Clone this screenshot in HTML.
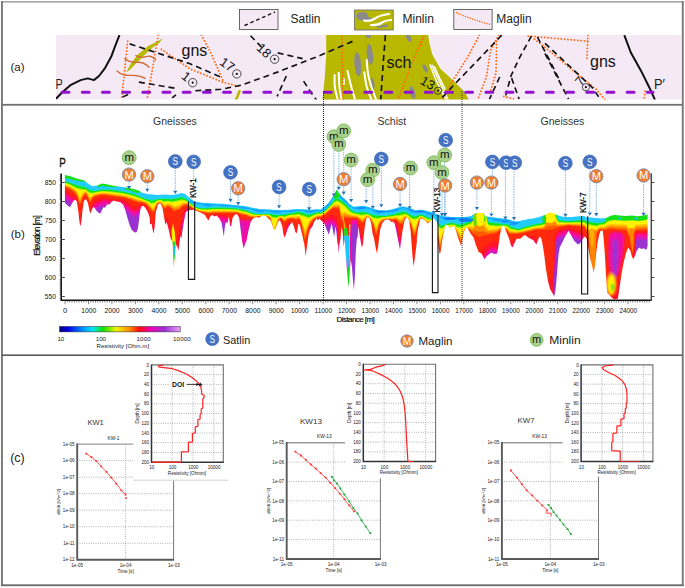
<!DOCTYPE html><html><head><meta charset="utf-8"><title>fig</title>
<style>html,body{margin:0;padding:0;background:#fff}body{width:685px;height:588px;overflow:hidden;font-family:"Liberation Sans",sans-serif}svg{display:block}text{font-family:"Liberation Sans",sans-serif}</style></head><body>
<svg width="685" height="588" viewBox="0 0 685 588">
<rect width="685" height="588" fill="#fff"/>
<g id="frame">
<rect x="1" y="1" width="682.6" height="1.7" fill="#aaaaaa"/>
<rect x="1" y="1" width="1.9" height="585" fill="#777"/>
<rect x="681.8" y="1" width="1.9" height="585" fill="#777"/>
<rect x="1" y="584.3" width="682.6" height="1.9" fill="#6e6e6e"/>
<rect x="2" y="103.9" width="680" height="1.8" fill="#707070"/>
<rect x="2" y="354.4" width="680" height="1.6" fill="#5a5a5a"/>
</g>
<g id="panelA">
<rect x="239.5" y="9.5" width="38.5" height="20" fill="#f6e9f6" stroke="#444" stroke-width="0.8"/>
<path d="M244.5 25.5 L275 12" stroke="#111" stroke-width="1.4" stroke-dasharray="3.6 2.8" fill="none"/>
<text x="290.5" y="23" font-size="12" fill="#222">Satlin</text>
<rect x="354.5" y="10" width="38.7" height="20" fill="#b9b800" stroke="#666" stroke-width="0.8"/>
<path d="M356 16 Q357 12 362 12 L366 12 Q368 14 368.5 17 L372 18 Q371 21 366 21 L361 20.5 Q357 20 356 16Z" fill="#8b8b8b"/>
<path d="M375 25.5 Q378 26.5 381 25.5 L388 24 L387 27 L378 28 Z" fill="#8b8b8b"/>
<path d="M364 20.5 Q370 22 375 18.5 Q380 15 389 14" stroke="#fff" stroke-width="2.2" fill="none" stroke-linecap="round"/>
<path d="M371 25 Q378 25.5 382 22.5 Q386 20 391 20" stroke="#fff" stroke-width="2.2" fill="none" stroke-linecap="round"/>
<text x="402.5" y="23" font-size="12" fill="#222">Minlin</text>
<rect x="453.8" y="9.5" width="38.3" height="20" fill="#f6e9f6" stroke="#444" stroke-width="0.8"/>
<path d="M456 12.5 Q470 19 490.5 24.5" stroke="#ff6a13" stroke-width="1.5" stroke-dasharray="1.2 1.3" fill="none"/>
<text x="496.3" y="23" font-size="12" fill="#222">Maglin</text>
<clipPath id="mapclip"><rect x="56" y="35" width="625" height="64.6"/></clipPath>
<rect x="56" y="35" width="625" height="64.6" fill="#f6e9f6"/>
<g clip-path="url(#mapclip)">
<path d="M326.2 35.1 L326.2 56.6 L324.9 75.0 L323.5 91.3 L322.5 100.5 L469.0 100.5 L466.6 95.4 L463.9 91.3 L452.7 80.1 L440.4 68.8 L432.3 54.5 L429.2 42.3 L428.2 35.1 Z" fill="#b9b800"/>
<ellipse cx="368.1" cy="36.1" rx="3.0" ry="1.8" fill="#8b8b8b" transform="rotate(15 368.1 36.1)"/>
<ellipse cx="369.9" cy="54.5" rx="3.1" ry="10.5" fill="#8b8b8b" transform="rotate(-6 369.9 54.5)"/>
<ellipse cx="357.8" cy="64.3" rx="3.4" ry="12.0" fill="#8b8b8b" transform="rotate(-5 357.8 64.3)"/>
<ellipse cx="408.7" cy="37.8" rx="2.2" ry="4.2" fill="#8b8b8b" transform="rotate(-25 408.7 37.8)"/>
<ellipse cx="425.1" cy="68.4" rx="1.8" ry="4.2" fill="#8b8b8b" transform="rotate(-30 425.1 68.4)"/>
<ellipse cx="372.6" cy="83.5" rx="1.8" ry="6.0" fill="#8b8b8b" transform="rotate(-8 372.6 83.5)"/>
<ellipse cx="412.6" cy="92.6" rx="2.6" ry="6.5" fill="#8b8b8b" transform="rotate(-15 412.6 92.6)"/>
<ellipse cx="425.4" cy="68.5" rx="1.5" ry="4.2" fill="#8b8b8b" transform="rotate(-25 425.4 68.5)"/>
<path d="M334.6 75.1 Q334.4 85.0 335.1 88.5 Q335.8 92.0 337.8 100.0" stroke="#fff" stroke-width="2.0" fill="none" stroke-linecap="round"/>
<path d="M338.7 72.8 Q339.1 85.0 339.6 88.5 Q340.0 92.0 341.8 100.0" stroke="#fff" stroke-width="2.0" fill="none" stroke-linecap="round"/>
<path d="M343.9 79.0 L343.9 84.0" stroke="#fff" stroke-width="1.8" fill="none" stroke-linecap="round"/>
<path d="M347.5 71.0 Q349.6 80.0 350.8 85.0 Q352.0 90.0 355.2 100.0" stroke="#fff" stroke-width="2.0" fill="none" stroke-linecap="round"/>
<path d="M364.4 72.2 Q365.4 82.0 366.7 86.5 Q368.0 91.0 371.6 100.0" stroke="#fff" stroke-width="2.0" fill="none" stroke-linecap="round"/>
<path d="M366.7 59.9 Q367.4 72.0 368.9 78.0 Q370.5 84.0 372.0 88.5 Q373.5 93.0 376.3 100.0" stroke="#fff" stroke-width="2.0" fill="none" stroke-linecap="round"/>
<path d="M430.1 65.0 Q434.5 77.0 437.2 82.8 Q440.0 88.5 446.3 100.0" stroke="#fff" stroke-width="1.5" fill="none" stroke-linecap="round"/>
<path d="M432.1 65.2 Q437.0 77.0 440.0 82.8 Q443.0 88.5 448.2 100.0" stroke="#fff" stroke-width="1.5" fill="none" stroke-linecap="round"/>
<path d="M434.5 66.9 Q439.5 79.0 445.0 88.6" stroke="#fff" stroke-width="1.5" fill="none" stroke-linecap="round"/>
<path d="M126.0 72.5 L130.7 63.7 L137.9 54.5 L148.1 45.9 L156.3 41.9 L162.8 38.2 L159.3 42.7 L152.2 48.0 L144.0 55.5 L135.8 63.7 L129.7 69.9 Z" fill="#b9b800"/>
<path d="M239.5 91.3 L236.4 99.1" stroke="#b9b800" stroke-width="2.6" fill="none" stroke-linecap="round"/>
<path d="M124.6 58.6 Q129.7 62.7 136.9 62.3 T149.1 67.2" stroke="#cf6a32" stroke-width="1.3" fill="none" stroke-linecap="round"/>
<path d="M135.8 55.5 Q140.9 58.6 146.1 56.6 T155.7 59.8" stroke="#cf6a32" stroke-width="1.3" fill="none" stroke-linecap="round"/>
<path d="M117.0 70.9 Q122.6 76.0 130.7 75.4 T145.2 78.4" stroke="#cf6a32" stroke-width="1.3" fill="none" stroke-linecap="round"/>
<path d="M127.7 41.2 L121.5 99.5" stroke="#ff6a13" stroke-width="1.9" stroke-dasharray="0.01 3.3" stroke-linecap="round" fill="none"/>
<path d="M158.3 35.1 L147.1 99.5" stroke="#ff6a13" stroke-width="1.9" stroke-dasharray="0.01 3.3" stroke-linecap="round" fill="none"/>
<path d="M161.4 49.4 L190.0 68.8 L223.9 82.7 L241.3 86.8" stroke="#ff6a13" stroke-width="1.9" stroke-dasharray="0.01 3.3" stroke-linecap="round" fill="none"/>
<path d="M201.5 35.1 L210.7 52.5 L223.9 82.7" stroke="#ff6a13" stroke-width="1.9" stroke-dasharray="0.01 3.3" stroke-linecap="round" fill="none"/>
<path d="M341.9 36.1 L342.9 99.5" stroke="#ff6a13" stroke-width="1.9" stroke-dasharray="0.01 3.3" stroke-linecap="round" fill="none"/>
<path d="M423.6 36.1 L410.4 66.8 L398.1 99.5" stroke="#ff6a13" stroke-width="1.9" stroke-dasharray="0.01 3.3" stroke-linecap="round" fill="none"/>
<path d="M420.6 45.3 L423.7 37.2" stroke="#ff6a13" stroke-width="1.9" stroke-dasharray="0.01 3.3" stroke-linecap="round" fill="none"/>
<path d="M479.3 35.1 L468.0 56.6 L453.7 79.0 L442.5 99.5" stroke="#ff6a13" stroke-width="1.9" stroke-dasharray="0.01 3.3" stroke-linecap="round" fill="none"/>
<path d="M498.7 35.1 L490.5 50.4 L486.4 77.0 L477.8 99.5" stroke="#ff6a13" stroke-width="1.9" stroke-dasharray="0.01 3.3" stroke-linecap="round" fill="none"/>
<path d="M496.6 41.2 L496.0 72.9 L490.5 91.3" stroke="#ff6a13" stroke-width="1.9" stroke-dasharray="0.01 3.3" stroke-linecap="round" fill="none"/>
<path d="M503.8 96.4 L515.0 99.5" stroke="#ff6a13" stroke-width="1.9" stroke-dasharray="0.01 3.3" stroke-linecap="round" fill="none"/>
<path d="M528.3 36.1 L587.9 41.2" stroke="#ff6a13" stroke-width="1.9" stroke-dasharray="0.01 3.3" stroke-linecap="round" fill="none"/>
<path d="M587.9 35.1 L586.9 60.7" stroke="#ff6a13" stroke-width="1.9" stroke-dasharray="0.01 3.3" stroke-linecap="round" fill="none"/>
<path d="M534.4 39.2 L545.0 47.4 L596.1 89.3 L605.3 99.9" stroke="#ff6a13" stroke-width="1.9" stroke-dasharray="0.01 3.3" stroke-linecap="round" fill="none"/>
<path d="M645.1 91.3 L643.9 99.5" stroke="#ff6a13" stroke-width="1.9" stroke-dasharray="0.01 3.3" stroke-linecap="round" fill="none"/>
<path d="M129.7 43.9 L190.0 63.7 L222.9 78.0" stroke="#111" stroke-width="1.65" stroke-dasharray="6 4" fill="none"/>
<path d="M138.9 82.1 L174.7 88.2" stroke="#111" stroke-width="1.65" stroke-dasharray="6 4" fill="none"/>
<path d="M122.6 97.0 L129.3 94.0" stroke="#111" stroke-width="1.65" stroke-dasharray="6 4" fill="none"/>
<path d="M172.2 97.9 L175.9 94.8" stroke="#111" stroke-width="1.65" stroke-dasharray="6 4" fill="none"/>
<path d="M195.3 90.7 L220.9 89.3 L241.3 85.2 L278.1 71.9 L320.0 55.5 L355.2 40.2" stroke="#111" stroke-width="1.65" stroke-dasharray="6 4" fill="none"/>
<path d="M250.5 35.7 L261.7 47.4" stroke="#111" stroke-width="1.65" stroke-dasharray="6 4" fill="none"/>
<path d="M277.7 52.9 L302.6 58.6" stroke="#111" stroke-width="1.65" stroke-dasharray="6 4" fill="none"/>
<path d="M286.3 76.0 L277.1 96.4" stroke="#111" stroke-width="1.65" stroke-dasharray="6 4" fill="none"/>
<path d="M303.6 81.1 L310.8 92.3 L316.5 99.9" stroke="#111" stroke-width="1.65" stroke-dasharray="6 4" fill="none"/>
<path d="M385.4 35.1 L383.4 60.7 L380.7 99.5" stroke="#111" stroke-width="1.65" stroke-dasharray="6 4" fill="none"/>
<path d="M501.7 35.1 L481.3 56.6 L452.7 86.2 L440.4 99.5" stroke="#111" stroke-width="1.65" stroke-dasharray="6 4" fill="none"/>
<path d="M499.7 77.0 L489.5 99.1" stroke="#111" stroke-width="1.65" stroke-dasharray="6 4" fill="none"/>
<path d="M531.4 36.1 L520.1 56.6 L510.9 76.0 L505.8 95.4" stroke="#111" stroke-width="1.65" stroke-dasharray="6 4" fill="none"/>
<path d="M511.6 78.0 L519.1 99.1" stroke="#111" stroke-width="1.65" stroke-dasharray="6 4" fill="none"/>
<path d="M537.5 37.2 L550.8 62.7 L560.0 81.1" stroke="#111" stroke-width="1.65" stroke-dasharray="6 4" fill="none"/>
<path d="M545.0 43.3 L592.0 87.2 L600.2 99.1" stroke="#111" stroke-width="1.65" stroke-dasharray="6 4" fill="none"/>
<path d="M545.0 53.5 L568.5 99.1" stroke="#111" stroke-width="1.65" stroke-dasharray="6 4" fill="none"/>
<path d="M119.5 35.1 L115.4 45.3 L111.3 56.6 L105.2 67.8 L99.0 76.0 L93.9 80.1 L87.8 78.4 L80.7 80.1 L70.4 85.2 L62.3 92.3 L55.7 99.1" stroke="#111" stroke-width="2" fill="none" stroke-linejoin="round"/>
<path d="M624.3 35.1 L630.8 52.5 L641.1 70.9 L649.2 87.2 L655.0 99.9" stroke="#111" stroke-width="2" fill="none" stroke-linejoin="round"/>
<path d="M62.1 92.3 L653 92.3" stroke="#9410d0" stroke-width="3" stroke-dasharray="6.9 13.28" stroke-linecap="round" fill="none"/>
<text x="181.5" y="56.3" font-size="16" fill="#111">gns</text>
<text x="590" y="66.9" font-size="16" fill="#111">gns</text>
<text x="386.6" y="67.9" font-size="16" fill="#111">sch</text>
<circle cx="236.8" cy="73.9" r="4.2" fill="none" stroke="#222" stroke-width="0.8"/><circle cx="236.8" cy="73.9" r="1.1" fill="#111"/>
<circle cx="192.7" cy="82.7" r="4.2" fill="none" stroke="#222" stroke-width="0.8"/><circle cx="192.7" cy="82.7" r="1.1" fill="#111"/>
<circle cx="274.6" cy="59.2" r="4.2" fill="none" stroke="#222" stroke-width="0.8"/><circle cx="274.6" cy="59.2" r="1.1" fill="#111"/>
<circle cx="438.0" cy="90.7" r="3.6" fill="none" stroke="#222" stroke-width="0.8"/><circle cx="438.0" cy="90.7" r="1.1" fill="#111"/>
<circle cx="585.9" cy="87.2" r="3.6" fill="none" stroke="#222" stroke-width="0.8"/><circle cx="585.9" cy="87.2" r="1.1" fill="#111"/>
<text x="227.4" y="69.0" font-size="13" fill="#111" text-anchor="middle" transform="rotate(35 227.4 64.3)">17</text>
<text x="186.3" y="80.9" font-size="13" fill="#111" text-anchor="middle" transform="rotate(38 186.3 76.2)">1</text>
<text x="264.2" y="55.1" font-size="13" fill="#111" text-anchor="middle" transform="rotate(42 264.2 50.4)">18</text>
<text x="427.8" y="87.4" font-size="13" fill="#111" text-anchor="middle" transform="rotate(30 427.8 82.7)">13</text>
<text x="579.7" y="85.6" font-size="13" fill="#111" text-anchor="middle" transform="rotate(-50 579.7 80.9)">7</text>
</g>
<text x="55.5" y="89.4" font-size="14" fill="#222" textLength="7.2" lengthAdjust="spacingAndGlyphs">P</text>
<text x="654" y="89.4" font-size="14" fill="#222" textLength="11" lengthAdjust="spacingAndGlyphs">P′</text>
<text x="10.5" y="70.7" font-size="11.5" fill="#222">(a)</text>
</g>
<g id="panelB">
<defs><clipPath id="secclip"><path d="M64.9 175.0 L69.6 176.0 L76.9 178.5 L84.2 180.4 L88.6 184.1 L92.3 186.3 L97.4 185.5 L101.8 183.4 L105.4 184.1 L113.5 185.8 L120.8 186.7 L128.1 187.7 L134.7 189.2 L139.1 190.7 L142.7 192.9 L148.6 194.3 L150.0 194.3 L157.3 195.0 L164.6 194.6 L171.9 195.0 L177.8 194.0 L181.4 192.9 L185.1 194.0 L189.5 198.0 L193.9 200.9 L199.7 202.4 L208.5 203.1 L215.8 203.4 L223.1 203.8 L230.4 204.5 L237.7 205.3 L243.6 206.0 L245.0 206.0 L252.3 207.8 L259.6 208.9 L266.9 209.2 L274.2 209.7 L281.5 210.1 L288.9 209.7 L296.2 208.9 L303.5 209.2 L310.8 209.7 L318.1 208.9 L320.0 209.7 L324.4 206.7 L328.8 202.4 L332.4 197.2 L334.6 192.9 L337.1 189.2 L339.0 192.9 L341.9 196.5 L345.6 199.4 L349.2 203.8 L353.6 206.7 L358.0 206.3 L363.9 205.7 L369.7 207.2 L374.1 208.9 L378.5 210.1 L385.8 210.4 L393.1 208.9 L398.9 207.2 L403.3 206.3 L407.7 207.5 L413.6 209.2 L415.0 210.4 L420.8 209.7 L426.7 210.7 L432.5 212.6 L438.4 214.8 L444.2 216.2 L451.5 217.0 L458.9 217.0 L464.7 217.0 L470.6 216.2 L473.5 214.5 L475.7 213.0 L483.7 213.0 L485.2 216.2 L491.0 217.0 L496.9 217.7 L502.7 218.4 L508.6 219.2 L510.0 219.9 L515.8 221.4 L521.7 220.6 L527.5 219.2 L533.4 218.4 L539.2 217.0 L545.1 214.8 L550.2 212.6 L553.9 213.3 L558.2 215.5 L564.1 217.0 L571.4 217.0 L578.7 216.2 L584.6 216.0 L585.0 217.0 L590.8 217.4 L596.7 218.0 L602.5 218.4 L606.9 217.7 L609.9 216.0 L614.2 215.1 L620.1 215.5 L625.9 216.0 L631.8 215.5 L637.6 216.2 L643.5 215.5 L647.6 214.5 L647.6 246.1 L646.4 249.7 L643.5 248.3 L641.3 249.0 L639.1 247.5 L636.9 250.5 L634.7 256.3 L633.2 259.2 L631.8 256.3 L630.3 250.5 L628.1 247.5 L625.9 253.4 L623.7 262.2 L621.5 273.9 L619.4 288.5 L617.9 298.7 L614.2 299.4 L611.3 297.3 L607.7 292.9 L607.7 294.3 L606.8 288.5 L605.8 270.9 L604.7 251.9 L603.6 238.8 L602.8 230.7 L600.6 230.7 L599.2 234.4 L597.7 241.7 L596.3 251.9 L594.8 266.5 L593.6 272.4 L592.6 268.0 L590.4 259.2 L588.2 247.5 L586.8 238.8 L584.6 236.6 L581.6 240.2 L580.2 243.2 L578.0 244.6 L574.3 241.0 L571.4 235.8 L568.5 230.7 L564.8 237.3 L561.9 243.2 L559.7 247.5 L558.5 254.9 L557.5 266.5 L556.5 279.7 L555.3 291.4 L554.2 296.5 L552.4 292.9 L550.2 289.2 L548.0 281.2 L545.8 268.0 L544.4 256.3 L542.9 246.1 L541.4 238.8 L540.0 236.6 L538.5 238.8 L536.3 244.6 L533.4 240.2 L529.0 238.0 L524.6 235.1 L520.2 238.8 L516.6 238.8 L514.4 243.2 L512.2 247.5 L510.0 243.2 L513.7 245.4 L512.2 247.5 L510.0 241.7 L508.6 237.3 L506.4 232.3 L504.5 226.5 L502.7 225.7 L501.3 227.9 L499.8 235.8 L498.6 244.6 L497.2 253.4 L494.7 254.1 L491.0 252.7 L487.4 255.6 L484.4 259.2 L481.5 253.4 L478.6 251.9 L475.7 244.6 L473.5 237.3 L471.3 234.4 L469.1 230.9 L466.9 227.2 L465.4 228.7 L463.5 232.9 L462.1 241.7 L461.1 245.4 L458.9 240.2 L456.7 232.9 L454.5 226.5 L452.3 226.5 L450.1 227.9 L447.9 225.7 L445.7 224.3 L443.5 232.9 L442.0 241.7 L440.6 251.9 L439.6 254.1 L438.7 249.0 L437.7 238.8 L438.4 226.5 L436.9 222.1 L433.3 217.7 L431.8 219.2 L429.6 222.1 L427.4 223.6 L425.2 220.6 L422.3 218.4 L420.1 219.2 L417.9 229.4 L416.5 241.1 L417.2 238.8 L415.8 250.5 L414.7 259.2 L413.6 266.5 L412.4 254.9 L411.4 241.7 L410.6 230.9 L409.2 220.6 L407.0 217.0 L404.8 219.2 L403.3 226.5 L401.9 234.4 L400.8 243.2 L400.0 249.7 L398.9 244.6 L397.5 237.3 L396.0 229.4 L394.6 223.6 L393.1 221.4 L391.6 222.1 L389.4 219.9 L387.3 219.2 L384.3 220.6 L382.1 223.6 L380.2 229.4 L379.2 237.3 L378.2 246.1 L377.0 253.4 L375.6 247.5 L374.1 238.8 L372.6 233.8 L371.2 223.6 L369.7 218.4 L367.5 217.0 L366.1 219.2 L365.0 225.0 L363.9 234.4 L363.0 243.2 L362.1 247.5 L361.2 244.6 L360.2 238.8 L359.2 232.3 L358.3 226.5 L357.7 236.7 L356.8 238.8 L355.8 251.9 L354.8 278.2 L353.9 289.9 L352.9 279.7 L351.9 266.5 L350.7 259.2 L349.5 276.8 L348.5 287.7 L347.0 270.9 L345.6 251.9 L344.6 238.8 L343.7 246.9 L342.7 232.3 L341.6 226.5 L340.5 238.8 L339.4 244.6 L338.7 254.1 L338.1 244.6 L337.5 244.0 L336.4 232.3 L335.4 226.5 L334.2 236.7 L333.2 232.3 L331.7 223.6 L330.2 229.4 L328.8 234.5 L326.6 229.4 L324.4 223.6 L320.0 219.2 L319.6 217.7 L318.1 220.6 L316.6 218.4 L314.4 221.4 L312.3 226.5 L310.1 229.4 L308.6 234.4 L307.6 241.7 L306.4 250.5 L305.7 256.3 L305.2 251.9 L304.2 243.2 L303.5 241.1 L302.7 236.7 L301.3 230.9 L299.8 225.0 L298.4 223.6 L296.9 233.1 L295.4 232.3 L294.0 226.5 L292.1 222.1 L290.3 224.3 L288.9 226.5 L287.4 229.4 L285.9 234.5 L284.5 237.4 L283.3 233.8 L282.3 226.5 L280.8 222.1 L279.4 219.9 L277.9 222.1 L276.4 226.5 L275.0 230.1 L273.5 228.7 L272.0 224.3 L270.6 220.6 L268.4 218.4 L266.2 216.2 L263.3 215.5 L261.1 216.2 L258.9 217.7 L256.0 217.0 L253.0 218.4 L250.8 221.4 L248.7 229.4 L246.5 241.1 L245.0 244.0 L244.7 245.5 L243.6 248.4 L242.1 241.1 L240.6 229.4 L239.2 217.7 L237.0 214.1 L234.8 214.8 L232.6 217.7 L231.1 226.5 L230.1 225.7 L228.9 216.2 L227.5 223.6 L226.0 222.1 L224.9 226.5 L223.8 236.7 L223.1 232.3 L221.6 222.8 L219.4 218.4 L216.5 215.5 L214.3 216.5 L212.1 214.8 L209.9 217.0 L208.5 220.6 L207.0 218.4 L204.8 214.8 L200.4 212.6 L196.8 211.1 L193.9 209.7 L190.9 210.1 L188.3 210.4 L185.8 211.9 L183.6 223.6 L181.4 238.2 L180.4 235.8 L179.2 244.6 L178.5 250.5 L177.8 248.3 L176.6 244.6 L175.6 249.0 L174.6 259.2 L173.7 266.5 L173.1 256.3 L172.7 244.6 L171.9 238.8 L171.2 241.1 L169.0 230.9 L167.5 225.0 L166.4 222.1 L165.4 225.0 L163.9 216.2 L162.4 207.5 L160.2 203.1 L158.0 204.5 L155.8 211.9 L154.7 226.5 L153.7 233.8 L152.6 229.4 L151.5 223.6 L150.0 224.3 L149.7 217.7 L147.8 211.9 L145.6 208.2 L143.5 205.7 L141.5 206.3 L140.1 210.4 L139.1 219.2 L138.0 227.9 L136.6 232.3 L134.7 232.6 L131.8 230.1 L129.6 225.0 L127.4 217.7 L125.2 209.7 L123.0 204.5 L120.1 201.9 L116.4 201.6 L113.5 200.5 L111.3 201.9 L109.8 204.3 L106.9 204.5 L105.4 207.5 L103.2 207.5 L101.5 211.1 L100.3 213.6 L98.9 213.0 L96.7 211.1 L94.8 208.2 L93.3 206.7 L91.5 210.4 L90.4 213.6 L89.4 210.4 L87.9 203.1 L86.0 199.0 L83.9 200.9 L82.5 210.4 L81.3 222.1 L80.3 226.5 L79.6 222.8 L78.4 211.9 L76.9 201.9 L75.5 199.4 L73.3 200.9 L71.1 205.3 L69.6 207.2 L67.4 205.3 L64.9 203.1 Z"/></clipPath>
<filter id="blur1" x="-5%" y="-5%" width="110%" height="110%"><feGaussianBlur stdDeviation="0.75"/></filter><filter id="blur2" x="-30%" y="-30%" width="160%" height="160%"><feGaussianBlur stdDeviation="1.3"/></filter></defs>
<g clip-path="url(#secclip)"><g filter="url(#blur1)">
<rect x="60" y="165" width="595" height="140" fill="#9a32d2"/>
<path d="M64 160 L64.0 199.1 65.0 199.2 66.0 199.9 67.0 200.7 68.0 201.5 69.0 202.3 70.0 203.0 71.0 203.5 72.0 204.0 73.0 204.5 74.0 205.0 75.0 206.5 76.0 208.0 77.0 210.0 78.0 219.3 79.0 228.5 80.0 235.5 81.0 229.5 82.0 223.5 83.0 218.0 84.0 214.1 85.0 210.3 86.0 206.5 87.0 210.6 88.0 214.7 89.0 218.8 90.0 222.9 91.0 219.9 92.0 216.3 93.0 212.7 94.0 211.1 95.0 210.3 96.0 209.6 97.0 208.9 98.0 208.5 99.0 208.2 100.0 208.0 101.0 207.7 102.0 207.3 103.0 207.0 104.0 206.7 105.0 206.5 106.0 206.8 107.0 207.0 108.0 207.3 109.0 207.5 110.0 207.8 111.0 208.0 112.0 208.3 113.0 208.5 114.0 208.6 115.0 208.5 116.0 208.4 117.0 208.3 118.0 208.2 119.0 208.1 120.0 208.0 121.0 208.0 122.0 208.5 123.0 209.0 124.0 209.5 125.0 210.0 126.0 210.8 127.0 211.6 128.0 212.4 129.0 213.3 130.0 214.1 131.0 214.9 132.0 215.8 133.0 216.6 134.0 217.4 135.0 217.0 136.0 216.7 137.0 216.4 138.0 216.0 139.0 215.1 140.0 213.9 141.0 212.6 142.0 212.7 143.0 213.2 144.0 213.7 145.0 214.2 146.0 215.2 147.0 217.2 148.0 219.2 149.0 223.5 150.0 230.9 151.0 234.1 152.0 237.3 153.0 240.5 154.0 239.5 155.0 230.5 156.0 221.5 157.0 215.4 158.0 213.4 159.0 211.7 160.0 211.2 161.0 215.3 162.0 220.8 163.0 226.3 164.0 231.8 165.0 234.7 166.0 233.2 167.0 231.7 168.0 233.1 169.0 238.1 170.0 243.1 171.0 249.7 172.0 257.7 173.0 265.7 174.0 273.7 175.0 271.2 176.0 267.2 177.0 263.2 178.0 259.2 179.0 255.2 180.0 247.9 181.0 239.5 182.0 231.1 183.0 223.3 184.0 220.8 185.0 218.3 186.0 216.3 187.0 216.4 188.0 216.6 189.0 216.7 190.0 216.8 191.0 217.0 192.0 217.5 193.0 218.0 194.0 218.5 195.0 219.0 196.0 219.5 197.0 220.0 198.0 220.5 199.0 221.4 200.0 222.4 201.0 223.4 202.0 224.4 203.0 225.4 204.0 226.4 205.0 227.4 206.0 227.9 207.0 227.9 208.0 227.9 209.0 227.3 210.0 226.2 211.0 225.0 212.0 223.8 213.0 222.8 214.0 222.8 215.0 222.8 216.0 222.8 217.0 222.8 218.0 222.8 219.0 222.9 220.0 223.0 221.0 223.2 222.0 223.4 223.0 223.5 224.0 223.7 225.0 223.9 226.0 224.0 227.0 224.2 228.0 225.4 229.0 227.7 230.0 229.9 231.0 229.7 232.0 227.7 233.0 225.7 234.0 223.7 235.0 223.2 236.0 222.8 237.0 222.4 238.0 222.4 239.0 223.5 240.0 224.6 241.0 226.4 242.0 229.6 243.0 236.4 244.0 245.7 245.0 249.1 246.0 250.1 247.0 251.1 248.0 242.2 249.0 236.9 250.0 231.7 251.0 227.2 252.0 226.9 253.0 226.7 254.0 226.5 255.0 226.5 256.0 226.5 257.0 226.5 258.0 226.5 259.0 226.5 260.0 226.5 261.0 226.5 262.0 226.5 263.0 226.5 264.0 226.5 265.0 226.5 266.0 226.5 267.0 226.6 268.0 227.8 269.0 229.0 270.0 230.2 271.0 234.2 272.0 242.2 273.0 250.2 274.0 258.2 275.0 254.6 276.0 247.4 277.0 240.2 278.0 233.6 279.0 232.1 280.0 230.6 281.0 230.3 282.0 235.5 283.0 240.7 284.0 245.9 285.0 245.2 286.0 239.2 287.0 233.2 288.0 230.9 289.0 230.9 290.0 230.9 291.0 230.9 292.0 231.4 293.0 234.1 294.0 236.8 295.0 239.4 296.0 242.1 297.0 239.6 298.0 236.1 299.0 232.6 300.0 240.8 301.0 250.1 302.0 257.1 303.0 263.1 304.0 269.1 305.0 274.4 306.0 268.4 307.0 262.4 308.0 255.8 309.0 245.8 310.0 235.8 311.0 234.1 312.0 232.9 313.0 231.7 314.0 230.7 315.0 230.0 316.0 229.3 317.0 228.7 318.0 228.0 319.0 227.9 320.0 227.9 321.0 227.9 322.0 227.9 323.0 227.9 324.0 227.9 325.0 227.6 326.0 227.1 327.0 226.6 328.0 226.1 329.0 225.7 330.0 225.4 331.0 225.2 332.0 225.2 333.0 225.9 334.0 226.6 335.0 227.6 336.0 228.6 337.0 231.8 338.0 244.4 339.0 257.1 340.0 258.3 341.0 259.4 342.0 258.0 343.0 252.1 344.0 246.2 345.0 249.4 346.0 253.8 347.0 258.3 348.0 262.7 349.0 267.2 350.0 271.6 351.0 272.7 352.0 266.1 353.0 259.4 354.0 252.7 355.0 246.1 356.0 239.4 357.0 232.7 358.0 232.9 359.0 235.4 360.0 237.7 361.0 245.1 362.0 253.7 363.0 251.8 364.0 242.8 365.0 233.8 366.0 230.0 367.0 228.6 368.0 228.4 369.0 229.4 370.0 230.4 371.0 236.5 372.0 246.5 373.0 256.5 374.0 263.3 375.0 268.3 376.0 273.3 377.0 271.2 378.0 266.2 379.0 261.2 380.0 252.2 381.0 242.2 382.0 232.2 383.0 230.5 384.0 230.1 385.0 229.6 386.0 229.2 387.0 228.8 388.0 228.8 389.0 228.9 390.0 229.0 391.0 229.1 392.0 229.3 393.0 229.4 394.0 229.4 395.0 229.4 396.0 229.4 397.0 234.5 398.0 239.7 399.0 244.9 400.0 248.1 401.0 247.1 402.0 246.1 403.0 242.8 404.0 236.2 405.0 230.9 406.0 230.9 407.0 230.9 408.0 233.7 409.0 243.7 410.0 253.7 411.0 263.0 412.0 271.0 413.0 279.0 414.0 287.0 415.0 284.7 416.0 278.0 417.0 248.2 418.0 235.5 419.0 232.1 420.0 230.9 421.0 230.9 422.0 230.9 423.0 232.8 424.0 235.7 425.0 238.5 426.0 241.4 427.0 244.3 428.0 245.5 429.0 245.5 430.0 245.5 431.0 245.5 432.0 245.5 433.0 247.0 434.0 250.3 435.0 253.7 436.0 257.0 437.0 260.7 438.0 269.8 439.0 278.9 440.0 288.0 441.0 281.9 442.0 273.2 443.0 264.5 444.0 256.8 445.0 250.2 446.0 245.5 447.0 245.5 448.0 245.5 449.0 245.5 450.0 245.5 451.0 245.5 452.0 245.5 453.0 245.5 454.0 245.5 455.0 247.6 456.0 251.6 457.0 255.6 458.0 259.6 459.0 264.5 460.0 269.5 461.0 274.5 462.0 270.0 463.0 265.0 464.0 259.9 465.0 249.9 466.0 245.9 467.0 246.7 468.0 247.5 469.0 248.3 470.0 253.8 471.0 259.8 472.0 265.8 473.0 271.8 474.0 274.7 475.0 274.7 476.0 274.7 477.0 274.7 478.0 274.7 479.0 274.7 480.0 273.0 481.0 270.5 482.0 268.0 483.0 265.5 484.0 263.0 485.0 260.5 486.0 259.2 487.0 258.0 488.0 256.9 489.0 255.8 490.0 254.7 491.0 253.5 492.0 253.5 493.0 253.5 494.0 253.5 495.0 253.5 496.0 254.1 497.0 255.1 498.0 256.1 499.0 257.1 500.0 254.2 501.0 251.0 502.0 247.8 503.0 246.6 504.0 250.6 505.0 254.6 506.0 258.6 507.0 260.1 508.0 260.1 509.0 260.1 510.0 251.3 511.0 251.6 512.0 251.8 513.0 252.1 514.0 252.3 515.0 252.6 516.0 252.8 517.0 252.8 518.0 252.8 519.0 252.8 520.0 252.8 521.0 252.0 522.0 251.0 523.0 250.0 524.0 249.0 525.0 248.2 526.0 247.7 527.0 247.2 528.0 246.7 529.0 246.2 530.0 245.7 531.0 245.7 532.0 246.2 533.0 246.7 534.0 247.2 535.0 247.7 536.0 248.2 537.0 251.9 538.0 257.1 539.0 262.2 540.0 267.4 541.0 272.5 542.0 281.5 543.0 293.5 544.0 305.5 545.0 317.5 546.0 318.6 547.0 318.6 548.0 318.6 549.0 318.6 550.0 318.6 551.0 318.6 552.0 318.6 553.0 318.6 554.0 279.4 555.0 250.1 556.0 243.6 557.0 241.4 558.0 239.9 559.0 239.1 560.0 238.4 561.0 238.2 562.0 237.9 563.0 237.7 564.0 237.5 565.0 237.1 566.0 236.8 567.0 236.5 568.0 236.1 569.0 236.2 570.0 236.7 571.0 237.2 572.0 237.7 573.0 238.2 574.0 238.5 575.0 238.9 576.0 239.2 577.0 239.5 578.0 239.9 579.0 240.2 580.0 240.5 581.0 240.9 582.0 241.6 583.0 243.1 584.0 244.6 585.0 252.1 586.0 267.1 587.0 282.1 588.0 289.3 589.0 289.8 590.0 297.8 591.0 305.8 592.0 313.8 593.0 315.4 594.0 307.4 595.0 299.4 596.0 291.4 597.0 281.9 598.0 271.9 599.0 261.9 600.0 253.8 601.0 246.1 602.0 257.7 603.0 271.1 604.0 283.4 605.0 295.4 606.0 307.4 607.0 318.6 608.0 318.6 609.0 318.6 610.0 318.6 611.0 318.6 612.0 318.6 613.0 318.6 614.0 318.6 615.0 318.6 616.0 318.6 617.0 318.6 618.0 318.6 619.0 318.6 620.0 318.6 621.0 318.6 622.0 318.6 623.0 318.6 624.0 310.7 625.0 302.7 626.0 294.7 627.0 287.1 628.0 280.5 629.0 275.4 630.0 280.4 631.0 285.4 632.0 287.9 633.0 281.2 634.0 274.2 635.0 250.7 636.0 240.3 637.0 240.1 638.0 240.0 639.0 239.9 640.0 239.7 641.0 239.7 642.0 239.8 643.0 239.9 644.0 240.0 645.0 240.1 646.0 240.2 647.0 240.3 648.0 240.4 649.0 240.4 L649 160 Z" fill="#c224c4"/>
<path d="M64 160 L64.0 197.0 65.0 197.1 66.0 197.8 67.0 198.6 68.0 199.4 69.0 200.2 70.0 200.9 71.0 201.4 72.0 201.9 73.0 202.4 74.0 202.9 75.0 204.4 76.0 205.9 77.0 207.9 78.0 217.2 79.0 226.4 80.0 233.4 81.0 227.4 82.0 221.4 83.0 215.9 84.0 212.0 85.0 208.2 86.0 204.4 87.0 208.5 88.0 212.6 89.0 216.7 90.0 220.8 91.0 217.8 92.0 214.2 93.0 210.6 94.0 209.0 95.0 208.2 96.0 207.5 97.0 206.8 98.0 206.4 99.0 206.1 100.0 205.9 101.0 205.6 102.0 205.2 103.0 204.9 104.0 204.6 105.0 204.4 106.0 204.7 107.0 204.9 108.0 205.2 109.0 205.4 110.0 205.7 111.0 205.9 112.0 206.2 113.0 206.4 114.0 206.5 115.0 206.4 116.0 206.3 117.0 206.2 118.0 206.1 119.0 206.0 120.0 205.9 121.0 205.9 122.0 206.4 123.0 206.9 124.0 207.4 125.0 207.9 126.0 208.7 127.0 209.5 128.0 210.3 129.0 211.2 130.0 212.0 131.0 212.8 132.0 213.7 133.0 214.5 134.0 215.3 135.0 214.9 136.0 214.6 137.0 214.3 138.0 213.9 139.0 213.0 140.0 211.8 141.0 210.5 142.0 210.6 143.0 211.1 144.0 211.6 145.0 212.1 146.0 213.1 147.0 215.1 148.0 217.1 149.0 221.4 150.0 228.8 151.0 232.0 152.0 235.2 153.0 238.4 154.0 237.4 155.0 228.4 156.0 219.4 157.0 213.3 158.0 211.3 159.0 209.6 160.0 209.1 161.0 213.2 162.0 218.7 163.0 224.2 164.0 229.7 165.0 232.6 166.0 231.1 167.0 229.6 168.0 231.0 169.0 236.0 170.0 241.0 171.0 247.6 172.0 255.6 173.0 263.6 174.0 271.6 175.0 269.1 176.0 265.1 177.0 261.1 178.0 257.1 179.0 253.1 180.0 245.8 181.0 237.4 182.0 229.0 183.0 221.2 184.0 218.7 185.0 216.2 186.0 214.2 187.0 214.3 188.0 214.5 189.0 214.6 190.0 214.7 191.0 214.9 192.0 215.4 193.0 215.9 194.0 216.4 195.0 216.9 196.0 217.4 197.0 217.9 198.0 218.4 199.0 219.3 200.0 220.3 201.0 221.3 202.0 222.3 203.0 223.3 204.0 224.3 205.0 225.3 206.0 225.8 207.0 225.8 208.0 225.8 209.0 225.2 210.0 224.1 211.0 222.9 212.0 221.7 213.0 220.7 214.0 220.7 215.0 220.7 216.0 220.7 217.0 220.7 218.0 220.7 219.0 220.8 220.0 220.9 221.0 221.1 222.0 221.3 223.0 221.4 224.0 221.6 225.0 221.8 226.0 221.9 227.0 222.1 228.0 223.3 229.0 225.6 230.0 227.8 231.0 227.6 232.0 225.6 233.0 223.6 234.0 221.6 235.0 221.1 236.0 220.7 237.0 220.3 238.0 220.3 239.0 221.4 240.0 222.5 241.0 224.3 242.0 227.5 243.0 234.3 244.0 243.6 245.0 247.0 246.0 248.0 247.0 249.0 248.0 240.1 249.0 234.8 250.0 229.6 251.0 225.1 252.0 224.8 253.0 224.6 254.0 224.4 255.0 224.4 256.0 224.4 257.0 224.4 258.0 224.4 259.0 224.4 260.0 224.4 261.0 224.4 262.0 224.4 263.0 224.4 264.0 224.4 265.0 224.4 266.0 224.4 267.0 224.5 268.0 225.7 269.0 226.9 270.0 228.1 271.0 232.1 272.0 240.1 273.0 248.1 274.0 256.1 275.0 252.5 276.0 245.3 277.0 238.1 278.0 231.5 279.0 230.0 280.0 228.5 281.0 228.2 282.0 233.4 283.0 238.6 284.0 243.8 285.0 243.1 286.0 237.1 287.0 231.1 288.0 228.8 289.0 228.8 290.0 228.8 291.0 228.8 292.0 229.3 293.0 232.0 294.0 234.7 295.0 237.3 296.0 240.0 297.0 237.5 298.0 234.0 299.0 230.5 300.0 238.7 301.0 248.0 302.0 255.0 303.0 261.0 304.0 267.0 305.0 272.3 306.0 266.3 307.0 260.3 308.0 253.7 309.0 243.7 310.0 233.7 311.0 232.0 312.0 230.8 313.0 229.6 314.0 228.6 315.0 227.9 316.0 227.2 317.0 226.6 318.0 225.9 319.0 225.8 320.0 225.8 321.0 225.8 322.0 225.8 323.0 225.8 324.0 225.8 325.0 225.5 326.0 225.0 327.0 224.5 328.0 224.0 329.0 223.6 330.0 223.3 331.0 223.1 332.0 223.1 333.0 223.8 334.0 224.5 335.0 225.5 336.0 226.5 337.0 229.7 338.0 242.3 339.0 255.0 340.0 256.2 341.0 257.3 342.0 255.9 343.0 250.0 344.0 244.1 345.0 247.3 346.0 251.7 347.0 256.2 348.0 260.6 349.0 265.1 350.0 269.5 351.0 270.6 352.0 264.0 353.0 257.3 354.0 250.6 355.0 244.0 356.0 237.3 357.0 230.6 358.0 230.8 359.0 233.3 360.0 235.6 361.0 243.0 362.0 251.6 363.0 249.7 364.0 240.7 365.0 231.7 366.0 227.9 367.0 226.5 368.0 226.3 369.0 227.3 370.0 228.3 371.0 234.4 372.0 244.4 373.0 254.4 374.0 261.2 375.0 266.2 376.0 271.2 377.0 269.1 378.0 264.1 379.0 259.1 380.0 250.1 381.0 240.1 382.0 230.1 383.0 228.4 384.0 228.0 385.0 227.5 386.0 227.1 387.0 226.7 388.0 226.7 389.0 226.8 390.0 226.9 391.0 227.0 392.0 227.2 393.0 227.3 394.0 227.3 395.0 227.3 396.0 227.3 397.0 232.4 398.0 237.6 399.0 242.8 400.0 246.0 401.0 245.0 402.0 244.0 403.0 240.7 404.0 234.1 405.0 228.8 406.0 228.8 407.0 228.8 408.0 231.6 409.0 241.6 410.0 251.6 411.0 260.9 412.0 268.9 413.0 276.9 414.0 284.9 415.0 282.6 416.0 275.9 417.0 246.1 418.0 233.4 419.0 230.0 420.0 228.8 421.0 228.8 422.0 228.8 423.0 230.7 424.0 233.6 425.0 236.4 426.0 239.3 427.0 242.2 428.0 243.4 429.0 243.4 430.0 243.4 431.0 243.4 432.0 243.4 433.0 244.9 434.0 248.2 435.0 251.6 436.0 254.9 437.0 258.6 438.0 267.7 439.0 276.8 440.0 285.9 441.0 279.8 442.0 271.1 443.0 262.4 444.0 254.7 445.0 248.1 446.0 243.4 447.0 243.4 448.0 243.4 449.0 243.4 450.0 243.4 451.0 243.4 452.0 243.4 453.0 243.4 454.0 243.4 455.0 245.5 456.0 249.5 457.0 253.5 458.0 257.5 459.0 262.4 460.0 267.4 461.0 272.4 462.0 267.9 463.0 262.9 464.0 257.8 465.0 247.8 466.0 243.8 467.0 244.6 468.0 245.4 469.0 246.2 470.0 251.7 471.0 257.7 472.0 263.7 473.0 269.7 474.0 272.6 475.0 272.6 476.0 272.6 477.0 272.6 478.0 272.6 479.0 272.6 480.0 270.9 481.0 268.4 482.0 265.9 483.0 263.4 484.0 260.9 485.0 258.4 486.0 257.1 487.0 255.9 488.0 254.8 489.0 253.7 490.0 252.6 491.0 251.4 492.0 251.4 493.0 251.4 494.0 251.4 495.0 251.4 496.0 252.0 497.0 253.0 498.0 254.0 499.0 255.0 500.0 252.1 501.0 248.9 502.0 245.7 503.0 244.5 504.0 248.5 505.0 252.5 506.0 256.5 507.0 258.0 508.0 258.0 509.0 258.0 510.0 249.2 511.0 249.5 512.0 249.7 513.0 250.0 514.0 250.2 515.0 250.5 516.0 250.7 517.0 250.7 518.0 250.7 519.0 250.7 520.0 250.7 521.0 249.9 522.0 248.9 523.0 247.9 524.0 246.9 525.0 246.1 526.0 245.6 527.0 245.1 528.0 244.6 529.0 244.1 530.0 243.6 531.0 243.6 532.0 244.1 533.0 244.6 534.0 245.1 535.0 245.6 536.0 246.1 537.0 249.8 538.0 255.0 539.0 260.1 540.0 265.3 541.0 270.4 542.0 279.4 543.0 291.4 544.0 303.4 545.0 315.4 546.0 316.5 547.0 316.5 548.0 316.5 549.0 316.5 550.0 316.5 551.0 316.5 552.0 316.5 553.0 316.5 554.0 277.3 555.0 248.0 556.0 241.5 557.0 239.3 558.0 237.8 559.0 237.0 560.0 236.3 561.0 236.1 562.0 235.8 563.0 235.6 564.0 235.4 565.0 235.0 566.0 234.7 567.0 234.4 568.0 234.0 569.0 234.1 570.0 234.6 571.0 235.1 572.0 235.6 573.0 236.1 574.0 236.4 575.0 236.8 576.0 237.1 577.0 237.4 578.0 237.8 579.0 238.1 580.0 238.4 581.0 238.8 582.0 239.5 583.0 241.0 584.0 242.5 585.0 250.0 586.0 265.0 587.0 280.0 588.0 287.2 589.0 287.7 590.0 295.7 591.0 303.7 592.0 311.7 593.0 313.3 594.0 305.3 595.0 297.3 596.0 289.3 597.0 279.8 598.0 269.8 599.0 259.8 600.0 251.7 601.0 244.0 602.0 255.6 603.0 269.0 604.0 281.3 605.0 293.3 606.0 305.3 607.0 316.5 608.0 316.5 609.0 316.5 610.0 316.5 611.0 316.5 612.0 316.5 613.0 316.5 614.0 316.5 615.0 316.5 616.0 316.5 617.0 316.5 618.0 316.5 619.0 316.5 620.0 316.5 621.0 316.5 622.0 316.5 623.0 316.5 624.0 308.6 625.0 300.6 626.0 292.6 627.0 285.0 628.0 278.4 629.0 273.3 630.0 278.3 631.0 283.3 632.0 285.8 633.0 279.1 634.0 272.1 635.0 248.6 636.0 238.2 637.0 238.0 638.0 237.9 639.0 237.8 640.0 237.6 641.0 237.6 642.0 237.7 643.0 237.8 644.0 237.9 645.0 238.0 646.0 238.1 647.0 238.2 648.0 238.3 649.0 238.3 L649 160 Z" fill="#ee10a8"/>
<path d="M64 160 L64.0 194.9 65.0 195.0 66.0 195.7 67.0 196.5 68.0 197.3 69.0 198.1 70.0 198.8 71.0 199.3 72.0 199.8 73.0 200.3 74.0 200.8 75.0 202.3 76.0 203.8 77.0 205.8 78.0 215.1 79.0 224.3 80.0 231.3 81.0 225.3 82.0 219.3 83.0 213.8 84.0 209.9 85.0 206.1 86.0 202.3 87.0 206.4 88.0 210.5 89.0 214.6 90.0 218.7 91.0 215.7 92.0 212.1 93.0 208.5 94.0 206.9 95.0 206.1 96.0 205.4 97.0 204.7 98.0 204.3 99.0 204.0 100.0 203.8 101.0 203.5 102.0 203.1 103.0 202.8 104.0 202.5 105.0 202.3 106.0 202.6 107.0 202.8 108.0 203.1 109.0 203.3 110.0 203.6 111.0 203.8 112.0 204.1 113.0 204.3 114.0 204.4 115.0 204.3 116.0 204.2 117.0 204.1 118.0 204.0 119.0 203.9 120.0 203.8 121.0 203.8 122.0 204.3 123.0 204.8 124.0 205.3 125.0 205.8 126.0 206.6 127.0 207.4 128.0 208.2 129.0 209.1 130.0 209.9 131.0 210.7 132.0 211.6 133.0 212.4 134.0 213.2 135.0 212.8 136.0 212.5 137.0 212.2 138.0 211.8 139.0 210.9 140.0 209.7 141.0 208.4 142.0 208.5 143.0 209.0 144.0 209.5 145.0 210.0 146.0 211.0 147.0 213.0 148.0 215.0 149.0 219.3 150.0 226.7 151.0 229.9 152.0 233.1 153.0 236.3 154.0 235.3 155.0 226.3 156.0 217.3 157.0 211.2 158.0 209.2 159.0 207.5 160.0 207.0 161.0 211.1 162.0 216.6 163.0 222.1 164.0 227.6 165.0 230.5 166.0 229.0 167.0 227.5 168.0 228.9 169.0 233.9 170.0 238.9 171.0 245.5 172.0 253.5 173.0 261.5 174.0 269.5 175.0 267.0 176.0 263.0 177.0 259.0 178.0 255.0 179.0 251.0 180.0 243.7 181.0 235.3 182.0 226.9 183.0 219.1 184.0 216.6 185.0 214.1 186.0 212.1 187.0 212.2 188.0 212.4 189.0 212.5 190.0 212.6 191.0 212.8 192.0 213.3 193.0 213.8 194.0 214.3 195.0 214.8 196.0 215.3 197.0 215.8 198.0 216.3 199.0 217.2 200.0 218.2 201.0 219.2 202.0 220.2 203.0 221.2 204.0 222.2 205.0 223.2 206.0 223.7 207.0 223.7 208.0 223.7 209.0 223.1 210.0 222.0 211.0 220.8 212.0 219.6 213.0 218.6 214.0 218.6 215.0 218.6 216.0 218.6 217.0 218.6 218.0 218.6 219.0 218.7 220.0 218.8 221.0 219.0 222.0 219.2 223.0 219.3 224.0 219.5 225.0 219.7 226.0 219.8 227.0 220.0 228.0 221.2 229.0 223.5 230.0 225.7 231.0 225.5 232.0 223.5 233.0 221.5 234.0 219.5 235.0 219.0 236.0 218.6 237.0 218.2 238.0 218.2 239.0 219.3 240.0 220.4 241.0 222.2 242.0 225.4 243.0 232.2 244.0 241.5 245.0 244.9 246.0 245.9 247.0 246.9 248.0 238.0 249.0 232.7 250.0 227.5 251.0 223.0 252.0 222.7 253.0 222.5 254.0 222.3 255.0 222.3 256.0 222.3 257.0 222.3 258.0 222.3 259.0 222.3 260.0 222.3 261.0 222.3 262.0 222.3 263.0 222.3 264.0 222.3 265.0 222.3 266.0 222.3 267.0 222.4 268.0 223.6 269.0 224.8 270.0 226.0 271.0 230.0 272.0 238.0 273.0 246.0 274.0 254.0 275.0 250.4 276.0 243.2 277.0 236.0 278.0 229.4 279.0 227.9 280.0 226.4 281.0 226.1 282.0 231.3 283.0 236.5 284.0 241.7 285.0 241.0 286.0 235.0 287.0 229.0 288.0 226.7 289.0 226.7 290.0 226.7 291.0 226.7 292.0 227.2 293.0 229.9 294.0 232.6 295.0 235.2 296.0 237.9 297.0 235.4 298.0 231.9 299.0 228.4 300.0 236.6 301.0 245.9 302.0 252.9 303.0 258.9 304.0 264.9 305.0 270.2 306.0 264.2 307.0 258.2 308.0 251.6 309.0 241.6 310.0 231.6 311.0 229.9 312.0 228.7 313.0 227.5 314.0 226.5 315.0 225.8 316.0 225.1 317.0 224.5 318.0 223.8 319.0 223.7 320.0 223.7 321.0 223.7 322.0 223.7 323.0 223.7 324.0 223.7 325.0 223.4 326.0 222.9 327.0 222.4 328.0 221.9 329.0 221.5 330.0 221.2 331.0 221.0 332.0 221.0 333.0 221.7 334.0 222.4 335.0 223.4 336.0 224.4 337.0 227.6 338.0 240.2 339.0 252.9 340.0 254.1 341.0 255.2 342.0 253.8 343.0 247.9 344.0 242.0 345.0 245.2 346.0 249.6 347.0 254.1 348.0 258.5 349.0 263.0 350.0 267.4 351.0 268.5 352.0 261.9 353.0 255.2 354.0 248.5 355.0 241.9 356.0 235.2 357.0 228.5 358.0 228.7 359.0 231.2 360.0 233.5 361.0 240.9 362.0 249.5 363.0 247.6 364.0 238.6 365.0 229.6 366.0 225.8 367.0 224.4 368.0 224.2 369.0 225.2 370.0 226.2 371.0 232.3 372.0 242.3 373.0 252.3 374.0 259.1 375.0 264.1 376.0 269.1 377.0 267.0 378.0 262.0 379.0 257.0 380.0 248.0 381.0 238.0 382.0 228.0 383.0 226.3 384.0 225.9 385.0 225.4 386.0 225.0 387.0 224.6 388.0 224.6 389.0 224.7 390.0 224.8 391.0 224.9 392.0 225.1 393.0 225.2 394.0 225.2 395.0 225.2 396.0 225.2 397.0 230.3 398.0 235.5 399.0 240.7 400.0 243.9 401.0 242.9 402.0 241.9 403.0 238.6 404.0 232.0 405.0 226.7 406.0 226.7 407.0 226.7 408.0 229.5 409.0 239.5 410.0 249.5 411.0 258.8 412.0 266.8 413.0 274.8 414.0 282.8 415.0 280.5 416.0 273.8 417.0 244.0 418.0 231.3 419.0 227.9 420.0 226.7 421.0 226.7 422.0 226.7 423.0 228.6 424.0 231.5 425.0 234.3 426.0 237.2 427.0 240.1 428.0 241.3 429.0 241.3 430.0 241.3 431.0 241.3 432.0 241.3 433.0 242.8 434.0 246.1 435.0 249.5 436.0 252.8 437.0 256.5 438.0 265.6 439.0 274.7 440.0 283.8 441.0 277.7 442.0 269.0 443.0 260.3 444.0 252.6 445.0 246.0 446.0 241.3 447.0 241.3 448.0 241.3 449.0 241.3 450.0 241.3 451.0 241.3 452.0 241.3 453.0 241.3 454.0 241.3 455.0 243.4 456.0 247.4 457.0 251.4 458.0 255.4 459.0 260.3 460.0 265.3 461.0 270.3 462.0 265.8 463.0 260.8 464.0 255.7 465.0 245.7 466.0 241.7 467.0 242.5 468.0 243.3 469.0 244.1 470.0 249.6 471.0 255.6 472.0 261.6 473.0 267.6 474.0 270.5 475.0 270.5 476.0 270.5 477.0 270.5 478.0 270.5 479.0 270.5 480.0 268.8 481.0 266.3 482.0 263.8 483.0 261.3 484.0 258.8 485.0 256.3 486.0 255.0 487.0 253.8 488.0 252.7 489.0 251.6 490.0 250.5 491.0 249.3 492.0 249.3 493.0 249.3 494.0 249.3 495.0 249.3 496.0 249.9 497.0 250.9 498.0 251.9 499.0 252.9 500.0 250.0 501.0 246.8 502.0 243.6 503.0 242.4 504.0 246.4 505.0 250.4 506.0 254.4 507.0 255.9 508.0 255.9 509.0 255.9 510.0 247.1 511.0 247.4 512.0 247.6 513.0 247.9 514.0 248.1 515.0 248.4 516.0 248.6 517.0 248.6 518.0 248.6 519.0 248.6 520.0 248.6 521.0 247.8 522.0 246.8 523.0 245.8 524.0 244.8 525.0 244.0 526.0 243.5 527.0 243.0 528.0 242.5 529.0 242.0 530.0 241.5 531.0 241.5 532.0 242.0 533.0 242.5 534.0 243.0 535.0 243.5 536.0 244.0 537.0 247.7 538.0 252.9 539.0 258.0 540.0 263.2 541.0 268.3 542.0 277.3 543.0 289.3 544.0 301.3 545.0 313.3 546.0 314.4 547.0 314.4 548.0 314.4 549.0 314.4 550.0 314.4 551.0 314.4 552.0 314.4 553.0 314.4 554.0 275.2 555.0 245.9 556.0 239.4 557.0 237.2 558.0 235.7 559.0 234.9 560.0 234.2 561.0 234.0 562.0 233.7 563.0 233.5 564.0 233.3 565.0 232.9 566.0 232.6 567.0 232.3 568.0 231.9 569.0 232.0 570.0 232.5 571.0 233.0 572.0 233.5 573.0 234.0 574.0 234.3 575.0 234.7 576.0 235.0 577.0 235.3 578.0 235.7 579.0 236.0 580.0 236.3 581.0 236.7 582.0 237.4 583.0 238.9 584.0 240.4 585.0 247.9 586.0 262.9 587.0 277.9 588.0 285.1 589.0 285.6 590.0 293.6 591.0 301.6 592.0 309.6 593.0 311.2 594.0 303.2 595.0 295.2 596.0 287.2 597.0 277.7 598.0 267.7 599.0 257.7 600.0 249.6 601.0 241.9 602.0 253.5 603.0 266.9 604.0 279.2 605.0 291.2 606.0 303.2 607.0 314.4 608.0 314.4 609.0 314.4 610.0 314.4 611.0 314.4 612.0 314.4 613.0 314.4 614.0 314.4 615.0 314.4 616.0 314.4 617.0 314.4 618.0 314.4 619.0 314.4 620.0 314.4 621.0 314.4 622.0 314.4 623.0 314.4 624.0 306.5 625.0 298.5 626.0 290.5 627.0 282.9 628.0 276.3 629.0 271.2 630.0 276.2 631.0 281.2 632.0 283.7 633.0 277.0 634.0 270.0 635.0 246.5 636.0 236.1 637.0 235.9 638.0 235.8 639.0 235.7 640.0 235.5 641.0 235.5 642.0 235.6 643.0 235.7 644.0 235.8 645.0 235.9 646.0 236.0 647.0 236.1 648.0 236.2 649.0 236.2 L649 160 Z" fill="#fa1088"/>
<path d="M64 160 L64.0 193.5 65.0 193.6 66.0 194.3 67.0 195.1 68.0 195.9 69.0 196.7 70.0 197.4 71.0 197.9 72.0 198.4 73.0 198.9 74.0 199.4 75.0 200.9 76.0 202.4 77.0 204.4 78.0 213.7 79.0 222.9 80.0 229.9 81.0 223.9 82.0 217.9 83.0 212.4 84.0 208.5 85.0 204.7 86.0 200.9 87.0 205.0 88.0 209.1 89.0 213.2 90.0 217.3 91.0 214.3 92.0 210.7 93.0 207.1 94.0 205.5 95.0 204.7 96.0 204.0 97.0 203.3 98.0 202.9 99.0 202.6 100.0 202.4 101.0 202.1 102.0 201.7 103.0 201.4 104.0 201.1 105.0 200.9 106.0 201.2 107.0 201.4 108.0 201.7 109.0 201.9 110.0 202.2 111.0 202.4 112.0 202.7 113.0 202.9 114.0 203.0 115.0 202.9 116.0 202.8 117.0 202.7 118.0 202.6 119.0 202.5 120.0 202.4 121.0 202.4 122.0 202.9 123.0 203.4 124.0 203.9 125.0 204.4 126.0 205.2 127.0 206.0 128.0 206.8 129.0 207.7 130.0 208.5 131.0 209.3 132.0 210.2 133.0 211.0 134.0 211.8 135.0 211.4 136.0 211.1 137.0 210.8 138.0 210.4 139.0 209.5 140.0 208.3 141.0 207.0 142.0 207.1 143.0 207.6 144.0 208.1 145.0 208.6 146.0 209.6 147.0 211.6 148.0 213.6 149.0 217.9 150.0 225.3 151.0 228.5 152.0 231.7 153.0 234.9 154.0 233.9 155.0 224.9 156.0 215.9 157.0 209.8 158.0 207.8 159.0 206.1 160.0 205.6 161.0 209.7 162.0 215.2 163.0 220.7 164.0 226.2 165.0 229.1 166.0 227.6 167.0 226.1 168.0 227.5 169.0 232.5 170.0 237.5 171.0 244.1 172.0 252.1 173.0 260.1 174.0 268.1 175.0 265.6 176.0 261.6 177.0 257.6 178.0 253.6 179.0 249.6 180.0 242.3 181.0 233.9 182.0 225.5 183.0 217.7 184.0 215.2 185.0 212.7 186.0 210.7 187.0 210.8 188.0 211.0 189.0 211.1 190.0 211.2 191.0 211.4 192.0 211.9 193.0 212.4 194.0 212.9 195.0 213.4 196.0 213.9 197.0 214.4 198.0 214.9 199.0 215.8 200.0 216.8 201.0 217.8 202.0 218.8 203.0 219.8 204.0 220.8 205.0 221.8 206.0 222.3 207.0 222.3 208.0 222.3 209.0 221.7 210.0 220.6 211.0 219.4 212.0 218.2 213.0 217.2 214.0 217.2 215.0 217.2 216.0 217.2 217.0 217.2 218.0 217.2 219.0 217.3 220.0 217.4 221.0 217.6 222.0 217.8 223.0 217.9 224.0 218.1 225.0 218.3 226.0 218.4 227.0 218.6 228.0 219.8 229.0 222.1 230.0 224.3 231.0 224.1 232.0 222.1 233.0 220.1 234.0 218.1 235.0 217.6 236.0 217.2 237.0 216.8 238.0 216.8 239.0 217.9 240.0 219.0 241.0 220.8 242.0 224.0 243.0 230.8 244.0 240.1 245.0 243.5 246.0 244.5 247.0 245.5 248.0 236.6 249.0 231.3 250.0 226.1 251.0 221.6 252.0 221.3 253.0 221.1 254.0 220.9 255.0 220.9 256.0 220.9 257.0 220.9 258.0 220.9 259.0 220.9 260.0 220.9 261.0 220.9 262.0 220.9 263.0 220.9 264.0 220.9 265.0 220.9 266.0 220.9 267.0 221.0 268.0 222.2 269.0 223.4 270.0 224.6 271.0 228.6 272.0 236.6 273.0 244.6 274.0 252.6 275.0 249.0 276.0 241.8 277.0 234.6 278.0 228.0 279.0 226.5 280.0 225.0 281.0 224.7 282.0 229.9 283.0 235.1 284.0 240.3 285.0 239.6 286.0 233.6 287.0 227.6 288.0 225.3 289.0 225.3 290.0 225.3 291.0 225.3 292.0 225.8 293.0 228.5 294.0 231.2 295.0 233.8 296.0 236.5 297.0 234.0 298.0 230.5 299.0 227.0 300.0 235.2 301.0 244.5 302.0 251.5 303.0 257.5 304.0 263.5 305.0 268.8 306.0 262.8 307.0 256.8 308.0 250.2 309.0 240.2 310.0 230.2 311.0 228.5 312.0 227.3 313.0 226.1 314.0 225.1 315.0 224.4 316.0 223.7 317.0 223.1 318.0 222.4 319.0 222.3 320.0 222.3 321.0 222.3 322.0 222.3 323.0 222.3 324.0 222.3 325.0 222.0 326.0 221.5 327.0 221.0 328.0 220.5 329.0 220.1 330.0 219.8 331.0 219.6 332.0 219.6 333.0 220.3 334.0 221.0 335.0 222.0 336.0 223.0 337.0 226.2 338.0 238.8 339.0 251.5 340.0 252.7 341.0 253.8 342.0 252.4 343.0 246.5 344.0 240.6 345.0 243.8 346.0 248.2 347.0 252.7 348.0 257.1 349.0 261.6 350.0 266.0 351.0 267.1 352.0 260.5 353.0 253.8 354.0 247.1 355.0 240.5 356.0 233.8 357.0 227.1 358.0 227.3 359.0 229.8 360.0 232.1 361.0 239.5 362.0 248.1 363.0 246.2 364.0 237.2 365.0 228.2 366.0 224.4 367.0 223.0 368.0 222.8 369.0 223.8 370.0 224.8 371.0 230.9 372.0 240.9 373.0 250.9 374.0 257.7 375.0 262.7 376.0 267.7 377.0 265.6 378.0 260.6 379.0 255.6 380.0 246.6 381.0 236.6 382.0 226.6 383.0 224.9 384.0 224.5 385.0 224.0 386.0 223.6 387.0 223.2 388.0 223.2 389.0 223.3 390.0 223.4 391.0 223.5 392.0 223.7 393.0 223.8 394.0 223.8 395.0 223.8 396.0 223.8 397.0 228.9 398.0 234.1 399.0 239.3 400.0 242.5 401.0 241.5 402.0 240.5 403.0 237.2 404.0 230.6 405.0 225.3 406.0 225.3 407.0 225.3 408.0 228.1 409.0 238.1 410.0 248.1 411.0 257.4 412.0 265.4 413.0 273.4 414.0 281.4 415.0 279.1 416.0 272.4 417.0 242.6 418.0 229.9 419.0 226.5 420.0 225.3 421.0 225.3 422.0 225.3 423.0 227.2 424.0 230.1 425.0 232.9 426.0 235.8 427.0 238.7 428.0 239.9 429.0 239.9 430.0 239.9 431.0 239.9 432.0 239.9 433.0 241.4 434.0 244.7 435.0 248.1 436.0 251.4 437.0 255.1 438.0 264.2 439.0 273.3 440.0 282.4 441.0 276.3 442.0 267.6 443.0 258.9 444.0 251.2 445.0 244.6 446.0 239.9 447.0 239.9 448.0 239.9 449.0 239.9 450.0 239.9 451.0 239.9 452.0 239.9 453.0 239.9 454.0 239.9 455.0 242.0 456.0 246.0 457.0 250.0 458.0 254.0 459.0 258.9 460.0 263.9 461.0 268.9 462.0 264.4 463.0 259.4 464.0 254.3 465.0 244.3 466.0 240.3 467.0 241.1 468.0 241.9 469.0 242.7 470.0 248.2 471.0 254.2 472.0 260.2 473.0 266.2 474.0 269.1 475.0 269.1 476.0 269.1 477.0 269.1 478.0 269.1 479.0 269.1 480.0 267.4 481.0 264.9 482.0 262.4 483.0 259.9 484.0 257.4 485.0 254.9 486.0 253.6 487.0 252.4 488.0 251.3 489.0 250.2 490.0 249.1 491.0 247.9 492.0 247.9 493.0 247.9 494.0 247.9 495.0 247.9 496.0 248.5 497.0 249.5 498.0 250.5 499.0 251.5 500.0 248.6 501.0 245.4 502.0 242.2 503.0 241.0 504.0 245.0 505.0 249.0 506.0 253.0 507.0 254.5 508.0 254.5 509.0 254.5 510.0 245.7 511.0 246.0 512.0 246.2 513.0 246.5 514.0 246.7 515.0 247.0 516.0 247.2 517.0 247.2 518.0 247.2 519.0 247.2 520.0 247.2 521.0 246.4 522.0 245.4 523.0 244.4 524.0 243.4 525.0 242.6 526.0 242.1 527.0 241.6 528.0 241.1 529.0 240.6 530.0 240.1 531.0 240.1 532.0 240.6 533.0 241.1 534.0 241.6 535.0 242.1 536.0 242.6 537.0 246.3 538.0 251.5 539.0 256.6 540.0 261.8 541.0 266.9 542.0 275.9 543.0 287.9 544.0 299.9 545.0 311.9 546.0 313.0 547.0 313.0 548.0 313.0 549.0 313.0 550.0 313.0 551.0 313.0 552.0 313.0 553.0 313.0 554.0 273.8 555.0 244.5 556.0 238.0 557.0 235.8 558.0 234.3 559.0 233.5 560.0 232.8 561.0 232.6 562.0 232.3 563.0 232.1 564.0 231.9 565.0 231.5 566.0 231.2 567.0 230.9 568.0 230.5 569.0 230.6 570.0 231.1 571.0 231.6 572.0 232.1 573.0 232.6 574.0 232.9 575.0 233.3 576.0 233.6 577.0 233.9 578.0 234.3 579.0 234.6 580.0 234.9 581.0 235.3 582.0 236.0 583.0 237.5 584.0 239.0 585.0 246.5 586.0 261.5 587.0 276.5 588.0 283.7 589.0 284.2 590.0 292.2 591.0 300.2 592.0 308.2 593.0 309.8 594.0 301.8 595.0 293.8 596.0 285.8 597.0 276.3 598.0 266.3 599.0 256.3 600.0 248.2 601.0 240.5 602.0 252.1 603.0 265.5 604.0 277.8 605.0 289.8 606.0 301.8 607.0 313.0 608.0 313.0 609.0 313.0 610.0 313.0 611.0 313.0 612.0 313.0 613.0 313.0 614.0 313.0 615.0 313.0 616.0 313.0 617.0 313.0 618.0 313.0 619.0 313.0 620.0 313.0 621.0 313.0 622.0 313.0 623.0 313.0 624.0 305.1 625.0 297.1 626.0 289.1 627.0 281.5 628.0 274.9 629.0 269.8 630.0 274.8 631.0 279.8 632.0 282.3 633.0 275.6 634.0 268.6 635.0 245.1 636.0 234.7 637.0 234.5 638.0 234.4 639.0 234.3 640.0 234.1 641.0 234.1 642.0 234.2 643.0 234.3 644.0 234.4 645.0 234.5 646.0 234.6 647.0 234.7 648.0 234.8 649.0 234.8 L649 160 Z" fill="#ff1060"/>
<path d="M64 160 L64.0 192.1 65.0 192.2 66.0 192.9 67.0 193.7 68.0 194.5 69.0 195.3 70.0 196.0 71.0 196.5 72.0 197.0 73.0 197.5 74.0 198.0 75.0 199.5 76.0 201.0 77.0 203.0 78.0 212.3 79.0 221.5 80.0 228.5 81.0 222.5 82.0 216.5 83.0 211.0 84.0 207.1 85.0 203.3 86.0 199.5 87.0 203.6 88.0 207.7 89.0 211.8 90.0 215.9 91.0 212.9 92.0 209.3 93.0 205.7 94.0 204.1 95.0 203.3 96.0 202.6 97.0 201.9 98.0 201.5 99.0 201.2 100.0 201.0 101.0 200.7 102.0 200.3 103.0 200.0 104.0 199.7 105.0 199.5 106.0 199.8 107.0 200.0 108.0 200.3 109.0 200.5 110.0 200.8 111.0 201.0 112.0 201.3 113.0 201.5 114.0 201.6 115.0 201.5 116.0 201.4 117.0 201.3 118.0 201.2 119.0 201.1 120.0 201.0 121.0 201.0 122.0 201.5 123.0 202.0 124.0 202.5 125.0 203.0 126.0 203.8 127.0 204.6 128.0 205.4 129.0 206.3 130.0 207.1 131.0 207.9 132.0 208.8 133.0 209.6 134.0 210.4 135.0 210.0 136.0 209.7 137.0 209.4 138.0 209.0 139.0 208.1 140.0 206.9 141.0 205.6 142.0 205.7 143.0 206.2 144.0 206.7 145.0 207.2 146.0 208.2 147.0 210.2 148.0 212.2 149.0 216.5 150.0 223.9 151.0 227.1 152.0 230.3 153.0 233.5 154.0 232.5 155.0 223.5 156.0 214.5 157.0 208.4 158.0 206.4 159.0 204.7 160.0 204.2 161.0 208.3 162.0 213.8 163.0 219.3 164.0 224.8 165.0 227.7 166.0 226.2 167.0 224.7 168.0 226.1 169.0 231.1 170.0 236.1 171.0 242.7 172.0 250.7 173.0 258.7 174.0 266.7 175.0 264.2 176.0 260.2 177.0 256.2 178.0 252.2 179.0 248.2 180.0 240.9 181.0 232.5 182.0 224.1 183.0 216.3 184.0 213.8 185.0 211.3 186.0 209.3 187.0 209.4 188.0 209.6 189.0 209.7 190.0 209.8 191.0 210.0 192.0 210.5 193.0 211.0 194.0 211.5 195.0 212.0 196.0 212.5 197.0 213.0 198.0 213.5 199.0 214.4 200.0 215.4 201.0 216.4 202.0 217.4 203.0 218.4 204.0 219.4 205.0 220.4 206.0 220.9 207.0 220.9 208.0 220.9 209.0 220.3 210.0 219.2 211.0 218.0 212.0 216.8 213.0 215.8 214.0 215.8 215.0 215.8 216.0 215.8 217.0 215.8 218.0 215.8 219.0 215.9 220.0 216.0 221.0 216.2 222.0 216.4 223.0 216.5 224.0 216.7 225.0 216.9 226.0 217.0 227.0 217.2 228.0 218.4 229.0 220.7 230.0 222.9 231.0 222.7 232.0 220.7 233.0 218.7 234.0 216.7 235.0 216.2 236.0 215.8 237.0 215.4 238.0 215.4 239.0 216.5 240.0 217.6 241.0 219.4 242.0 222.6 243.0 229.4 244.0 238.7 245.0 242.1 246.0 243.1 247.0 244.1 248.0 235.2 249.0 229.9 250.0 224.7 251.0 220.2 252.0 219.9 253.0 219.7 254.0 219.5 255.0 219.5 256.0 219.5 257.0 219.5 258.0 219.5 259.0 219.5 260.0 219.5 261.0 219.5 262.0 219.5 263.0 219.5 264.0 219.5 265.0 219.5 266.0 219.5 267.0 219.6 268.0 220.8 269.0 222.0 270.0 223.2 271.0 227.2 272.0 235.2 273.0 243.2 274.0 251.2 275.0 247.6 276.0 240.4 277.0 233.2 278.0 226.6 279.0 225.1 280.0 223.6 281.0 223.3 282.0 228.5 283.0 233.7 284.0 238.9 285.0 238.2 286.0 232.2 287.0 226.2 288.0 223.9 289.0 223.9 290.0 223.9 291.0 223.9 292.0 224.4 293.0 227.1 294.0 229.8 295.0 232.4 296.0 235.1 297.0 232.6 298.0 229.1 299.0 225.6 300.0 233.8 301.0 243.1 302.0 250.1 303.0 256.1 304.0 262.1 305.0 267.4 306.0 261.4 307.0 255.4 308.0 248.8 309.0 238.8 310.0 228.8 311.0 227.1 312.0 225.9 313.0 224.7 314.0 223.7 315.0 223.0 316.0 222.3 317.0 221.7 318.0 221.0 319.0 220.9 320.0 220.9 321.0 220.9 322.0 220.9 323.0 220.9 324.0 220.9 325.0 220.6 326.0 220.1 327.0 219.6 328.0 219.1 329.0 218.7 330.0 218.4 331.0 218.2 332.0 218.2 333.0 218.9 334.0 219.6 335.0 220.6 336.0 221.6 337.0 224.8 338.0 237.4 339.0 250.1 340.0 251.3 341.0 252.4 342.0 251.0 343.0 245.1 344.0 239.2 345.0 242.4 346.0 246.8 347.0 251.3 348.0 255.7 349.0 260.2 350.0 264.6 351.0 265.7 352.0 259.1 353.0 252.4 354.0 245.7 355.0 239.1 356.0 232.4 357.0 225.7 358.0 225.9 359.0 228.4 360.0 230.7 361.0 238.1 362.0 246.7 363.0 244.8 364.0 235.8 365.0 226.8 366.0 223.0 367.0 221.6 368.0 221.4 369.0 222.4 370.0 223.4 371.0 229.5 372.0 239.5 373.0 249.5 374.0 256.3 375.0 261.3 376.0 266.3 377.0 264.2 378.0 259.2 379.0 254.2 380.0 245.2 381.0 235.2 382.0 225.2 383.0 223.5 384.0 223.1 385.0 222.6 386.0 222.2 387.0 221.8 388.0 221.8 389.0 221.9 390.0 222.0 391.0 222.1 392.0 222.3 393.0 222.4 394.0 222.4 395.0 222.4 396.0 222.4 397.0 227.5 398.0 232.7 399.0 237.9 400.0 241.1 401.0 240.1 402.0 239.1 403.0 235.8 404.0 229.2 405.0 223.9 406.0 223.9 407.0 223.9 408.0 226.7 409.0 236.7 410.0 246.7 411.0 256.0 412.0 264.0 413.0 272.0 414.0 280.0 415.0 277.7 416.0 271.0 417.0 241.2 418.0 228.5 419.0 225.1 420.0 223.9 421.0 223.9 422.0 223.9 423.0 225.8 424.0 228.7 425.0 231.5 426.0 234.4 427.0 237.3 428.0 238.5 429.0 238.5 430.0 238.5 431.0 238.5 432.0 238.5 433.0 240.0 434.0 243.3 435.0 246.7 436.0 250.0 437.0 253.7 438.0 262.8 439.0 271.9 440.0 281.0 441.0 274.9 442.0 266.2 443.0 257.5 444.0 249.8 445.0 243.2 446.0 238.5 447.0 238.5 448.0 238.5 449.0 238.5 450.0 238.5 451.0 238.5 452.0 238.5 453.0 238.5 454.0 238.5 455.0 240.6 456.0 244.6 457.0 248.6 458.0 252.6 459.0 257.5 460.0 262.5 461.0 267.5 462.0 263.0 463.0 258.0 464.0 252.9 465.0 242.9 466.0 238.9 467.0 239.7 468.0 240.5 469.0 241.3 470.0 246.8 471.0 252.8 472.0 258.8 473.0 264.8 474.0 267.7 475.0 267.7 476.0 267.7 477.0 267.7 478.0 267.7 479.0 267.7 480.0 266.0 481.0 263.5 482.0 261.0 483.0 258.5 484.0 256.0 485.0 253.5 486.0 252.2 487.0 251.0 488.0 249.9 489.0 248.8 490.0 247.7 491.0 246.5 492.0 246.5 493.0 246.5 494.0 246.5 495.0 246.5 496.0 247.1 497.0 248.1 498.0 249.1 499.0 250.1 500.0 247.2 501.0 244.0 502.0 240.8 503.0 239.6 504.0 243.6 505.0 247.6 506.0 251.6 507.0 253.1 508.0 253.1 509.0 253.1 510.0 244.3 511.0 244.6 512.0 244.8 513.0 245.1 514.0 245.3 515.0 245.6 516.0 245.8 517.0 245.8 518.0 245.8 519.0 245.8 520.0 245.8 521.0 245.0 522.0 244.0 523.0 243.0 524.0 242.0 525.0 241.2 526.0 240.7 527.0 240.2 528.0 239.7 529.0 239.2 530.0 238.7 531.0 238.7 532.0 239.2 533.0 239.7 534.0 240.2 535.0 240.7 536.0 241.2 537.0 244.9 538.0 250.1 539.0 255.2 540.0 260.4 541.0 265.5 542.0 274.5 543.0 286.5 544.0 298.5 545.0 310.5 546.0 311.6 547.0 311.6 548.0 311.6 549.0 311.6 550.0 311.6 551.0 311.6 552.0 311.6 553.0 311.6 554.0 272.4 555.0 243.1 556.0 236.6 557.0 234.4 558.0 232.9 559.0 232.1 560.0 231.4 561.0 231.2 562.0 230.9 563.0 230.7 564.0 230.5 565.0 230.1 566.0 229.8 567.0 229.5 568.0 229.1 569.0 229.2 570.0 229.7 571.0 230.2 572.0 230.7 573.0 231.2 574.0 231.5 575.0 231.9 576.0 232.2 577.0 232.5 578.0 232.9 579.0 233.2 580.0 233.5 581.0 233.9 582.0 234.6 583.0 236.1 584.0 237.6 585.0 245.1 586.0 260.1 587.0 275.1 588.0 282.3 589.0 282.8 590.0 290.8 591.0 298.8 592.0 306.8 593.0 308.4 594.0 300.4 595.0 292.4 596.0 284.4 597.0 274.9 598.0 264.9 599.0 254.9 600.0 246.8 601.0 239.1 602.0 250.7 603.0 264.1 604.0 276.4 605.0 288.4 606.0 300.4 607.0 311.6 608.0 311.6 609.0 311.6 610.0 311.6 611.0 311.6 612.0 311.6 613.0 311.6 614.0 311.6 615.0 311.6 616.0 311.6 617.0 311.6 618.0 311.6 619.0 311.6 620.0 311.6 621.0 311.6 622.0 311.6 623.0 311.6 624.0 303.7 625.0 295.7 626.0 287.7 627.0 280.1 628.0 273.5 629.0 268.4 630.0 273.4 631.0 278.4 632.0 280.9 633.0 274.2 634.0 267.2 635.0 243.7 636.0 233.3 637.0 233.1 638.0 233.0 639.0 232.9 640.0 232.7 641.0 232.7 642.0 232.8 643.0 232.9 644.0 233.0 645.0 233.1 646.0 233.2 647.0 233.3 648.0 233.4 649.0 233.4 L649 160 Z" fill="#ff1428"/>
<path d="M64 160 L64.0 190.1 65.0 190.1 66.0 190.8 67.0 191.4 68.0 192.1 69.0 192.7 70.0 193.4 71.0 193.9 72.0 194.5 73.0 195.1 74.0 195.6 75.0 197.0 76.0 198.4 77.0 200.2 78.0 207.2 79.0 214.1 80.0 219.3 81.0 214.5 82.0 209.7 83.0 205.4 84.0 202.6 85.0 199.9 86.0 197.1 87.0 200.5 88.0 203.9 89.0 207.3 90.0 210.7 91.0 208.3 92.0 205.4 93.0 202.5 94.0 201.2 95.0 200.7 96.0 200.1 97.0 199.5 98.0 199.1 99.0 198.9 100.0 198.6 101.0 198.4 102.0 198.2 103.0 198.0 104.0 197.8 105.0 197.7 106.0 198.0 107.0 198.2 108.0 198.4 109.0 198.6 110.0 198.8 111.0 199.0 112.0 199.3 113.0 199.5 114.0 199.6 115.0 199.5 116.0 199.5 117.0 199.5 118.0 199.5 119.0 199.5 120.0 199.4 121.0 199.5 122.0 199.9 123.0 200.2 124.0 200.6 125.0 201.0 126.0 201.6 127.0 202.2 128.0 202.8 129.0 203.5 130.0 204.1 131.0 204.7 132.0 205.4 133.0 206.0 134.0 206.6 135.0 206.5 136.0 206.5 137.0 206.4 138.0 206.3 139.0 205.8 140.0 205.1 141.0 204.3 142.0 204.4 143.0 204.9 144.0 205.3 145.0 205.7 146.0 206.6 147.0 208.2 148.0 209.8 149.0 212.9 150.0 218.0 151.0 220.4 152.0 222.8 153.0 225.2 154.0 224.5 155.0 217.9 156.0 211.3 157.0 206.9 158.0 205.4 159.0 204.2 160.0 203.7 161.0 206.5 162.0 210.4 163.0 214.3 164.0 218.2 165.0 220.1 166.0 218.8 167.0 217.5 168.0 218.3 169.0 221.5 170.0 224.7 171.0 229.0 172.0 234.2 173.0 239.4 174.0 244.6 175.0 243.0 176.0 240.5 177.0 238.0 178.0 235.5 179.0 232.9 180.0 228.2 181.0 222.8 182.0 217.3 183.0 212.3 184.0 210.6 185.0 208.9 186.0 207.5 187.0 207.8 188.0 208.0 189.0 208.3 190.0 208.6 191.0 208.8 192.0 209.4 193.0 209.9 194.0 210.5 195.0 211.0 196.0 211.5 197.0 212.1 198.0 212.6 199.0 213.3 200.0 213.9 201.0 214.6 202.0 215.3 203.0 216.0 204.0 216.7 205.0 217.3 206.0 217.8 207.0 217.9 208.0 218.0 209.0 217.6 210.0 216.8 211.0 216.1 212.0 215.3 213.0 214.6 214.0 214.6 215.0 214.6 216.0 214.6 217.0 214.6 218.0 214.6 219.0 214.7 220.0 214.8 221.0 214.9 222.0 215.0 223.0 215.1 224.0 215.2 225.0 215.3 226.0 215.4 227.0 215.5 228.0 216.2 229.0 217.6 230.0 218.9 231.0 218.8 232.0 217.6 233.0 216.4 234.0 215.2 235.0 214.9 236.0 214.6 237.0 214.4 238.0 214.5 239.0 215.3 240.0 216.2 241.0 217.4 242.0 219.4 243.0 223.6 244.0 229.2 245.0 231.4 246.0 232.0 247.0 232.7 248.0 227.7 249.0 224.7 250.0 221.6 251.0 219.0 252.0 218.9 253.0 218.8 254.0 218.8 255.0 218.7 256.0 218.6 257.0 218.5 258.0 218.4 259.0 218.4 260.0 218.3 261.0 218.3 262.0 218.3 263.0 218.3 264.0 218.3 265.0 218.3 266.0 218.3 267.0 218.4 268.0 219.3 269.0 220.3 270.0 221.3 271.0 224.7 272.0 231.7 273.0 238.6 274.0 245.6 275.0 242.5 276.0 236.3 277.0 230.0 278.0 224.3 279.0 223.0 280.0 221.7 281.0 221.3 282.0 224.9 283.0 228.5 284.0 232.1 285.0 231.7 286.0 227.7 287.0 223.7 288.0 222.1 289.0 222.0 290.0 221.9 291.0 221.9 292.0 222.2 293.0 223.9 294.0 225.7 295.0 227.4 296.0 229.1 297.0 227.5 298.0 225.2 299.0 222.9 300.0 228.6 301.0 235.1 302.0 241.0 303.0 246.5 304.0 252.0 305.0 256.9 306.0 251.7 307.0 246.5 308.0 241.0 309.0 234.0 310.0 226.9 311.0 225.4 312.0 224.2 313.0 223.0 314.0 221.9 315.0 221.3 316.0 220.7 317.0 220.1 318.0 219.5 319.0 219.5 320.0 219.5 321.0 219.3 322.0 219.1 323.0 218.9 324.0 218.7 325.0 218.2 326.0 217.6 327.0 216.9 328.0 216.3 329.0 215.7 330.0 215.3 331.0 214.8 332.0 214.5 333.0 214.7 334.0 214.9 335.0 215.7 336.0 216.5 337.0 218.5 338.0 225.8 339.0 233.2 340.0 236.1 341.0 239.0 342.0 239.3 343.0 235.0 344.0 230.8 345.0 232.6 346.0 235.3 347.0 238.0 348.0 240.6 349.0 243.3 350.0 246.0 351.0 246.6 352.0 242.6 353.0 238.6 354.0 234.6 355.0 230.6 356.0 226.6 357.0 222.6 358.0 223.2 359.0 225.0 360.0 226.7 361.0 231.6 362.0 237.4 363.0 236.0 364.0 230.0 365.0 224.0 366.0 221.3 367.0 220.1 368.0 219.9 369.0 220.8 370.0 221.7 371.0 225.9 372.0 232.7 373.0 239.5 374.0 244.9 375.0 249.4 376.0 253.9 377.0 251.9 378.0 247.3 379.0 242.7 380.0 236.6 381.0 230.1 382.0 223.6 383.0 222.4 384.0 222.0 385.0 221.6 386.0 221.3 387.0 220.9 388.0 220.9 389.0 221.0 390.0 221.1 391.0 221.3 392.0 221.4 393.0 221.5 394.0 221.4 395.0 221.3 396.0 221.2 397.0 224.7 398.0 228.3 399.0 231.9 400.0 234.2 401.0 233.6 402.0 233.0 403.0 230.6 404.0 225.6 405.0 221.6 406.0 221.8 407.0 222.0 408.0 224.0 409.0 230.6 410.0 237.2 411.0 243.7 412.0 250.0 413.0 256.3 414.0 262.6 415.0 260.9 416.0 255.7 417.0 235.9 418.0 226.7 419.0 223.4 420.0 222.0 421.0 221.9 422.0 221.8 423.0 223.3 424.0 225.4 425.0 227.5 426.0 229.6 427.0 231.7 428.0 232.5 429.0 232.3 430.0 232.0 431.0 231.8 432.0 231.6 433.0 232.7 434.0 235.5 435.0 238.3 436.0 241.1 437.0 244.3 438.0 252.3 439.0 260.3 440.0 268.3 441.0 263.2 442.0 255.9 443.0 248.6 444.0 242.6 445.0 237.8 446.0 234.4 447.0 234.6 448.0 234.7 449.0 234.8 450.0 235.0 451.0 234.8 452.0 234.7 453.0 234.6 454.0 234.4 455.0 236.1 456.0 239.3 457.0 242.5 458.0 245.7 459.0 249.7 460.0 253.9 461.0 258.1 462.0 254.0 463.0 249.4 464.0 244.8 465.0 238.4 466.0 235.7 467.0 236.1 468.0 236.4 469.0 236.7 470.0 240.4 471.0 244.4 472.0 248.4 473.0 252.4 474.0 254.4 475.0 254.6 476.0 254.8 477.0 255.0 478.0 255.2 479.0 255.4 480.0 254.4 481.0 252.8 482.0 251.2 483.0 249.6 484.0 248.0 485.0 246.4 486.0 245.4 487.0 244.7 488.0 243.9 489.0 243.1 490.0 242.3 491.0 241.6 492.0 241.5 493.0 241.4 494.0 241.4 495.0 241.3 496.0 241.5 497.0 241.8 498.0 242.2 499.0 242.5 500.0 240.5 501.0 238.2 502.0 236.0 503.0 235.1 504.0 237.7 505.0 240.2 506.0 242.8 507.0 244.1 508.0 244.7 509.0 245.3 510.0 240.2 511.0 240.4 512.0 240.5 513.0 240.7 514.0 240.8 515.0 241.0 516.0 241.1 517.0 241.0 518.0 241.0 519.0 240.9 520.0 240.8 521.0 240.3 522.0 239.6 523.0 239.0 524.0 238.3 525.0 237.7 526.0 237.3 527.0 236.9 528.0 236.5 529.0 236.1 530.0 235.7 531.0 235.7 532.0 235.9 533.0 236.1 534.0 236.3 535.0 236.5 536.0 236.7 537.0 238.8 538.0 241.9 539.0 245.0 540.0 248.1 541.0 251.2 542.0 256.6 543.0 263.8 544.0 271.0 545.0 278.2 546.0 278.8 547.0 278.8 548.0 278.8 549.0 278.8 550.0 278.8 551.0 278.8 552.0 278.7 553.0 278.6 554.0 254.9 555.0 237.2 556.0 233.2 557.0 231.7 558.0 230.7 559.0 230.1 560.0 229.5 561.0 229.3 562.0 229.1 563.0 228.9 564.0 228.7 565.0 228.4 566.0 228.2 567.0 227.9 568.0 227.6 569.0 227.7 570.0 228.1 571.0 228.4 572.0 228.8 573.0 229.1 574.0 229.3 575.0 229.5 576.0 229.7 577.0 229.9 578.0 230.2 579.0 230.5 580.0 230.7 581.0 231.0 582.0 231.5 583.0 232.4 584.0 233.3 585.0 238.1 586.0 247.9 587.0 257.7 588.0 262.8 589.0 263.6 590.0 268.6 591.0 273.5 592.0 278.5 593.0 279.5 594.0 274.4 595.0 269.4 596.0 264.3 597.0 258.1 598.0 251.5 599.0 244.9 600.0 240.0 601.0 235.3 602.0 242.4 603.0 250.6 604.0 258.0 605.0 265.1 606.0 272.2 607.0 278.8 608.0 278.7 609.0 278.7 610.0 278.6 611.0 278.6 612.0 278.6 613.0 278.7 614.0 278.7 615.0 278.8 616.0 278.8 617.0 278.9 618.0 278.9 619.0 278.9 620.0 278.9 621.0 278.9 622.0 278.9 623.0 278.9 624.0 274.3 625.0 269.5 626.0 264.7 627.0 260.6 628.0 257.8 629.0 255.9 630.0 259.3 631.0 262.7 632.0 264.3 633.0 259.2 634.0 253.9 635.0 238.8 636.0 232.1 637.0 232.0 638.0 231.9 639.0 231.8 640.0 231.6 641.0 231.6 642.0 231.6 643.0 231.7 644.0 231.7 645.0 231.8 646.0 231.8 647.0 231.9 648.0 231.9 649.0 231.9 L649 160 Z" fill="#ff2a0a"/>
<path d="M64 160 L64.0 187.0 65.0 187.0 66.0 187.5 67.0 188.0 68.0 188.4 69.0 188.9 70.0 189.5 71.0 190.1 72.0 190.8 73.0 191.5 74.0 192.1 75.0 193.4 76.0 194.6 77.0 196.0 78.0 199.5 79.0 203.0 80.0 205.6 81.0 202.6 82.0 199.6 83.0 197.0 84.0 195.9 85.0 194.7 86.0 193.6 87.0 195.9 88.0 198.2 89.0 200.6 90.0 202.9 91.0 201.4 92.0 199.6 93.0 197.8 94.0 197.0 95.0 196.6 96.0 196.3 97.0 195.9 98.0 195.6 99.0 195.4 100.0 195.1 101.0 195.0 102.0 195.0 103.0 195.0 104.0 195.0 105.0 195.1 106.0 195.3 107.0 195.4 108.0 195.6 109.0 195.8 110.0 195.9 111.0 196.1 112.0 196.3 113.0 196.4 114.0 196.6 115.0 196.7 116.0 196.8 117.0 196.9 118.0 197.0 119.0 197.1 120.0 197.2 121.0 197.3 122.0 197.4 123.0 197.6 124.0 197.8 125.0 197.9 126.0 198.2 127.0 198.6 128.0 198.9 129.0 199.2 130.0 199.6 131.0 199.9 132.0 200.2 133.0 200.6 134.0 200.9 135.0 201.2 136.0 201.6 137.0 201.9 138.0 202.2 139.0 202.4 140.0 202.4 141.0 202.4 142.0 202.6 143.0 202.9 144.0 203.3 145.0 203.6 146.0 204.2 147.0 205.2 148.0 206.2 149.0 207.5 150.0 209.2 151.0 210.4 152.0 211.6 153.0 212.8 154.0 212.6 155.0 209.6 156.0 206.6 157.0 204.6 158.0 203.9 159.0 203.3 160.0 202.8 161.0 203.8 162.0 205.3 163.0 206.8 164.0 208.3 165.0 208.9 166.0 207.9 167.0 206.9 168.0 206.5 169.0 207.0 170.0 207.5 171.0 208.3 172.0 209.3 173.0 210.3 174.0 211.3 175.0 211.2 176.0 210.9 177.0 210.6 178.0 210.3 179.0 210.0 180.0 209.2 181.0 208.2 182.0 207.2 183.0 206.3 184.0 205.8 185.0 205.3 186.0 204.9 187.0 205.4 188.0 205.8 189.0 206.2 190.0 206.6 191.0 207.1 192.0 207.7 193.0 208.3 194.0 208.9 195.0 209.5 196.0 210.1 197.0 210.7 198.0 211.3 199.0 211.6 200.0 211.8 201.0 212.0 202.0 212.2 203.0 212.4 204.0 212.6 205.0 212.8 206.0 213.0 207.0 213.3 208.0 213.5 209.0 213.5 210.0 213.4 211.0 213.2 212.0 213.0 213.0 212.9 214.0 212.9 215.0 212.9 216.0 212.9 217.0 212.9 218.0 212.9 219.0 212.9 220.0 212.9 221.0 212.9 222.0 212.9 223.0 212.9 224.0 212.9 225.0 212.9 226.0 212.9 227.0 212.9 228.0 212.9 229.0 212.9 230.0 212.9 231.0 212.9 232.0 212.9 233.0 212.9 234.0 212.9 235.0 212.9 236.0 212.9 237.0 212.9 238.0 213.0 239.0 213.5 240.0 214.0 241.0 214.4 242.0 214.7 243.0 214.9 244.0 215.0 245.0 215.2 246.0 215.4 247.0 215.6 248.0 216.6 249.0 216.8 250.0 217.1 251.0 217.3 252.0 217.5 253.0 217.6 254.0 217.7 255.0 217.5 256.0 217.3 257.0 217.1 258.0 216.9 259.0 216.7 260.0 216.5 261.0 216.5 262.0 216.5 263.0 216.5 264.0 216.5 265.0 216.5 266.0 216.5 267.0 216.6 268.0 217.2 269.0 217.8 270.0 218.4 271.0 221.0 272.0 226.4 273.0 231.8 274.0 237.2 275.0 234.8 276.0 230.0 277.0 225.2 278.0 220.8 279.0 219.8 280.0 218.8 281.0 218.2 282.0 219.4 283.0 220.6 284.0 221.8 285.0 221.9 286.0 220.9 287.0 219.9 288.0 219.4 289.0 219.2 290.0 219.0 291.0 218.9 292.0 218.8 293.0 219.1 294.0 219.5 295.0 219.8 296.0 220.1 297.0 219.8 298.0 219.3 299.0 218.8 300.0 220.9 301.0 223.2 302.0 227.3 303.0 232.1 304.0 236.9 305.0 241.2 306.0 237.2 307.0 233.2 308.0 229.3 309.0 226.7 310.0 224.0 311.0 222.7 312.0 221.5 313.0 220.3 314.0 219.3 315.0 218.8 316.0 218.3 317.0 217.8 318.0 217.3 319.0 217.3 320.0 217.3 321.0 216.8 322.0 216.3 323.0 215.8 324.0 215.3 325.0 214.6 326.0 213.7 327.0 212.9 328.0 212.1 329.0 211.3 330.0 210.5 331.0 209.8 332.0 209.0 333.0 208.4 334.0 207.8 335.0 208.3 336.0 208.8 337.0 209.1 338.0 208.4 339.0 207.8 340.0 213.3 341.0 218.9 342.0 221.8 343.0 220.0 344.0 218.2 345.0 218.0 346.0 218.0 347.0 218.0 348.0 218.0 349.0 218.0 350.0 218.0 351.0 218.0 352.0 218.0 353.0 218.0 354.0 218.0 355.0 218.0 356.0 218.0 357.0 218.0 358.0 219.0 359.0 220.0 360.0 220.8 361.0 222.0 362.0 223.3 363.0 223.0 364.0 221.5 365.0 220.0 366.0 218.8 367.0 217.8 368.0 217.6 369.0 218.4 370.0 219.1 371.0 220.6 372.0 222.6 373.0 224.6 374.0 227.7 375.0 231.5 376.0 235.2 377.0 233.4 378.0 229.4 379.0 225.4 380.0 223.6 381.0 222.4 382.0 221.1 383.0 220.7 384.0 220.4 385.0 220.1 386.0 219.8 387.0 219.5 388.0 219.6 389.0 219.7 390.0 219.8 391.0 219.9 392.0 220.1 393.0 220.2 394.0 220.0 395.0 219.7 396.0 219.5 397.0 220.6 398.0 221.8 399.0 223.0 400.0 223.9 401.0 223.9 402.0 223.9 403.0 222.8 404.0 220.1 405.0 218.1 406.0 218.6 407.0 219.1 408.0 219.9 409.0 221.4 410.0 222.9 411.0 225.2 412.0 229.0 413.0 232.8 414.0 236.6 415.0 235.6 416.0 232.6 417.0 228.0 418.0 224.1 419.0 220.8 420.0 219.3 421.0 219.1 422.0 218.8 423.0 219.4 424.0 220.4 425.0 221.4 426.0 222.4 427.0 223.4 428.0 223.5 429.0 223.0 430.0 222.4 431.0 221.8 432.0 221.2 433.0 221.8 434.0 223.8 435.0 225.8 436.0 227.8 437.0 230.2 438.0 236.5 439.0 242.9 440.0 249.2 441.0 245.7 442.0 240.5 443.0 235.3 444.0 231.6 445.0 229.6 446.0 228.3 447.0 228.7 448.0 229.0 449.0 229.3 450.0 229.7 451.0 229.4 452.0 229.1 453.0 228.7 454.0 228.4 455.0 229.3 456.0 231.3 457.0 233.3 458.0 235.3 459.0 238.2 460.0 241.2 461.0 244.2 462.0 240.5 463.0 236.5 464.0 232.6 465.0 231.6 466.0 230.9 467.0 230.5 468.0 230.1 469.0 229.7 470.0 230.6 471.0 231.6 472.0 232.6 473.0 233.6 474.0 234.4 475.0 234.9 476.0 235.4 477.0 235.9 478.0 236.4 479.0 236.9 480.0 236.8 481.0 236.6 482.0 236.3 483.0 236.1 484.0 235.8 485.0 235.6 486.0 235.3 487.0 235.1 488.0 234.8 489.0 234.6 490.0 234.3 491.0 234.1 492.0 233.9 493.0 233.8 494.0 233.6 495.0 233.4 496.0 233.0 497.0 232.4 498.0 231.8 499.0 231.2 500.0 230.4 501.0 229.6 502.0 228.8 503.0 228.4 504.0 228.8 505.0 229.2 506.0 229.6 507.0 230.6 508.0 232.1 509.0 233.6 510.0 234.1 511.0 234.1 512.0 234.1 513.0 234.1 514.0 234.1 515.0 234.1 516.0 234.1 517.0 233.9 518.0 233.7 519.0 233.6 520.0 233.4 521.0 233.2 522.0 233.1 523.0 232.9 524.0 232.7 525.0 232.5 526.0 232.3 527.0 232.0 528.0 231.8 529.0 231.5 530.0 231.3 531.0 231.0 532.0 230.8 533.0 230.5 534.0 230.3 535.0 230.0 536.0 229.8 537.0 229.7 538.0 229.7 539.0 229.7 540.0 229.7 541.0 229.7 542.0 229.7 543.0 229.7 544.0 229.7 545.0 229.7 546.0 229.7 547.0 229.7 548.0 229.7 549.0 229.7 550.0 229.7 551.0 229.7 552.0 229.4 553.0 229.0 554.0 228.7 555.0 228.4 556.0 228.0 557.0 227.7 558.0 227.4 559.0 227.0 560.0 226.7 561.0 226.6 562.0 226.4 563.0 226.2 564.0 226.1 565.0 225.9 566.0 225.7 567.0 225.6 568.0 225.4 569.0 225.4 570.0 225.6 571.0 225.7 572.0 225.9 573.0 226.1 574.0 226.1 575.0 226.1 576.0 226.1 577.0 226.1 578.0 226.2 579.0 226.3 580.0 226.5 581.0 226.7 582.0 226.8 583.0 226.8 584.0 226.8 585.0 227.7 586.0 229.7 587.0 231.7 588.0 233.4 589.0 234.8 590.0 235.2 591.0 235.6 592.0 236.0 593.0 236.0 594.0 235.4 595.0 234.8 596.0 234.2 597.0 233.0 598.0 231.5 599.0 230.0 600.0 229.7 601.0 229.7 602.0 230.0 603.0 230.3 604.0 230.3 605.0 230.1 606.0 229.9 607.0 229.7 608.0 229.5 609.0 229.3 610.0 229.1 611.0 229.0 612.0 229.1 613.0 229.3 614.0 229.4 615.0 229.5 616.0 229.6 617.0 229.8 618.0 229.9 619.0 230.0 620.0 230.0 621.0 230.0 622.0 230.0 623.0 230.0 624.0 230.1 625.0 230.2 626.0 230.4 627.0 231.4 628.0 234.4 629.0 237.2 630.0 238.2 631.0 239.2 632.0 239.4 633.0 236.7 634.0 234.0 635.0 231.5 636.0 230.4 637.0 230.3 638.0 230.2 639.0 230.1 640.0 230.0 641.0 230.0 642.0 229.9 643.0 229.9 644.0 229.9 645.0 229.8 646.0 229.8 647.0 229.7 648.0 229.7 649.0 229.7 L649 160 Z" fill="#ff5a00"/>
<path d="M64 160 L64.0 186.2 65.0 186.3 66.0 186.7 67.0 187.2 68.0 187.6 69.0 188.1 70.0 188.6 71.0 189.2 72.0 189.8 73.0 190.5 74.0 191.1 75.0 192.2 76.0 193.4 77.0 194.7 78.0 197.8 79.0 200.9 80.0 203.2 81.0 200.5 82.0 197.9 83.0 195.7 84.0 194.7 85.0 193.8 86.0 192.8 87.0 194.9 88.0 197.0 89.0 199.1 90.0 201.3 91.0 200.0 92.0 198.4 93.0 196.9 94.0 196.2 95.0 195.9 96.0 195.6 97.0 195.2 98.0 194.9 99.0 194.7 100.0 194.5 101.0 194.4 102.0 194.4 103.0 194.4 104.0 194.4 105.0 194.4 106.0 194.6 107.0 194.7 108.0 194.8 109.0 195.0 110.0 195.1 111.0 195.3 112.0 195.5 113.0 195.6 114.0 195.8 115.0 195.9 116.0 196.0 117.0 196.1 118.0 196.2 119.0 196.3 120.0 196.4 121.0 196.5 122.0 196.7 123.0 196.8 124.0 197.0 125.0 197.2 126.0 197.5 127.0 197.8 128.0 198.1 129.0 198.4 130.0 198.8 131.0 199.1 132.0 199.4 133.0 199.7 134.0 200.0 135.0 200.4 136.0 200.7 137.0 201.0 138.0 201.4 139.0 201.5 140.0 201.6 141.0 201.7 142.0 201.9 143.0 202.3 144.0 202.6 145.0 203.0 146.0 203.5 147.0 204.4 148.0 205.3 149.0 206.5 150.0 208.0 151.0 209.2 152.0 210.2 153.0 211.3 154.0 211.0 155.0 208.3 156.0 205.7 157.0 203.9 158.0 203.3 159.0 202.7 160.0 202.3 161.0 203.2 162.0 204.5 163.0 205.8 164.0 207.1 165.0 207.6 166.0 206.7 167.0 205.8 168.0 205.5 169.0 206.0 170.0 206.4 171.0 207.1 172.0 208.0 173.0 208.9 174.0 209.7 175.0 209.6 176.0 209.3 177.0 209.0 178.0 208.8 179.0 208.5 180.0 207.7 181.0 206.8 182.0 205.9 183.0 205.2 184.0 204.8 185.0 204.4 186.0 204.2 187.0 204.6 188.0 205.1 189.0 205.6 190.0 206.1 191.0 206.6 192.0 207.2 193.0 207.9 194.0 208.5 195.0 209.1 196.0 209.7 197.0 210.2 198.0 210.8 199.0 211.1 200.0 211.3 201.0 211.5 202.0 211.7 203.0 211.8 204.0 212.0 205.0 212.2 206.0 212.4 207.0 212.6 208.0 212.8 209.0 212.8 210.0 212.7 211.0 212.5 212.0 212.4 213.0 212.2 214.0 212.2 215.0 212.2 216.0 212.2 217.0 212.2 218.0 212.2 219.0 212.2 220.0 212.2 221.0 212.2 222.0 212.2 223.0 212.2 224.0 212.2 225.0 212.2 226.0 212.2 227.0 212.2 228.0 212.2 229.0 212.2 230.0 212.3 231.0 212.3 232.0 212.3 233.0 212.3 234.0 212.3 235.0 212.3 236.0 212.3 237.0 212.3 238.0 212.5 239.0 212.9 240.0 213.4 241.0 213.8 242.0 214.0 243.0 214.2 244.0 214.4 245.0 214.6 246.0 214.8 247.0 215.0 248.0 215.9 249.0 216.1 250.0 216.4 251.0 216.7 252.0 216.8 253.0 217.0 254.0 217.1 255.0 217.0 256.0 216.8 257.0 216.6 258.0 216.5 259.0 216.3 260.0 216.2 261.0 216.2 262.0 216.2 263.0 216.2 264.0 216.2 265.0 216.2 266.0 216.2 267.0 216.2 268.0 216.8 269.0 217.3 270.0 217.8 271.0 220.1 272.0 224.9 273.0 229.6 274.0 234.4 275.0 232.3 276.0 228.1 277.0 223.9 278.0 220.1 279.0 219.2 280.0 218.4 281.0 217.8 282.0 218.8 283.0 219.9 284.0 220.9 285.0 220.9 286.0 220.0 287.0 219.1 288.0 218.7 289.0 218.5 290.0 218.3 291.0 218.2 292.0 218.1 293.0 218.3 294.0 218.6 295.0 218.9 296.0 219.1 297.0 218.8 298.0 218.3 299.0 217.9 300.0 219.8 301.0 221.8 302.0 225.5 303.0 229.7 304.0 234.0 305.0 237.8 306.0 234.3 307.0 230.8 308.0 227.5 309.0 225.2 310.0 222.8 311.0 221.6 312.0 220.5 313.0 219.5 314.0 218.6 315.0 218.1 316.0 217.6 317.0 217.1 318.0 216.7 319.0 216.6 320.0 216.7 321.0 216.2 322.0 215.7 323.0 215.2 324.0 214.7 325.0 214.0 326.0 213.2 327.0 212.3 328.0 211.5 329.0 210.6 330.0 209.8 331.0 209.0 332.0 208.2 333.0 207.5 334.0 206.9 335.0 207.2 336.0 207.5 337.0 207.7 338.0 207.2 339.0 206.7 340.0 211.6 341.0 216.6 342.0 219.2 343.0 217.7 344.0 216.3 345.0 216.2 346.0 216.3 347.0 216.4 348.0 216.6 349.0 216.7 350.0 216.8 351.0 216.9 352.0 217.0 353.0 217.1 354.0 217.2 355.0 217.2 356.0 217.2 357.0 217.3 358.0 218.2 359.0 219.0 360.0 219.7 361.0 220.8 362.0 221.9 363.0 221.6 364.0 220.2 365.0 219.0 366.0 218.0 367.0 217.2 368.0 217.1 369.0 217.8 370.0 218.5 371.0 219.8 372.0 221.6 373.0 223.4 374.0 226.1 375.0 229.4 376.0 232.7 377.0 231.2 378.0 227.7 379.0 224.2 380.0 222.6 381.0 221.5 382.0 220.4 383.0 220.0 384.0 219.8 385.0 219.6 386.0 219.3 387.0 219.0 388.0 219.0 389.0 219.1 390.0 219.2 391.0 219.3 392.0 219.4 393.0 219.5 394.0 219.2 395.0 219.0 396.0 218.7 397.0 219.7 398.0 220.7 399.0 221.7 400.0 222.4 401.0 222.4 402.0 222.3 403.0 221.4 404.0 219.1 405.0 217.3 406.0 217.8 407.0 218.3 408.0 219.1 409.0 220.4 410.0 221.8 411.0 223.9 412.0 227.3 413.0 230.7 414.0 234.1 415.0 233.2 416.0 230.6 417.0 226.4 418.0 223.0 419.0 220.0 420.0 218.7 421.0 218.5 422.0 218.3 423.0 218.9 424.0 219.8 425.0 220.7 426.0 221.7 427.0 222.6 428.0 222.8 429.0 222.3 430.0 221.9 431.0 221.4 432.0 221.0 433.0 221.6 434.0 223.4 435.0 225.3 436.0 227.1 437.0 229.2 438.0 234.9 439.0 240.6 440.0 246.2 441.0 243.2 442.0 238.6 443.0 234.0 444.0 230.8 445.0 229.0 446.0 227.8 447.0 228.0 448.0 228.3 449.0 228.6 450.0 228.8 451.0 228.6 452.0 228.3 453.0 228.0 454.0 227.7 455.0 228.6 456.0 230.3 457.0 232.1 458.0 233.9 459.0 236.4 460.0 239.1 461.0 241.7 462.0 238.5 463.0 234.9 464.0 231.4 465.0 230.5 466.0 229.9 467.0 229.5 468.0 229.1 469.0 228.7 470.0 229.5 471.0 230.2 472.0 231.0 473.0 231.5 474.0 231.2 475.0 230.7 476.0 230.7 477.0 231.1 478.0 231.6 479.0 232.0 480.0 232.0 481.0 231.8 482.0 231.6 483.0 231.3 484.0 231.4 485.0 232.1 486.0 232.5 487.0 232.9 488.0 233.2 489.0 233.0 490.0 232.8 491.0 232.6 492.0 232.5 493.0 232.4 494.0 232.2 495.0 232.1 496.0 231.7 497.0 231.2 498.0 230.7 499.0 230.2 500.0 229.5 501.0 228.9 502.0 228.2 503.0 227.9 504.0 228.2 505.0 228.5 506.0 228.9 507.0 229.8 508.0 231.2 509.0 232.5 510.0 233.1 511.0 233.1 512.0 233.2 513.0 233.2 514.0 233.3 515.0 233.3 516.0 233.3 517.0 233.2 518.0 233.1 519.0 233.0 520.0 232.8 521.0 232.6 522.0 232.4 523.0 232.2 524.0 232.0 525.0 231.8 526.0 231.6 527.0 231.3 528.0 231.1 529.0 230.8 530.0 230.6 531.0 230.3 532.0 230.1 533.0 229.8 534.0 229.6 535.0 229.3 536.0 229.1 537.0 229.0 538.0 229.0 539.0 228.9 540.0 228.9 541.0 228.9 542.0 228.8 543.0 228.8 544.0 228.7 545.0 227.5 546.0 226.6 547.0 226.1 548.0 226.1 549.0 226.1 550.0 226.1 551.0 226.1 552.0 225.8 553.0 225.5 554.0 225.2 555.0 225.2 556.0 225.8 557.0 226.4 558.0 226.3 559.0 226.1 560.0 225.9 561.0 225.8 562.0 225.7 563.0 225.5 564.0 225.4 565.0 225.3 566.0 225.1 567.0 225.0 568.0 224.8 569.0 224.9 570.0 225.0 571.0 225.1 572.0 225.3 573.0 225.4 574.0 225.4 575.0 225.4 576.0 225.4 577.0 225.4 578.0 225.4 579.0 225.6 580.0 225.7 581.0 225.9 582.0 226.0 583.0 225.9 584.0 225.9 585.0 226.8 586.0 228.6 587.0 230.3 588.0 231.9 589.0 233.2 590.0 233.6 591.0 234.0 592.0 234.3 593.0 234.4 594.0 233.8 595.0 233.3 596.0 232.8 597.0 231.7 598.0 230.4 599.0 229.1 600.0 228.8 601.0 228.8 602.0 229.0 603.0 229.3 604.0 229.2 605.0 228.9 606.0 228.7 607.0 228.3 608.0 228.1 609.0 227.8 610.0 227.6 611.0 227.5 612.0 227.6 613.0 227.7 614.0 227.8 615.0 227.9 616.0 228.0 617.0 228.1 618.0 228.2 619.0 228.3 620.0 228.3 621.0 228.3 622.0 228.3 623.0 228.3 624.0 228.4 625.0 228.5 626.0 228.6 627.0 229.6 628.0 232.2 629.0 234.6 630.0 235.5 631.0 236.4 632.0 236.6 633.0 234.2 634.0 231.9 635.0 229.7 636.0 228.7 637.0 228.6 638.0 228.5 639.0 228.4 640.0 228.4 641.0 228.3 642.0 228.2 643.0 228.2 644.0 228.1 645.0 228.1 646.0 228.0 647.0 228.0 648.0 227.9 649.0 227.9 L649 160 Z" fill="#ff8c00"/>
<path d="M64 160 L64.0 185.3 65.0 185.4 66.0 185.8 67.0 186.2 68.0 186.6 69.0 187.1 70.0 187.6 71.0 188.1 72.0 188.7 73.0 189.3 74.0 189.9 75.0 190.9 76.0 191.9 77.0 193.1 78.0 195.7 79.0 198.4 80.0 200.3 81.0 198.2 82.0 196.0 83.0 194.2 84.0 193.4 85.0 192.7 86.0 192.0 87.0 193.8 88.0 195.7 89.0 197.5 90.0 199.3 91.0 198.3 92.0 197.1 93.0 195.8 94.0 195.3 95.0 195.0 96.0 194.7 97.0 194.4 98.0 194.1 99.0 193.9 100.0 193.7 101.0 193.6 102.0 193.6 103.0 193.6 104.0 193.6 105.0 193.6 106.0 193.7 107.0 193.8 108.0 194.0 109.0 194.1 110.0 194.2 111.0 194.4 112.0 194.5 113.0 194.7 114.0 194.8 115.0 194.9 116.0 195.0 117.0 195.1 118.0 195.3 119.0 195.4 120.0 195.5 121.0 195.6 122.0 195.8 123.0 196.0 124.0 196.1 125.0 196.3 126.0 196.6 127.0 196.9 128.0 197.2 129.0 197.5 130.0 197.8 131.0 198.1 132.0 198.4 133.0 198.7 134.0 199.0 135.0 199.3 136.0 199.7 137.0 200.0 138.0 200.4 139.0 200.6 140.0 200.7 141.0 200.8 142.0 201.2 143.0 201.5 144.0 201.9 145.0 202.3 146.0 202.8 147.0 203.5 148.0 204.3 149.0 205.2 150.0 206.5 151.0 207.7 152.0 208.6 153.0 209.4 154.0 209.2 155.0 206.9 156.0 204.6 157.0 203.1 158.0 202.6 159.0 202.1 160.0 201.7 161.0 202.4 162.0 203.5 163.0 204.6 164.0 205.7 165.0 206.1 166.0 205.3 167.0 204.6 168.0 204.4 169.0 204.8 170.0 205.1 171.0 205.7 172.0 206.5 173.0 207.2 174.0 207.9 175.0 207.7 176.0 207.5 177.0 207.2 178.0 206.9 179.0 206.7 180.0 206.0 181.0 205.2 182.0 204.5 183.0 203.9 184.0 203.6 185.0 203.4 186.0 203.3 187.0 203.8 188.0 204.4 189.0 204.9 190.0 205.5 191.0 206.1 192.0 206.7 193.0 207.4 194.0 208.0 195.0 208.7 196.0 209.2 197.0 209.7 198.0 210.2 199.0 210.5 200.0 210.7 201.0 210.9 202.0 211.1 203.0 211.2 204.0 211.4 205.0 211.5 206.0 211.6 207.0 211.8 208.0 212.0 209.0 212.0 210.0 211.8 211.0 211.7 212.0 211.6 213.0 211.4 214.0 211.4 215.0 211.4 216.0 211.4 217.0 211.4 218.0 211.4 219.0 211.4 220.0 211.4 221.0 211.4 222.0 211.4 223.0 211.4 224.0 211.4 225.0 211.4 226.0 211.5 227.0 211.5 228.0 211.5 229.0 211.5 230.0 211.5 231.0 211.5 232.0 211.6 233.0 211.6 234.0 211.6 235.0 211.6 236.0 211.7 237.0 211.7 238.0 211.8 239.0 212.2 240.0 212.7 241.0 213.0 242.0 213.3 243.0 213.5 244.0 213.6 245.0 213.8 246.0 214.1 247.0 214.3 248.0 215.1 249.0 215.3 250.0 215.6 251.0 215.9 252.0 216.1 253.0 216.3 254.0 216.5 255.0 216.4 256.0 216.3 257.0 216.1 258.0 216.0 259.0 215.9 260.0 215.9 261.0 215.8 262.0 215.8 263.0 215.8 264.0 215.8 265.0 215.8 266.0 215.8 267.0 215.8 268.0 216.2 269.0 216.7 270.0 217.2 271.0 219.1 272.0 223.1 273.0 227.1 274.0 231.1 275.0 229.4 276.0 225.9 277.0 222.4 278.0 219.2 279.0 218.5 280.0 217.8 281.0 217.3 282.0 218.2 283.0 219.0 284.0 219.9 285.0 219.8 286.0 219.1 287.0 218.3 288.0 217.8 289.0 217.7 290.0 217.5 291.0 217.3 292.0 217.2 293.0 217.4 294.0 217.6 295.0 217.8 296.0 217.9 297.0 217.6 298.0 217.2 299.0 216.9 300.0 218.5 301.0 220.3 302.0 223.3 303.0 226.9 304.0 230.6 305.0 233.9 306.0 231.0 307.0 228.1 308.0 225.4 309.0 223.4 310.0 221.3 311.0 220.3 312.0 219.4 313.0 218.5 314.0 217.7 315.0 217.2 316.0 216.8 317.0 216.3 318.0 215.9 319.0 215.8 320.0 216.1 321.0 215.6 322.0 215.1 323.0 214.6 324.0 214.1 325.0 213.4 326.0 212.5 327.0 211.6 328.0 210.7 329.0 209.9 330.0 209.0 331.0 208.1 332.0 207.3 333.0 206.5 334.0 205.7 335.0 205.8 336.0 206.0 337.0 206.1 338.0 205.7 339.0 205.3 340.0 209.6 341.0 213.9 342.0 216.2 343.0 215.1 344.0 214.0 345.0 214.0 346.0 214.3 347.0 214.6 348.0 214.9 349.0 215.2 350.0 215.5 351.0 215.7 352.0 215.9 353.0 216.1 354.0 216.3 355.0 216.3 356.0 216.4 357.0 216.4 358.0 217.2 359.0 217.9 360.0 218.4 361.0 219.3 362.0 220.3 363.0 219.9 364.0 218.8 365.0 217.8 366.0 217.0 367.0 216.4 368.0 216.4 369.0 217.0 370.0 217.7 371.0 218.8 372.0 220.4 373.0 221.9 374.0 224.3 375.0 227.1 376.0 229.9 377.0 228.6 378.0 225.6 379.0 222.7 380.0 221.4 381.0 220.5 382.0 219.6 383.0 219.3 384.0 219.1 385.0 218.9 386.0 218.7 387.0 218.5 388.0 218.4 389.0 218.5 390.0 218.5 391.0 218.6 392.0 218.6 393.0 218.6 394.0 218.4 395.0 218.1 396.0 217.8 397.0 218.6 398.0 219.4 399.0 220.2 400.0 220.7 401.0 220.6 402.0 220.6 403.0 219.7 404.0 217.8 405.0 216.4 406.0 216.9 407.0 217.4 408.0 218.1 409.0 219.3 410.0 220.5 411.0 222.4 412.0 225.3 413.0 228.3 414.0 231.2 415.0 230.4 416.0 228.2 417.0 224.7 418.0 221.7 419.0 219.2 420.0 218.0 421.0 217.8 422.0 217.7 423.0 218.3 424.0 219.1 425.0 220.0 426.0 220.8 427.0 221.6 428.0 221.8 429.0 221.5 430.0 221.3 431.0 221.0 432.0 220.7 433.0 221.3 434.0 222.9 435.0 224.6 436.0 226.2 437.0 228.1 438.0 233.0 439.0 237.9 440.0 242.8 441.0 240.3 442.0 236.5 443.0 232.5 444.0 229.7 445.0 228.2 446.0 227.1 447.0 227.3 448.0 227.5 449.0 227.7 450.0 227.8 451.0 227.6 452.0 227.3 453.0 227.1 454.0 227.0 455.0 227.7 456.0 229.2 457.0 230.8 458.0 232.3 459.0 234.4 460.0 236.6 461.0 238.8 462.0 236.1 463.0 233.1 464.0 230.1 465.0 229.3 466.0 228.7 467.0 228.3 468.0 227.9 469.0 227.5 470.0 228.1 471.0 228.6 472.0 229.0 473.0 229.0 474.0 227.6 475.0 225.9 476.0 225.2 477.0 225.6 478.0 226.0 479.0 226.3 480.0 226.3 481.0 226.1 482.0 226.0 483.0 225.8 484.0 226.2 485.0 228.1 486.0 229.3 487.0 230.3 488.0 231.3 489.0 231.2 490.0 231.1 491.0 230.9 492.0 230.8 493.0 230.7 494.0 230.6 495.0 230.6 496.0 230.3 497.0 229.9 498.0 229.4 499.0 229.0 500.0 228.5 501.0 228.0 502.0 227.6 503.0 227.3 504.0 227.5 505.0 227.8 506.0 228.0 507.0 228.9 508.0 230.1 509.0 231.2 510.0 232.0 511.0 232.0 512.0 232.1 513.0 232.2 514.0 232.3 515.0 232.4 516.0 232.5 517.0 232.4 518.0 232.4 519.0 232.3 520.0 232.1 521.0 231.9 522.0 231.6 523.0 231.4 524.0 231.2 525.0 231.0 526.0 230.7 527.0 230.5 528.0 230.2 529.0 230.0 530.0 229.7 531.0 229.5 532.0 229.2 533.0 229.0 534.0 228.7 535.0 228.5 536.0 228.2 537.0 228.1 538.0 228.1 539.0 228.0 540.0 228.0 541.0 228.0 542.0 227.8 543.0 227.6 544.0 227.5 545.0 224.9 546.0 222.9 547.0 221.8 548.0 221.8 549.0 221.8 550.0 221.8 551.0 221.8 552.0 221.6 553.0 221.3 554.0 221.1 555.0 221.5 556.0 223.2 557.0 224.8 558.0 225.1 559.0 225.1 560.0 224.9 561.0 224.9 562.0 224.8 563.0 224.7 564.0 224.7 565.0 224.6 566.0 224.4 567.0 224.3 568.0 224.2 569.0 224.2 570.0 224.3 571.0 224.4 572.0 224.6 573.0 224.6 574.0 224.6 575.0 224.6 576.0 224.6 577.0 224.5 578.0 224.6 579.0 224.7 580.0 224.8 581.0 224.9 582.0 225.0 583.0 225.0 584.0 225.0 585.0 225.8 586.0 227.3 587.0 228.8 588.0 230.2 589.0 231.3 590.0 231.6 591.0 232.0 592.0 232.3 593.0 232.4 594.0 232.0 595.0 231.6 596.0 231.2 597.0 230.3 598.0 229.1 599.0 228.0 600.0 227.7 601.0 227.7 602.0 227.9 603.0 228.1 604.0 227.9 605.0 227.6 606.0 227.3 607.0 226.7 608.0 226.4 609.0 226.1 610.0 225.8 611.0 225.8 612.0 225.8 613.0 225.9 614.0 226.0 615.0 226.0 616.0 226.1 617.0 226.2 618.0 226.2 619.0 226.3 620.0 226.3 621.0 226.3 622.0 226.3 623.0 226.3 624.0 226.4 625.0 226.5 626.0 226.6 627.0 227.4 628.0 229.7 629.0 231.7 630.0 232.4 631.0 233.2 632.0 233.3 633.0 231.4 634.0 229.4 635.0 227.5 636.0 226.7 637.0 226.6 638.0 226.5 639.0 226.5 640.0 226.4 641.0 226.3 642.0 226.2 643.0 226.2 644.0 226.1 645.0 226.0 646.0 226.0 647.0 225.9 648.0 225.9 649.0 225.9 L649 160 Z" fill="#ffc400"/>
<path d="M64 160 L64.0 184.4 65.0 184.5 66.0 184.9 67.0 185.3 68.0 185.7 69.0 186.1 70.0 186.5 71.0 187.1 72.0 187.6 73.0 188.2 74.0 188.7 75.0 189.6 76.0 190.5 77.0 191.5 78.0 193.7 79.0 195.9 80.0 197.5 81.0 195.8 82.0 194.1 83.0 192.6 84.0 192.0 85.0 191.5 86.0 191.1 87.0 192.7 88.0 194.3 89.0 195.9 90.0 197.4 91.0 196.7 92.0 195.7 93.0 194.7 94.0 194.3 95.0 194.1 96.0 193.9 97.0 193.6 98.0 193.4 99.0 193.1 100.0 192.9 101.0 192.8 102.0 192.8 103.0 192.8 104.0 192.8 105.0 192.8 106.0 192.9 107.0 193.0 108.0 193.1 109.0 193.2 110.0 193.3 111.0 193.4 112.0 193.6 113.0 193.7 114.0 193.9 115.0 194.0 116.0 194.1 117.0 194.2 118.0 194.3 119.0 194.5 120.0 194.6 121.0 194.7 122.0 194.9 123.0 195.1 124.0 195.2 125.0 195.4 126.0 195.7 127.0 196.0 128.0 196.2 129.0 196.5 130.0 196.8 131.0 197.1 132.0 197.4 133.0 197.7 134.0 198.0 135.0 198.3 136.0 198.7 137.0 199.0 138.0 199.4 139.0 199.6 140.0 199.8 141.0 200.0 142.0 200.4 143.0 200.8 144.0 201.2 145.0 201.6 146.0 202.0 147.0 202.6 148.0 203.2 149.0 204.0 150.0 205.1 151.0 206.3 152.0 206.9 153.0 207.5 154.0 207.3 155.0 205.5 156.0 203.6 157.0 202.3 158.0 201.8 159.0 201.4 160.0 201.1 161.0 201.7 162.0 202.5 163.0 203.4 164.0 204.3 165.0 204.6 166.0 204.0 167.0 203.4 168.0 203.2 169.0 203.5 170.0 203.9 171.0 204.3 172.0 204.9 173.0 205.5 174.0 206.0 175.0 205.9 176.0 205.6 177.0 205.4 178.0 205.1 179.0 204.8 180.0 204.2 181.0 203.5 182.0 203.0 183.0 202.6 184.0 202.5 185.0 202.4 186.0 202.4 187.0 202.9 188.0 203.6 189.0 204.2 190.0 204.9 191.0 205.6 192.0 206.2 193.0 206.9 194.0 207.6 195.0 208.2 196.0 208.8 197.0 209.2 198.0 209.7 199.0 210.0 200.0 210.2 201.0 210.4 202.0 210.5 203.0 210.6 204.0 210.7 205.0 210.8 206.0 210.9 207.0 211.0 208.0 211.2 209.0 211.2 210.0 211.0 211.0 210.9 212.0 210.8 213.0 210.7 214.0 210.6 215.0 210.6 216.0 210.6 217.0 210.6 218.0 210.6 219.0 210.6 220.0 210.6 221.0 210.6 222.0 210.6 223.0 210.6 224.0 210.6 225.0 210.6 226.0 210.7 227.0 210.7 228.0 210.7 229.0 210.7 230.0 210.8 231.0 210.8 232.0 210.8 233.0 210.9 234.0 210.9 235.0 211.0 236.0 211.0 237.0 211.0 238.0 211.2 239.0 211.6 240.0 211.9 241.0 212.3 242.0 212.5 243.0 212.7 244.0 212.9 245.0 213.1 246.0 213.3 247.0 213.6 248.0 214.3 249.0 214.5 250.0 214.8 251.0 215.1 252.0 215.4 253.0 215.6 254.0 215.8 255.0 215.8 256.0 215.7 257.0 215.6 258.0 215.6 259.0 215.5 260.0 215.5 261.0 215.5 262.0 215.4 263.0 215.4 264.0 215.4 265.0 215.4 266.0 215.3 267.0 215.3 268.0 215.7 269.0 216.1 270.0 216.5 271.0 218.1 272.0 221.3 273.0 224.6 274.0 227.9 275.0 226.5 276.0 223.7 277.0 220.9 278.0 218.3 279.0 217.8 280.0 217.3 281.0 216.8 282.0 217.5 283.0 218.1 284.0 218.8 285.0 218.7 286.0 218.1 287.0 217.4 288.0 217.0 289.0 216.8 290.0 216.7 291.0 216.5 292.0 216.4 293.0 216.5 294.0 216.6 295.0 216.7 296.0 216.8 297.0 216.4 298.0 216.1 299.0 215.9 300.0 217.2 301.0 218.7 302.0 221.2 303.0 224.2 304.0 227.2 305.0 229.9 306.0 227.7 307.0 225.4 308.0 223.3 309.0 221.6 310.0 219.9 311.0 219.1 312.0 218.3 313.0 217.5 314.0 216.8 315.0 216.3 316.0 215.9 317.0 215.5 318.0 215.1 319.0 214.9 320.0 215.5 321.0 215.0 322.0 214.5 323.0 214.0 324.0 213.5 325.0 212.7 326.0 211.8 327.0 210.9 328.0 210.0 329.0 209.1 330.0 208.2 331.0 207.2 332.0 206.3 333.0 205.4 334.0 204.6 335.0 204.4 336.0 204.5 337.0 204.4 338.0 204.2 339.0 204.0 340.0 207.6 341.0 211.2 342.0 213.2 343.0 212.5 344.0 211.7 345.0 211.9 346.0 212.3 347.0 212.8 348.0 213.3 349.0 213.7 350.0 214.1 351.0 214.4 352.0 214.8 353.0 215.1 354.0 215.3 355.0 215.4 356.0 215.5 357.0 215.5 358.0 216.2 359.0 216.8 360.0 217.2 361.0 217.8 362.0 218.6 363.0 218.3 364.0 217.4 365.0 216.6 366.0 216.1 367.0 215.7 368.0 215.7 369.0 216.3 370.0 216.9 371.0 217.9 372.0 219.2 373.0 220.4 374.0 222.4 375.0 224.7 376.0 227.0 377.0 226.0 378.0 223.6 379.0 221.2 380.0 220.2 381.0 219.5 382.0 218.8 383.0 218.6 384.0 218.4 385.0 218.3 386.0 218.1 387.0 217.9 388.0 217.8 389.0 217.8 390.0 217.8 391.0 217.8 392.0 217.8 393.0 217.8 394.0 217.5 395.0 217.2 396.0 216.9 397.0 217.5 398.0 218.0 399.0 218.6 400.0 219.0 401.0 218.9 402.0 218.8 403.0 218.1 404.0 216.6 405.0 215.5 406.0 216.0 407.0 216.4 408.0 217.1 409.0 218.2 410.0 219.3 411.0 220.9 412.0 223.4 413.0 225.8 414.0 228.2 415.0 227.6 416.0 225.7 417.0 222.9 418.0 220.4 419.0 218.3 420.0 217.4 421.0 217.1 422.0 217.1 423.0 217.7 424.0 218.4 425.0 219.2 426.0 219.9 427.0 220.7 428.0 220.9 429.0 220.8 430.0 220.6 431.0 220.5 432.0 220.4 433.0 221.0 434.0 222.4 435.0 223.9 436.0 225.4 437.0 227.0 438.0 231.1 439.0 235.2 440.0 239.3 441.0 237.4 442.0 234.3 443.0 231.0 444.0 228.7 445.0 227.4 446.0 226.5 447.0 226.6 448.0 226.7 449.0 226.8 450.0 226.9 451.0 226.6 452.0 226.4 453.0 226.3 454.0 226.2 455.0 226.8 456.0 228.1 457.0 229.4 458.0 230.7 459.0 232.4 460.0 234.2 461.0 236.0 462.0 233.8 463.0 231.2 464.0 228.7 465.0 228.0 466.0 227.5 467.0 227.1 468.0 226.7 469.0 226.4 470.0 226.7 471.0 227.0 472.0 227.1 473.0 226.5 474.0 224.0 475.0 221.1 476.0 219.8 477.0 220.1 478.0 220.4 479.0 220.7 480.0 220.7 481.0 220.5 482.0 220.4 483.0 220.2 484.0 221.0 485.0 224.1 486.0 226.0 487.0 227.7 488.0 229.3 489.0 229.4 490.0 229.3 491.0 229.2 492.0 229.2 493.0 229.1 494.0 229.1 495.0 229.0 496.0 228.8 497.0 228.5 498.0 228.2 499.0 227.9 500.0 227.5 501.0 227.2 502.0 226.9 503.0 226.8 504.0 226.9 505.0 227.0 506.0 227.2 507.0 228.0 508.0 229.0 509.0 229.9 510.0 230.8 511.0 230.9 512.0 231.1 513.0 231.2 514.0 231.3 515.0 231.5 516.0 231.6 517.0 231.6 518.0 231.7 519.0 231.6 520.0 231.4 521.0 231.1 522.0 230.9 523.0 230.6 524.0 230.4 525.0 230.1 526.0 229.9 527.0 229.6 528.0 229.4 529.0 229.1 530.0 228.9 531.0 228.6 532.0 228.4 533.0 228.1 534.0 227.9 535.0 227.6 536.0 227.4 537.0 227.3 538.0 227.2 539.0 227.1 540.0 227.1 541.0 227.0 542.0 226.8 543.0 226.5 544.0 226.2 545.0 222.4 546.0 219.2 547.0 217.6 548.0 217.6 549.0 217.6 550.0 217.6 551.0 217.6 552.0 217.4 553.0 217.2 554.0 217.0 555.0 217.7 556.0 220.7 557.0 223.3 558.0 223.9 559.0 224.0 560.0 223.9 561.0 223.9 562.0 223.9 563.0 223.9 564.0 223.9 565.0 223.8 566.0 223.7 567.0 223.6 568.0 223.5 569.0 223.6 570.0 223.7 571.0 223.8 572.0 223.8 573.0 223.9 574.0 223.8 575.0 223.8 576.0 223.8 577.0 223.7 578.0 223.7 579.0 223.8 580.0 223.9 581.0 224.0 582.0 224.0 583.0 224.0 584.0 224.0 585.0 224.7 586.0 226.0 587.0 227.3 588.0 228.4 589.0 229.4 590.0 229.7 591.0 230.0 592.0 230.3 593.0 230.4 594.0 230.1 595.0 229.8 596.0 229.6 597.0 228.8 598.0 227.9 599.0 226.9 600.0 226.7 601.0 226.6 602.0 226.8 603.0 226.8 604.0 226.6 605.0 226.2 606.0 225.9 607.0 225.0 608.0 224.7 609.0 224.4 610.0 224.1 611.0 224.0 612.0 224.0 613.0 224.1 614.0 224.1 615.0 224.1 616.0 224.2 617.0 224.2 618.0 224.3 619.0 224.3 620.0 224.2 621.0 224.3 622.0 224.3 623.0 224.3 624.0 224.4 625.0 224.5 626.0 224.6 627.0 225.3 628.0 227.1 629.0 228.8 630.0 229.4 631.0 230.0 632.0 230.1 633.0 228.5 634.0 226.9 635.0 225.4 636.0 224.7 637.0 224.6 638.0 224.5 639.0 224.5 640.0 224.4 641.0 224.3 642.0 224.3 643.0 224.2 644.0 224.1 645.0 224.0 646.0 223.9 647.0 223.9 648.0 223.8 649.0 223.8 L649 160 Z" fill="#fff200"/>
<path d="M64 160 L64.0 183.3 65.0 183.3 66.0 183.7 67.0 184.0 68.0 184.4 69.0 184.8 70.0 185.2 71.0 185.7 72.0 186.2 73.0 186.7 74.0 187.2 75.0 187.9 76.0 188.5 77.0 188.9 78.0 189.1 79.0 189.3 80.0 189.6 81.0 189.8 82.0 190.1 83.0 190.3 84.0 190.3 85.0 190.1 86.0 189.9 87.0 191.2 88.0 192.5 89.0 193.0 90.0 193.5 91.0 193.8 92.0 193.9 93.0 193.3 94.0 193.2 95.0 193.0 96.0 192.8 97.0 192.5 98.0 192.3 99.0 192.1 100.0 191.9 101.0 191.8 102.0 191.7 103.0 191.7 104.0 191.7 105.0 191.8 106.0 191.8 107.0 191.9 108.0 192.0 109.0 192.0 110.0 192.1 111.0 192.2 112.0 192.4 113.0 192.5 114.0 192.7 115.0 192.8 116.0 192.9 117.0 193.0 118.0 193.2 119.0 193.3 120.0 193.4 121.0 193.5 122.0 193.7 123.0 193.9 124.0 194.1 125.0 194.3 126.0 194.5 127.0 194.8 128.0 195.0 129.0 195.3 130.0 195.6 131.0 195.9 132.0 196.2 133.0 196.4 134.0 196.7 135.0 197.0 136.0 197.3 137.0 197.7 138.0 198.1 139.0 198.4 140.0 198.7 141.0 199.0 142.0 199.4 143.0 199.8 144.0 200.2 145.0 200.7 146.0 201.1 147.0 201.5 148.0 201.9 149.0 202.5 150.0 203.0 151.0 204.2 152.0 204.0 153.0 203.8 154.0 203.6 155.0 203.5 156.0 202.2 157.0 201.3 158.0 200.9 159.0 200.6 160.0 200.3 161.0 200.7 162.0 201.3 163.0 201.9 164.0 202.4 165.0 202.3 166.0 202.2 167.0 201.8 168.0 201.7 169.0 202.0 170.0 202.2 171.0 202.5 172.0 202.6 173.0 202.4 174.0 202.2 175.0 202.1 176.0 201.9 177.0 201.7 178.0 201.5 179.0 201.2 180.0 200.9 181.0 200.7 182.0 200.8 183.0 201.0 184.0 201.0 185.0 201.1 186.0 201.2 187.0 201.8 188.0 202.6 189.0 203.4 190.0 204.1 191.0 204.9 192.0 205.6 193.0 206.3 194.0 207.0 195.0 207.7 196.0 208.2 197.0 208.5 198.0 208.9 199.0 209.2 200.0 209.4 201.0 209.7 202.0 209.8 203.0 209.8 204.0 209.9 205.0 209.9 206.0 210.0 207.0 210.0 208.0 210.1 209.0 210.1 210.0 210.0 211.0 209.9 212.0 209.8 213.0 209.7 214.0 209.6 215.0 209.6 216.0 209.6 217.0 209.6 218.0 209.6 219.0 209.6 220.0 209.6 221.0 209.6 222.0 209.6 223.0 209.6 224.0 209.6 225.0 209.6 226.0 209.7 227.0 209.7 228.0 209.7 229.0 209.8 230.0 209.8 231.0 209.9 232.0 209.9 233.0 210.0 234.0 210.0 235.0 210.1 236.0 210.2 237.0 210.2 238.0 210.3 239.0 210.7 240.0 211.0 241.0 211.3 242.0 211.5 243.0 211.7 244.0 211.9 245.0 212.1 246.0 212.4 247.0 212.6 248.0 213.2 249.0 213.5 250.0 213.8 251.0 214.2 252.0 214.5 253.0 214.8 254.0 215.0 255.0 215.0 256.0 215.0 257.0 215.0 258.0 215.0 259.0 215.0 260.0 215.0 261.0 215.0 262.0 214.9 263.0 214.9 264.0 214.9 265.0 214.8 266.0 214.8 267.0 214.8 268.0 215.1 269.0 215.3 270.0 215.6 271.0 216.8 272.0 218.0 273.0 218.0 274.0 218.1 275.0 218.2 276.0 218.4 277.0 218.6 278.0 217.2 279.0 216.9 280.0 216.6 281.0 216.2 282.0 216.6 283.0 217.0 284.0 217.4 285.0 217.3 286.0 216.8 287.0 216.3 288.0 216.0 289.0 215.8 290.0 215.6 291.0 215.4 292.0 215.2 293.0 215.2 294.0 215.2 295.0 215.2 296.0 215.2 297.0 214.9 298.0 214.7 299.0 214.6 300.0 215.6 301.0 216.1 302.0 216.3 303.0 216.5 304.0 216.8 305.0 217.2 306.0 217.6 307.0 218.0 308.0 218.4 309.0 218.2 310.0 218.0 311.0 217.4 312.0 216.8 313.0 216.2 314.0 215.6 315.0 215.2 316.0 214.8 317.0 214.5 318.0 214.1 319.0 213.9 320.0 214.6 321.0 214.1 322.0 213.6 323.0 213.1 324.0 212.6 325.0 211.9 326.0 210.9 327.0 210.0 328.0 209.1 329.0 208.1 330.0 207.1 331.0 206.1 332.0 205.1 333.0 204.1 334.0 203.1 335.0 202.7 336.0 202.2 337.0 201.6 338.0 202.1 339.0 202.4 340.0 203.2 341.0 203.9 342.0 204.6 343.0 205.4 344.0 206.2 345.0 207.0 346.0 207.9 347.0 209.1 348.0 210.3 349.0 211.5 350.0 212.3 351.0 212.8 352.0 213.3 353.0 213.8 354.0 214.1 355.0 214.2 356.0 214.3 357.0 214.4 358.0 214.9 359.0 215.3 360.0 215.5 361.0 215.8 362.0 215.7 363.0 215.6 364.0 215.5 365.0 215.2 366.0 214.9 367.0 214.7 368.0 214.8 369.0 215.4 370.0 215.9 371.0 216.6 372.0 217.6 373.0 218.4 374.0 218.7 375.0 218.8 376.0 218.9 377.0 219.0 378.0 219.1 379.0 219.2 380.0 218.7 381.0 218.2 382.0 217.7 383.0 217.6 384.0 217.5 385.0 217.5 386.0 217.4 387.0 217.1 388.0 217.0 389.0 217.0 390.0 216.9 391.0 216.8 392.0 216.8 393.0 216.7 394.0 216.4 395.0 216.1 396.0 215.8 397.0 216.0 398.0 216.3 399.0 216.2 400.0 215.9 401.0 215.7 402.0 215.5 403.0 215.2 404.0 215.0 405.0 214.4 406.0 214.8 407.0 215.2 408.0 215.8 409.0 216.7 410.0 217.7 411.0 218.6 412.0 219.1 413.0 219.6 414.0 219.8 415.0 219.8 416.0 219.6 417.0 219.3 418.0 218.8 419.0 217.2 420.0 216.5 421.0 216.3 422.0 216.4 423.0 216.9 424.0 217.5 425.0 218.1 426.0 218.8 427.0 219.4 428.0 219.8 429.0 219.8 430.0 219.9 431.0 219.9 432.0 220.0 433.0 220.5 434.0 221.8 435.0 223.0 436.0 224.2 437.0 225.6 438.0 227.1 439.0 227.8 440.0 228.5 441.0 229.1 442.0 229.1 443.0 228.8 444.0 227.4 445.0 226.3 446.0 225.6 447.0 225.6 448.0 225.6 449.0 225.6 450.0 225.6 451.0 225.3 452.0 225.2 453.0 225.2 454.0 225.2 455.0 225.7 456.0 226.7 457.0 227.7 458.0 227.9 459.0 227.9 460.0 227.9 461.0 227.9 462.0 227.8 463.0 227.5 464.0 227.0 465.0 226.4 466.0 225.9 467.0 225.6 468.0 225.2 469.0 224.8 470.0 225.0 471.0 224.4 472.0 223.0 473.0 220.1 474.0 212.6 475.0 204.6 476.0 200.6 477.0 200.6 478.0 200.6 479.0 200.6 480.0 200.6 481.0 200.6 482.0 200.6 483.0 200.6 484.0 203.0 485.0 211.0 486.0 216.2 487.0 220.7 488.0 225.2 489.0 225.8 490.0 225.9 491.0 226.1 492.0 226.2 493.0 226.3 494.0 226.4 495.0 226.6 496.0 226.7 497.0 226.7 498.0 226.5 499.0 226.4 500.0 226.2 501.0 226.1 502.0 226.1 503.0 226.0 504.0 226.1 505.0 226.1 506.0 226.2 507.0 226.8 508.0 227.5 509.0 228.3 510.0 229.3 511.0 229.5 512.0 229.7 513.0 229.9 514.0 230.1 515.0 230.3 516.0 230.5 517.0 230.6 518.0 230.7 519.0 230.8 520.0 230.5 521.0 230.2 522.0 229.9 523.0 229.6 524.0 229.3 525.0 229.0 526.0 228.8 527.0 228.5 528.0 228.3 529.0 228.0 530.0 227.8 531.0 227.5 532.0 227.3 533.0 227.0 534.0 226.8 535.0 226.5 536.0 226.3 537.0 226.2 538.0 226.1 539.0 226.0 540.0 225.9 541.0 225.8 542.0 225.5 543.0 225.1 544.0 224.7 545.0 215.6 546.0 207.6 547.0 203.6 548.0 203.6 549.0 203.6 550.0 203.6 551.0 203.6 552.0 203.6 553.0 203.6 554.0 203.6 555.0 206.0 556.0 214.0 557.0 221.0 558.0 222.4 559.0 222.7 560.0 222.7 561.0 222.8 562.0 222.8 563.0 222.9 564.0 223.0 565.0 222.9 566.0 222.9 567.0 222.8 568.0 222.7 569.0 222.7 570.0 222.8 571.0 222.9 572.0 222.9 573.0 222.9 574.0 222.8 575.0 222.8 576.0 222.7 577.0 222.7 578.0 222.7 579.0 222.7 580.0 222.7 581.0 222.8 582.0 222.8 583.0 222.7 584.0 222.7 585.0 223.4 586.0 224.4 587.0 224.9 588.0 225.1 589.0 225.3 590.0 225.5 591.0 225.7 592.0 225.9 593.0 226.1 594.0 226.3 595.0 226.5 596.0 226.7 597.0 226.8 598.0 226.3 599.0 225.5 600.0 225.3 601.0 225.2 602.0 225.3 603.0 225.2 604.0 224.9 605.0 224.5 606.0 224.0 607.0 222.2 608.0 221.7 609.0 221.3 610.0 220.8 611.0 220.7 612.0 220.6 613.0 220.5 614.0 220.4 615.0 220.3 616.0 220.2 617.0 220.1 618.0 220.0 619.0 219.9 620.0 219.8 621.0 219.9 622.0 219.9 623.0 220.0 624.0 220.0 625.0 220.1 626.0 220.2 627.0 220.2 628.0 220.3 629.0 220.3 630.0 220.4 631.0 220.4 632.0 220.4 633.0 220.3 634.0 220.3 635.0 220.3 636.0 220.3 637.0 220.3 638.0 220.2 639.0 220.2 640.0 220.2 641.0 220.1 642.0 219.9 643.0 219.8 644.0 219.6 645.0 219.5 646.0 219.4 647.0 219.2 648.0 219.1 649.0 219.1 L649 160 Z" fill="#a8f000"/>
<path d="M64 160 L64.0 182.5 65.0 182.5 66.0 182.9 67.0 183.2 68.0 183.6 69.0 184.0 70.0 184.3 71.0 184.8 72.0 185.2 73.0 185.7 74.0 186.2 75.0 186.8 76.0 187.3 77.0 187.7 78.0 187.9 79.0 188.1 80.0 188.4 81.0 188.6 82.0 188.9 83.0 189.1 84.0 189.2 85.0 189.2 86.0 189.2 87.0 190.2 88.0 191.3 89.0 191.8 90.0 192.3 91.0 192.6 92.0 192.8 93.0 192.4 94.0 192.4 95.0 192.3 96.0 192.1 97.0 191.8 98.0 191.6 99.0 191.5 100.0 191.3 101.0 191.1 102.0 191.0 103.0 191.0 104.0 191.0 105.0 191.1 106.0 191.1 107.0 191.2 108.0 191.2 109.0 191.3 110.0 191.3 111.0 191.4 112.0 191.6 113.0 191.7 114.0 191.8 115.0 192.0 116.0 192.1 117.0 192.2 118.0 192.4 119.0 192.5 120.0 192.6 121.0 192.8 122.0 193.0 123.0 193.1 124.0 193.3 125.0 193.5 126.0 193.8 127.0 194.0 128.0 194.2 129.0 194.5 130.0 194.8 131.0 195.0 132.0 195.3 133.0 195.6 134.0 195.8 135.0 196.1 136.0 196.5 137.0 196.9 138.0 197.3 139.0 197.6 140.0 197.9 141.0 198.3 142.0 198.7 143.0 199.1 144.0 199.6 145.0 200.0 146.0 200.4 147.0 200.7 148.0 201.0 149.0 201.4 150.0 201.8 151.0 203.0 152.0 202.8 153.0 202.6 154.0 202.4 155.0 202.3 156.0 201.3 157.0 200.6 158.0 200.3 159.0 200.0 160.0 199.8 161.0 200.1 162.0 200.4 163.0 200.8 164.0 201.2 165.0 201.1 166.0 201.1 167.0 200.8 168.0 200.7 169.0 200.9 170.0 201.1 171.0 201.3 172.0 201.4 173.0 201.2 174.0 201.0 175.0 200.9 176.0 200.7 177.0 200.5 178.0 200.3 179.0 200.0 180.0 199.7 181.0 199.5 182.0 199.6 183.0 199.9 184.0 200.0 185.0 200.2 186.0 200.5 187.0 201.1 188.0 201.9 189.0 202.8 190.0 203.6 191.0 204.4 192.0 205.1 193.0 205.8 194.0 206.6 195.0 207.3 196.0 207.8 197.0 208.1 198.0 208.5 199.0 208.7 200.0 209.0 201.0 209.2 202.0 209.3 203.0 209.3 204.0 209.3 205.0 209.3 206.0 209.3 207.0 209.4 208.0 209.4 209.0 209.4 210.0 209.3 211.0 209.2 212.0 209.1 213.0 209.0 214.0 209.0 215.0 208.9 216.0 208.9 217.0 208.9 218.0 208.9 219.0 208.9 220.0 208.9 221.0 208.9 222.0 208.9 223.0 208.9 224.0 208.9 225.0 209.0 226.0 209.0 227.0 209.0 228.0 209.1 229.0 209.1 230.0 209.2 231.0 209.2 232.0 209.3 233.0 209.4 234.0 209.4 235.0 209.5 236.0 209.6 237.0 209.7 238.0 209.8 239.0 210.1 240.0 210.4 241.0 210.6 242.0 210.8 243.0 211.0 244.0 211.2 245.0 211.4 246.0 211.7 247.0 212.0 248.0 212.5 249.0 212.8 250.0 213.2 251.0 213.5 252.0 213.8 253.0 214.2 254.0 214.4 255.0 214.5 256.0 214.5 257.0 214.6 258.0 214.6 259.0 214.7 260.0 214.7 261.0 214.6 262.0 214.6 263.0 214.5 264.0 214.5 265.0 214.5 266.0 214.4 267.0 214.4 268.0 214.6 269.0 214.8 270.0 215.1 271.0 215.9 272.0 216.8 273.0 216.8 274.0 216.9 275.0 217.0 276.0 217.2 277.0 217.4 278.0 216.4 279.0 216.3 280.0 216.1 281.0 215.8 282.0 216.0 283.0 216.3 284.0 216.5 285.0 216.4 286.0 216.0 287.0 215.5 288.0 215.2 289.0 215.1 290.0 214.9 291.0 214.7 292.0 214.5 293.0 214.4 294.0 214.4 295.0 214.3 296.0 214.2 297.0 213.9 298.0 213.7 299.0 213.7 300.0 214.5 301.0 214.9 302.0 215.1 303.0 215.3 304.0 215.6 305.0 216.0 306.0 216.4 307.0 216.8 308.0 217.2 309.0 217.0 310.0 216.8 311.0 216.3 312.0 215.8 313.0 215.3 314.0 214.8 315.0 214.5 316.0 214.1 317.0 213.8 318.0 213.4 319.0 213.2 320.0 214.1 321.0 213.6 322.0 213.1 323.0 212.6 324.0 212.1 325.0 211.3 326.0 210.4 327.0 209.4 328.0 208.5 329.0 207.5 330.0 206.4 331.0 205.4 332.0 204.3 333.0 203.2 334.0 202.1 335.0 201.5 336.0 201.0 337.0 200.4 338.0 200.9 339.0 201.2 340.0 202.0 341.0 202.7 342.0 203.4 343.0 204.2 344.0 205.0 345.0 205.8 346.0 206.7 347.0 207.9 348.0 209.1 349.0 210.3 350.0 211.2 351.0 211.8 352.0 212.3 353.0 212.9 354.0 213.3 355.0 213.4 356.0 213.6 357.0 213.7 358.0 214.1 359.0 214.3 360.0 214.5 361.0 214.6 362.0 214.5 363.0 214.4 364.0 214.3 365.0 214.2 366.0 214.1 367.0 214.0 368.0 214.3 369.0 214.7 370.0 215.2 371.0 215.8 372.0 216.6 373.0 217.2 374.0 217.5 375.0 217.6 376.0 217.7 377.0 217.8 378.0 217.9 379.0 218.0 380.0 217.6 381.0 217.3 382.0 217.0 383.0 217.0 384.0 216.9 385.0 216.9 386.0 216.9 387.0 216.6 388.0 216.5 389.0 216.4 390.0 216.3 391.0 216.2 392.0 216.1 393.0 216.0 394.0 215.7 395.0 215.3 396.0 215.0 397.0 215.1 398.0 215.2 399.0 215.0 400.0 214.7 401.0 214.5 402.0 214.3 403.0 214.0 404.0 213.9 405.0 213.6 406.0 214.0 407.0 214.4 408.0 215.0 409.0 215.8 410.0 216.6 411.0 217.4 412.0 217.9 413.0 218.4 414.0 218.6 415.0 218.6 416.0 218.4 417.0 218.1 418.0 217.7 419.0 216.5 420.0 215.9 421.0 215.7 422.0 215.9 423.0 216.3 424.0 216.9 425.0 217.4 426.0 218.0 427.0 218.6 428.0 219.0 429.0 219.2 430.0 219.3 431.0 219.5 432.0 219.7 433.0 220.3 434.0 221.3 435.0 222.4 436.0 223.5 437.0 224.6 438.0 225.9 439.0 226.6 440.0 227.3 441.0 227.9 442.0 227.9 443.0 227.6 444.0 226.5 445.0 225.6 446.0 225.0 447.0 225.0 448.0 224.9 449.0 224.8 450.0 224.7 451.0 224.5 452.0 224.4 453.0 224.4 454.0 224.5 455.0 225.0 456.0 225.7 457.0 226.5 458.0 226.7 459.0 226.7 460.0 226.7 461.0 226.7 462.0 226.6 463.0 226.3 464.0 225.8 465.0 225.3 466.0 224.9 467.0 224.5 468.0 224.2 469.0 223.8 470.0 223.8 471.0 223.2 472.0 221.8 473.0 218.9 474.0 211.4 475.0 203.4 476.0 199.4 477.0 199.4 478.0 199.4 479.0 199.4 480.0 199.4 481.0 199.4 482.0 199.4 483.0 199.4 484.0 201.8 485.0 209.8 486.0 215.0 487.0 219.5 488.0 224.0 489.0 224.6 490.0 224.7 491.0 224.9 492.0 225.0 493.0 225.1 494.0 225.2 495.0 225.4 496.0 225.5 497.0 225.5 498.0 225.5 499.0 225.4 500.0 225.3 501.0 225.4 502.0 225.5 503.0 225.6 504.0 225.5 505.0 225.4 506.0 225.5 507.0 226.0 508.0 226.6 509.0 227.1 510.0 228.3 511.0 228.6 512.0 228.8 513.0 229.0 514.0 229.3 515.0 229.5 516.0 229.7 517.0 229.9 518.0 230.1 519.0 230.2 520.0 229.9 521.0 229.5 522.0 229.2 523.0 228.9 524.0 228.6 525.0 228.3 526.0 228.1 527.0 227.8 528.0 227.6 529.0 227.3 530.0 227.1 531.0 226.8 532.0 226.6 533.0 226.3 534.0 226.1 535.0 225.8 536.0 225.6 537.0 225.4 538.0 225.3 539.0 225.2 540.0 225.1 541.0 225.0 542.0 224.7 543.0 224.2 544.0 223.6 545.0 214.4 546.0 206.4 547.0 202.4 548.0 202.4 549.0 202.4 550.0 202.4 551.0 202.4 552.0 202.4 553.0 202.4 554.0 202.4 555.0 204.8 556.0 212.8 557.0 219.8 558.0 221.4 559.0 221.7 560.0 221.8 561.0 222.0 562.0 222.1 563.0 222.2 564.0 222.3 565.0 222.3 566.0 222.3 567.0 222.2 568.0 222.2 569.0 222.2 570.0 222.2 571.0 222.3 572.0 222.3 573.0 222.2 574.0 222.2 575.0 222.1 576.0 222.0 577.0 222.0 578.0 221.9 579.0 221.9 580.0 221.9 581.0 221.9 582.0 221.9 583.0 221.9 584.0 221.9 585.0 222.5 586.0 223.3 587.0 223.7 588.0 223.9 589.0 224.1 590.0 224.3 591.0 224.5 592.0 224.7 593.0 224.9 594.0 225.1 595.0 225.3 596.0 225.5 597.0 225.6 598.0 225.2 599.0 224.6 600.0 224.4 601.0 224.3 602.0 224.3 603.0 224.2 604.0 223.8 605.0 223.3 606.0 222.8 607.0 221.0 608.0 220.5 609.0 220.1 610.0 219.6 611.0 219.5 612.0 219.4 613.0 219.3 614.0 219.2 615.0 219.1 616.0 219.0 617.0 218.9 618.0 218.8 619.0 218.7 620.0 218.6 621.0 218.7 622.0 218.7 623.0 218.8 624.0 218.8 625.0 218.9 626.0 219.0 627.0 219.0 628.0 219.1 629.0 219.1 630.0 219.2 631.0 219.2 632.0 219.2 633.0 219.1 634.0 219.1 635.0 219.1 636.0 219.1 637.0 219.1 638.0 219.0 639.0 219.0 640.0 219.0 641.0 218.9 642.0 218.7 643.0 218.6 644.0 218.4 645.0 218.3 646.0 218.2 647.0 218.0 648.0 217.9 649.0 217.9 L649 160 Z" fill="#19e019"/>
<path d="M64 160 L64.0 181.2 65.0 181.2 66.0 181.6 67.0 181.9 68.0 182.2 69.0 182.5 70.0 182.9 71.0 183.3 72.0 183.7 73.0 184.1 74.0 184.4 75.0 184.9 76.0 185.3 77.0 185.7 78.0 185.9 79.0 186.1 80.0 186.4 81.0 186.6 82.0 186.9 83.0 187.1 84.0 187.3 85.0 187.6 86.0 187.9 87.0 188.6 88.0 189.3 89.0 189.8 90.0 190.3 91.0 190.6 92.0 190.8 93.0 190.9 94.0 191.0 95.0 191.0 96.0 190.9 97.0 190.7 98.0 190.5 99.0 190.3 100.0 190.2 101.0 190.0 102.0 189.9 103.0 189.9 104.0 189.9 105.0 189.9 106.0 189.9 107.0 189.9 108.0 190.0 109.0 190.0 110.0 190.0 111.0 190.1 112.0 190.2 113.0 190.4 114.0 190.5 115.0 190.6 116.0 190.8 117.0 190.9 118.0 191.1 119.0 191.2 120.0 191.3 121.0 191.5 122.0 191.7 123.0 191.9 124.0 192.1 125.0 192.3 126.0 192.5 127.0 192.7 128.0 192.9 129.0 193.1 130.0 193.4 131.0 193.6 132.0 193.9 133.0 194.1 134.0 194.4 135.0 194.6 136.0 195.0 137.0 195.4 138.0 195.8 139.0 196.2 140.0 196.6 141.0 197.1 142.0 197.6 143.0 198.1 144.0 198.5 145.0 199.0 146.0 199.4 147.0 199.5 148.0 199.6 149.0 199.7 150.0 199.8 151.0 201.0 152.0 200.8 153.0 200.6 154.0 200.4 155.0 200.3 156.0 199.8 157.0 199.5 158.0 199.3 159.0 199.1 160.0 199.0 161.0 199.0 162.0 199.1 163.0 199.1 164.0 199.2 165.0 199.1 166.0 199.1 167.0 199.1 168.0 199.1 169.0 199.2 170.0 199.2 171.0 199.4 172.0 199.4 173.0 199.2 174.0 199.0 175.0 198.9 176.0 198.7 177.0 198.5 178.0 198.3 179.0 198.0 180.0 197.7 181.0 197.5 182.0 197.6 183.0 198.0 184.0 198.4 185.0 198.8 186.0 199.2 187.0 199.9 188.0 200.8 189.0 201.8 190.0 202.7 191.0 203.6 192.0 204.4 193.0 205.1 194.0 205.9 195.0 206.6 196.0 207.1 197.0 207.4 198.0 207.7 199.0 207.9 200.0 208.2 201.0 208.4 202.0 208.4 203.0 208.4 204.0 208.3 205.0 208.3 206.0 208.3 207.0 208.2 208.0 208.2 209.0 208.2 210.0 208.1 211.0 208.0 212.0 208.0 213.0 207.9 214.0 207.8 215.0 207.8 216.0 207.7 217.0 207.7 218.0 207.7 219.0 207.7 220.0 207.7 221.0 207.7 222.0 207.7 223.0 207.7 224.0 207.8 225.0 207.8 226.0 207.9 227.0 207.9 228.0 208.0 229.0 208.1 230.0 208.1 231.0 208.2 232.0 208.3 233.0 208.4 234.0 208.5 235.0 208.5 236.0 208.6 237.0 208.7 238.0 208.9 239.0 209.1 240.0 209.3 241.0 209.5 242.0 209.7 243.0 209.9 244.0 210.1 245.0 210.3 246.0 210.7 247.0 211.0 248.0 211.4 249.0 211.7 250.0 212.1 251.0 212.4 252.0 212.8 253.0 213.2 254.0 213.5 255.0 213.6 256.0 213.7 257.0 213.9 258.0 214.0 259.0 214.1 260.0 214.1 261.0 214.1 262.0 214.0 263.0 214.0 264.0 213.9 265.0 213.9 266.0 213.8 267.0 213.8 268.0 213.9 269.0 214.0 270.0 214.1 271.0 214.4 272.0 214.8 273.0 214.8 274.0 214.9 275.0 215.0 276.0 215.2 277.0 215.4 278.0 215.2 279.0 215.2 280.0 215.3 281.0 215.1 282.0 215.1 283.0 215.0 284.0 215.0 285.0 214.8 286.0 214.6 287.0 214.3 288.0 214.1 289.0 213.9 290.0 213.7 291.0 213.5 292.0 213.3 293.0 213.1 294.0 212.9 295.0 212.7 296.0 212.5 297.0 212.3 298.0 212.1 299.0 212.3 300.0 212.6 301.0 212.9 302.0 213.1 303.0 213.3 304.0 213.6 305.0 214.0 306.0 214.4 307.0 214.8 308.0 215.2 309.0 215.0 310.0 214.8 311.0 214.5 312.0 214.2 313.0 213.9 314.0 213.6 315.0 213.2 316.0 212.9 317.0 212.6 318.0 212.3 319.0 212.0 320.0 213.2 321.0 212.7 322.0 212.2 323.0 211.7 324.0 211.2 325.0 210.4 326.0 209.4 327.0 208.4 328.0 207.4 329.0 206.4 330.0 205.3 331.0 204.1 332.0 202.9 333.0 201.7 334.0 200.5 335.0 199.6 336.0 199.0 337.0 198.4 338.0 198.9 339.0 199.4 340.0 200.0 341.0 200.7 342.0 201.4 343.0 202.2 344.0 203.0 345.0 203.8 346.0 204.7 347.0 205.9 348.0 207.1 349.0 208.3 350.0 209.2 351.0 210.0 352.0 210.7 353.0 211.5 354.0 212.0 355.0 212.1 356.0 212.3 357.0 212.4 358.0 212.7 359.0 212.7 360.0 212.6 361.0 212.6 362.0 212.5 363.0 212.4 364.0 212.3 365.0 212.5 366.0 212.7 367.0 213.0 368.0 213.3 369.0 213.7 370.0 214.1 371.0 214.4 372.0 214.8 373.0 215.2 374.0 215.5 375.0 215.6 376.0 215.7 377.0 215.8 378.0 215.9 379.0 216.0 380.0 215.9 381.0 215.9 382.0 215.9 383.0 215.9 384.0 216.0 385.0 216.0 386.0 216.0 387.0 215.8 388.0 215.6 389.0 215.5 390.0 215.3 391.0 215.1 392.0 215.0 393.0 214.8 394.0 214.5 395.0 214.1 396.0 213.7 397.0 213.5 398.0 213.3 399.0 213.0 400.0 212.7 401.0 212.5 402.0 212.3 403.0 212.0 404.0 212.1 405.0 212.3 406.0 212.7 407.0 213.1 408.0 213.6 409.0 214.2 410.0 214.8 411.0 215.4 412.0 215.9 413.0 216.4 414.0 216.6 415.0 216.6 416.0 216.4 417.0 216.1 418.0 215.8 419.0 215.3 420.0 214.9 421.0 214.7 422.0 215.0 423.0 215.4 424.0 215.9 425.0 216.3 426.0 216.7 427.0 217.2 428.0 217.7 429.0 218.1 430.0 218.5 431.0 218.9 432.0 219.3 433.0 219.8 434.0 220.6 435.0 221.4 436.0 222.2 437.0 223.1 438.0 223.9 439.0 224.6 440.0 225.3 441.0 225.9 442.0 225.9 443.0 225.6 444.0 225.0 445.0 224.5 446.0 224.1 447.0 223.9 448.0 223.7 449.0 223.5 450.0 223.3 451.0 223.1 452.0 223.0 453.0 223.2 454.0 223.4 455.0 223.7 456.0 224.1 457.0 224.6 458.0 224.7 459.0 224.7 460.0 224.7 461.0 224.7 462.0 224.6 463.0 224.3 464.0 223.9 465.0 223.5 466.0 223.1 467.0 222.8 468.0 222.5 469.0 222.1 470.0 221.9 471.0 221.2 472.0 219.8 473.0 216.9 474.0 209.4 475.0 201.4 476.0 197.4 477.0 197.4 478.0 197.4 479.0 197.4 480.0 197.4 481.0 197.4 482.0 197.4 483.0 197.4 484.0 199.8 485.0 207.8 486.0 213.0 487.0 217.5 488.0 222.0 489.0 222.6 490.0 222.7 491.0 222.9 492.0 223.0 493.0 223.1 494.0 223.2 495.0 223.4 496.0 223.5 497.0 223.6 498.0 223.6 499.0 223.7 500.0 223.8 501.0 224.2 502.0 224.5 503.0 224.7 504.0 224.6 505.0 224.4 506.0 224.3 507.0 224.6 508.0 225.0 509.0 225.3 510.0 226.7 511.0 227.0 512.0 227.3 513.0 227.6 514.0 227.9 515.0 228.2 516.0 228.5 517.0 228.8 518.0 229.1 519.0 229.2 520.0 228.8 521.0 228.5 522.0 228.1 523.0 227.8 524.0 227.4 525.0 227.1 526.0 226.9 527.0 226.6 528.0 226.4 529.0 226.1 530.0 225.9 531.0 225.6 532.0 225.4 533.0 225.1 534.0 224.9 535.0 224.6 536.0 224.4 537.0 224.2 538.0 224.1 539.0 223.9 540.0 223.8 541.0 223.7 542.0 223.2 543.0 222.6 544.0 221.9 545.0 212.4 546.0 204.4 547.0 200.4 548.0 200.4 549.0 200.4 550.0 200.4 551.0 200.4 552.0 200.4 553.0 200.4 554.0 200.4 555.0 202.8 556.0 210.8 557.0 217.8 558.0 219.7 559.0 220.2 560.0 220.4 561.0 220.6 562.0 220.9 563.0 221.1 564.0 221.3 565.0 221.3 566.0 221.3 567.0 221.2 568.0 221.2 569.0 221.2 570.0 221.2 571.0 221.3 572.0 221.2 573.0 221.1 574.0 221.1 575.0 221.0 576.0 220.9 577.0 220.8 578.0 220.7 579.0 220.6 580.0 220.6 581.0 220.6 582.0 220.6 583.0 220.5 584.0 220.5 585.0 221.1 586.0 221.4 587.0 221.7 588.0 221.9 589.0 222.1 590.0 222.3 591.0 222.5 592.0 222.7 593.0 222.9 594.0 223.1 595.0 223.3 596.0 223.5 597.0 223.6 598.0 223.4 599.0 223.1 600.0 222.9 601.0 222.8 602.0 222.7 603.0 222.4 604.0 221.9 605.0 221.4 606.0 220.8 607.0 219.0 608.0 218.5 609.0 218.1 610.0 217.6 611.0 217.5 612.0 217.4 613.0 217.3 614.0 217.2 615.0 217.1 616.0 217.0 617.0 216.9 618.0 216.8 619.0 216.7 620.0 216.6 621.0 216.7 622.0 216.7 623.0 216.8 624.0 216.8 625.0 216.9 626.0 217.0 627.0 217.0 628.0 217.1 629.0 217.1 630.0 217.2 631.0 217.2 632.0 217.2 633.0 217.1 634.0 217.1 635.0 217.1 636.0 217.1 637.0 217.1 638.0 217.0 639.0 217.0 640.0 217.0 641.0 216.9 642.0 216.7 643.0 216.6 644.0 216.4 645.0 216.3 646.0 216.2 647.0 216.0 648.0 215.9 649.0 215.9 L649 160 Z" fill="#19e6a0"/>
<path d="M64 160 L64.0 180.6 65.0 180.6 66.0 180.9 67.0 181.2 68.0 181.5 69.0 181.8 70.0 182.2 71.0 182.5 72.0 182.9 73.0 183.2 74.0 183.6 75.0 184.0 76.0 184.3 77.0 184.7 78.0 184.9 79.0 185.1 80.0 185.4 81.0 185.6 82.0 185.9 83.0 186.1 84.0 186.3 85.0 186.8 86.0 187.3 87.0 187.8 88.0 188.3 89.0 188.8 90.0 189.3 91.0 189.6 92.0 189.8 93.0 190.1 94.0 190.4 95.0 190.4 96.0 190.3 97.0 190.1 98.0 189.9 99.0 189.8 100.0 189.6 101.0 189.5 102.0 189.3 103.0 189.3 104.0 189.3 105.0 189.3 106.0 189.3 107.0 189.3 108.0 189.3 109.0 189.3 110.0 189.3 111.0 189.4 112.0 189.5 113.0 189.7 114.0 189.8 115.0 190.0 116.0 190.1 117.0 190.3 118.0 190.4 119.0 190.5 120.0 190.7 121.0 190.8 122.0 191.0 123.0 191.2 124.0 191.4 125.0 191.6 126.0 191.8 127.0 192.0 128.0 192.2 129.0 192.5 130.0 192.7 131.0 192.9 132.0 193.2 133.0 193.4 134.0 193.7 135.0 193.9 136.0 194.3 137.0 194.7 138.0 195.1 139.0 195.6 140.0 196.0 141.0 196.5 142.0 197.0 143.0 197.5 144.0 198.0 145.0 198.5 146.0 198.8 147.0 198.8 148.0 198.8 149.0 198.8 150.0 198.8 151.0 200.0 152.0 199.8 153.0 199.6 154.0 199.4 155.0 199.3 156.0 199.1 157.0 198.9 158.0 198.8 159.0 198.7 160.0 198.6 161.0 198.5 162.0 198.4 163.0 198.3 164.0 198.2 165.0 198.1 166.0 198.2 167.0 198.2 168.0 198.2 169.0 198.3 170.0 198.3 171.0 198.4 172.0 198.4 173.0 198.2 174.0 198.0 175.0 197.9 176.0 197.7 177.0 197.5 178.0 197.3 179.0 197.0 180.0 196.7 181.0 196.5 182.0 196.6 183.0 197.1 184.0 197.6 185.0 198.1 186.0 198.6 187.0 199.3 188.0 200.3 189.0 201.3 190.0 202.3 191.0 203.3 192.0 204.0 193.0 204.8 194.0 205.6 195.0 206.3 196.0 206.8 197.0 207.0 198.0 207.3 199.0 207.5 200.0 207.8 201.0 208.0 202.0 208.0 203.0 207.9 204.0 207.9 205.0 207.8 206.0 207.8 207.0 207.7 208.0 207.6 209.0 207.6 210.0 207.5 211.0 207.5 212.0 207.4 213.0 207.3 214.0 207.3 215.0 207.2 216.0 207.2 217.0 207.2 218.0 207.2 219.0 207.2 220.0 207.2 221.0 207.2 222.0 207.2 223.0 207.2 224.0 207.2 225.0 207.3 226.0 207.3 227.0 207.4 228.0 207.5 229.0 207.5 230.0 207.6 231.0 207.7 232.0 207.8 233.0 207.9 234.0 208.0 235.0 208.1 236.0 208.2 237.0 208.3 238.0 208.4 239.0 208.6 240.0 208.8 241.0 209.0 242.0 209.2 243.0 209.4 244.0 209.6 245.0 209.8 246.0 210.1 247.0 210.5 248.0 210.8 249.0 211.1 250.0 211.5 251.0 211.9 252.0 212.3 253.0 212.7 254.0 213.0 255.0 213.2 256.0 213.3 257.0 213.5 258.0 213.6 259.0 213.8 260.0 213.9 261.0 213.8 262.0 213.7 263.0 213.7 264.0 213.6 265.0 213.6 266.0 213.5 267.0 213.5 268.0 213.5 269.0 213.6 270.0 213.6 271.0 213.7 272.0 213.8 273.0 213.8 274.0 213.9 275.0 214.0 276.0 214.2 277.0 214.4 278.0 214.5 279.0 214.7 280.0 214.9 281.0 214.8 282.0 214.6 283.0 214.4 284.0 214.2 285.0 214.1 286.0 213.9 287.0 213.7 288.0 213.5 289.0 213.3 290.0 213.1 291.0 212.9 292.0 212.7 293.0 212.4 294.0 212.2 295.0 211.9 296.0 211.7 297.0 211.4 298.0 211.3 299.0 211.5 300.0 211.7 301.0 211.9 302.0 212.1 303.0 212.3 304.0 212.6 305.0 213.0 306.0 213.4 307.0 213.8 308.0 214.2 309.0 214.0 310.0 213.8 311.0 213.6 312.0 213.4 313.0 213.2 314.0 212.9 315.0 212.6 316.0 212.3 317.0 212.0 318.0 211.7 319.0 211.4 320.0 212.7 321.0 212.2 322.0 211.7 323.0 211.2 324.0 210.7 325.0 209.9 326.0 208.9 327.0 207.9 328.0 206.9 329.0 205.9 330.0 204.7 331.0 203.5 332.0 202.3 333.0 201.0 334.0 199.7 335.0 198.6 336.0 198.0 337.0 197.4 338.0 197.9 339.0 198.4 340.0 199.0 341.0 199.7 342.0 200.4 343.0 201.2 344.0 202.0 345.0 202.8 346.0 203.7 347.0 204.9 348.0 206.1 349.0 207.3 350.0 208.2 351.0 209.1 352.0 209.9 353.0 210.7 354.0 211.3 355.0 211.5 356.0 211.7 357.0 211.8 358.0 212.0 359.0 211.9 360.0 211.7 361.0 211.6 362.0 211.5 363.0 211.4 364.0 211.3 365.0 211.7 366.0 212.1 367.0 212.4 368.0 212.8 369.0 213.2 370.0 213.5 371.0 213.8 372.0 214.0 373.0 214.2 374.0 214.5 375.0 214.6 376.0 214.7 377.0 214.8 378.0 214.9 379.0 215.0 380.0 215.1 381.0 215.2 382.0 215.3 383.0 215.4 384.0 215.5 385.0 215.6 386.0 215.6 387.0 215.4 388.0 215.2 389.0 215.0 390.0 214.8 391.0 214.6 392.0 214.4 393.0 214.2 394.0 213.8 395.0 213.5 396.0 213.1 397.0 212.7 398.0 212.3 399.0 212.0 400.0 211.7 401.0 211.5 402.0 211.3 403.0 211.0 404.0 211.2 405.0 211.6 406.0 212.0 407.0 212.4 408.0 212.9 409.0 213.4 410.0 213.9 411.0 214.4 412.0 214.9 413.0 215.4 414.0 215.6 415.0 215.6 416.0 215.4 417.0 215.1 418.0 214.9 419.0 214.6 420.0 214.4 421.0 214.2 422.0 214.6 423.0 215.0 424.0 215.4 425.0 215.7 426.0 216.1 427.0 216.5 428.0 217.0 429.0 217.5 430.0 218.0 431.0 218.5 432.0 219.0 433.0 219.6 434.0 220.3 435.0 220.9 436.0 221.6 437.0 222.3 438.0 222.9 439.0 223.6 440.0 224.3 441.0 224.9 442.0 224.9 443.0 224.6 444.0 224.3 445.0 223.9 446.0 223.6 447.0 223.4 448.0 223.1 449.0 222.9 450.0 222.6 451.0 222.4 452.0 222.3 453.0 222.6 454.0 222.8 455.0 223.1 456.0 223.3 457.0 223.6 458.0 223.7 459.0 223.7 460.0 223.7 461.0 223.7 462.0 223.6 463.0 223.3 464.0 222.9 465.0 222.6 466.0 222.3 467.0 221.9 468.0 221.6 469.0 221.3 470.0 220.9 471.0 220.2 472.0 218.8 473.0 215.9 474.0 208.4 475.0 200.4 476.0 196.4 477.0 196.4 478.0 196.4 479.0 196.4 480.0 196.4 481.0 196.4 482.0 196.4 483.0 196.4 484.0 198.8 485.0 206.8 486.0 212.0 487.0 216.5 488.0 221.0 489.0 221.6 490.0 221.7 491.0 221.9 492.0 222.0 493.0 222.1 494.0 222.2 495.0 222.4 496.0 222.5 497.0 222.6 498.0 222.7 499.0 222.9 500.0 223.1 501.0 223.6 502.0 224.1 503.0 224.3 504.0 224.1 505.0 223.8 506.0 223.8 507.0 224.0 508.0 224.2 509.0 224.4 510.0 225.9 511.0 226.2 512.0 226.5 513.0 226.9 514.0 227.2 515.0 227.5 516.0 227.9 517.0 228.2 518.0 228.5 519.0 228.7 520.0 228.3 521.0 228.0 522.0 227.6 523.0 227.2 524.0 226.8 525.0 226.5 526.0 226.3 527.0 226.0 528.0 225.8 529.0 225.5 530.0 225.3 531.0 225.0 532.0 224.8 533.0 224.5 534.0 224.3 535.0 224.0 536.0 223.8 537.0 223.6 538.0 223.4 539.0 223.3 540.0 223.2 541.0 223.0 542.0 222.5 543.0 221.8 544.0 221.0 545.0 211.4 546.0 203.4 547.0 199.4 548.0 199.4 549.0 199.4 550.0 199.4 551.0 199.4 552.0 199.4 553.0 199.4 554.0 199.4 555.0 201.8 556.0 209.8 557.0 216.8 558.0 218.8 559.0 219.5 560.0 219.7 561.0 220.0 562.0 220.2 563.0 220.5 564.0 220.7 565.0 220.8 566.0 220.8 567.0 220.8 568.0 220.8 569.0 220.8 570.0 220.8 571.0 220.8 572.0 220.7 573.0 220.6 574.0 220.5 575.0 220.4 576.0 220.3 577.0 220.2 578.0 220.1 579.0 220.0 580.0 220.0 581.0 219.9 582.0 219.9 583.0 219.8 584.0 219.8 585.0 220.3 586.0 220.5 587.0 220.7 588.0 220.9 589.0 221.1 590.0 221.3 591.0 221.5 592.0 221.7 593.0 221.9 594.0 222.1 595.0 222.3 596.0 222.5 597.0 222.6 598.0 222.5 599.0 222.3 600.0 222.2 601.0 222.0 602.0 221.9 603.0 221.5 604.0 221.0 605.0 220.4 606.0 219.8 607.0 218.0 608.0 217.5 609.0 217.1 610.0 216.6 611.0 216.5 612.0 216.4 613.0 216.3 614.0 216.2 615.0 216.1 616.0 216.0 617.0 215.9 618.0 215.8 619.0 215.7 620.0 215.6 621.0 215.7 622.0 215.7 623.0 215.8 624.0 215.8 625.0 215.9 626.0 216.0 627.0 216.0 628.0 216.1 629.0 216.1 630.0 216.2 631.0 216.2 632.0 216.2 633.0 216.1 634.0 216.1 635.0 216.1 636.0 216.1 637.0 216.1 638.0 216.0 639.0 216.0 640.0 216.0 641.0 215.9 642.0 215.7 643.0 215.6 644.0 215.4 645.0 215.3 646.0 215.2 647.0 215.0 648.0 214.9 649.0 214.9 L649 160 Z" fill="#22ccff"/>
<path d="M190.0 199.5 L192.0 200.6 L194.0 201.5 L196.0 202.5 L198.0 203.1 L200.0 203.0 L202.0 203.3 L204.0 203.9 L206.0 203.8 L208.0 203.7 L210.0 204.2 L212.0 204.4 L214.0 204.0 L216.0 204.2 L218.0 204.7 L220.0 204.5 L222.0 204.4 L224.0 205.0 L226.0 205.2 L228.0 205.0 L230.0 205.3 L232.0 205.9 L234.0 205.8 L236.0 205.7 L238.0 206.4 L240.0 206.7 L242.0 206.5 L244.0 206.8 L246.0 207.5 L248.0 207.6 L250.0 207.8 L252.0 208.8 L254.0 209.1 L256.0 209.0 L258.0 209.5 L260.0 210.2 L262.0 209.9 L264.0 209.7 L266.0 210.3 L268.0 210.4 L270.0 210.0 L272.0 210.4 L274.0 210.9 L276.0 210.6 L278.0 210.5 L280.0 211.1 L282.0 211.2 L284.0 210.6 L286.0 210.7 L288.0 210.9 L290.0 210.4 L292.0 210.0 L294.0 210.2 L296.0 210.0 L298.0 209.6 L300.0 209.9 L302.0 210.4 L304.0 210.1 L306.0 210.0 L308.0 210.6 L310.0 210.7 L312.0 210.2 L314.0 210.2 L316.0 210.3 L318.0 209.8 L320.0 210.3 L322.0 209.4 L324.0 208.1 L326.0 205.7 L328.0 204.0 L330.0 201.8 L332.0 198.6 L334.0 194.7 L336.0 191.9 L338.0 192.0 L340.0 194.7 L342.0 197.4 L344.0 199.4 L346.0 200.7 L348.0 203.0 L350.0 205.4 L352.0 206.7 L354.0 207.3 L356.0 207.4 L358.0 207.5 L360.0 206.9 L362.0 206.6 L364.0 206.9 L366.0 207.3 L368.0 207.4 L370.0 208.2 L372.0 209.3 L374.0 209.7 L376.0 210.1 L378.0 211.1 L380.0 211.2 L382.0 210.9 L384.0 211.2 L386.0 211.5 L388.0 210.7 L390.0 210.2 L392.0 210.3 L394.0 209.7 L396.0 208.7 L398.0 208.4 L400.0 208.2 L402.0 207.3 L404.0 207.2 L406.0 208.2 L408.0 208.6 L410.0 208.8 L412.0 209.7 L414.0 210.8 L416.0 211.0 L418.0 210.7 L420.0 210.9 L422.0 210.9 L424.0 210.8 L426.0 211.5 L428.0 212.3 L430.0 212.5 L432.0 213.1 L434.0 214.3 L436.0 214.9 L438.0 215.2 L440.0 216.1 L442.0 216.9 L444.0 216.9 L446.0 217.1 L448.0 217.8 L450.0 217.8 L452.0 217.6 L454.0 217.9 L456.0 218.2 L458.0 217.7 L460.0 217.7 L462.0 218.1 L464.0 217.9 L466.0 217.4 L468.0 217.5 L470.0 217.5 L472.0 216.1 L474.0 214.9 L476.0 214.2 L478.0 214.0 L480.0 213.6 L482.0 214.0 L484.0 214.8 L486.0 217.1 L488.0 217.3 L490.0 218.0 L492.0 218.0 L494.0 217.9 L496.0 218.6 L498.0 219.0 L500.0 218.8 L502.0 219.1 L504.0 219.8 L506.0 219.8 L508.0 219.7 L510.0 220.9 L512.0 221.6 L514.0 221.6 L516.0 222.1 L518.0 222.3 L520.0 221.8 L520.0 222.6 L518.0 224.1 L516.0 224.0 L514.0 224.8 L512.0 223.5 L510.0 222.6 L508.0 221.5 L506.0 220.1 L504.0 220.9 L502.0 220.2 L500.0 221.2 L498.0 221.4 L496.0 220.7 L494.0 220.9 L492.0 219.1 L490.0 219.1 L488.0 218.2 L486.0 211.2 L484.0 198.0 L482.0 195.6 L480.0 195.6 L478.0 195.6 L476.0 195.6 L474.0 207.6 L472.0 216.7 L470.0 218.6 L468.0 218.4 L466.0 220.0 L464.0 220.4 L462.0 220.2 L460.0 220.5 L458.0 218.9 L456.0 219.3 L454.0 218.5 L452.0 218.9 L450.0 219.7 L448.0 219.4 L446.0 220.4 L444.0 219.1 L442.0 218.6 L440.0 217.4 L438.0 216.0 L436.0 216.2 L434.0 214.9 L432.0 215.7 L430.0 215.1 L428.0 214.4 L426.0 214.0 L424.0 212.1 L422.0 212.2 L420.0 211.2 L418.0 212.1 L416.0 213.1 L414.0 212.4 L412.0 212.8 L410.0 211.0 L408.0 210.6 L406.0 209.1 L404.0 207.9 L402.0 208.8 L400.0 208.8 L398.0 210.8 L396.0 211.3 L394.0 212.1 L392.0 212.5 L390.0 211.5 L388.0 212.3 L386.0 211.7 L384.0 212.5 L382.0 213.0 L380.0 213.0 L378.0 214.0 L376.0 212.3 L374.0 212.0 L372.0 210.1 L370.0 208.9 L368.0 208.9 L366.0 208.1 L364.0 209.2 L362.0 209.0 L360.0 209.6 L358.0 209.6 L356.0 208.5 L354.0 209.1 L352.0 206.9 L350.0 206.6 L348.0 205.0 L346.0 202.9 L344.0 201.2 L342.0 199.4 L340.0 197.2 L338.0 192.8 L336.0 192.5 L334.0 196.2 L332.0 199.7 L330.0 203.9 L328.0 206.1 L326.0 208.1 L324.0 209.9 L322.0 210.4 L320.0 211.9 L318.0 210.2 L316.0 211.5 L314.0 211.9 L312.0 212.6 L310.0 213.0 L308.0 212.3 L306.0 212.6 L304.0 211.0 L302.0 210.9 L300.0 210.9 L298.0 210.5 L296.0 210.9 L294.0 211.4 L292.0 211.9 L290.0 212.3 L288.0 211.8 L286.0 212.1 L284.0 211.2 L282.0 212.5 L280.0 212.5 L278.0 213.1 L276.0 213.4 L274.0 212.5 L272.0 212.7 L270.0 211.1 L268.0 211.2 L266.0 211.1 L264.0 211.1 L262.0 212.5 L260.0 211.9 L258.0 212.5 L256.0 211.3 L254.0 210.2 L252.0 209.9 L250.0 208.4 L248.0 209.2 L246.0 208.6 L244.0 208.8 L242.0 208.4 L240.0 208.0 L238.0 207.6 L236.0 206.7 L234.0 206.9 L232.0 206.5 L230.0 206.6 L228.0 206.7 L226.0 206.5 L224.0 206.4 L222.0 206.4 L220.0 205.9 L218.0 205.7 L216.0 204.6 L214.0 205.9 L212.0 205.5 L210.0 206.6 L208.0 206.7 L206.0 205.8 L204.0 205.9 L202.0 204.1 L200.0 204.4 L198.0 203.7 L196.0 203.6 L194.0 204.3 L192.0 202.6 L190.0 201.5 Z" fill="#0a78ff" fill-opacity="0.5"/>
<path d="M63.8 173.8 L69.6 175.3 L76.9 177.8 L84.2 179.7 L86.9 182.0 L81.3 181.6 L75.5 180.6 L69.6 179.1 L63.8 177.9 Z" fill="#19e019"/>
<path d="M97.1 185.3 L101.8 182.6 L105.4 183.4 L113.5 185.3 L119.6 186.6 L113.5 187.2 L106.2 186.4 L101.8 185.7 L98.3 186.9 Z" fill="#19e019"/>
<path d="M124.9 187.3 L134.7 188.8 L139.1 190.2 L141.0 192.3 L136.9 192.9 L131.0 191.1 L125.2 189.3 Z" fill="#19e019"/>
<path d="M333.2 196.4 L335.1 192.9 L337.1 189.1 L338.7 192.9 L340.5 195.4 L339.0 197.8 L337.1 198.1 L334.9 199.0 Z" fill="#19e019"/>
<g filter="url(#blur2)">
<path d="M609.1 235.6 L612.8 231.9 L620.1 231.9 L624.2 236.3 L623.3 250.2 L621.3 261.9 L618.9 273.6 L614.2 282.3 L610.1 273.6 L608.4 256.0 Z" fill="#ee10a8"/>
<path d="M612.5 241.4 L615.0 238.5 L617.7 240.7 L618.0 253.1 L617.2 267.7 L615.4 280.9 L613.7 279.4 L612.5 261.9 Z" fill="#9a32d2"/>
<ellipse cx="611.3" cy="284.4" rx="5.3" ry="11.7" fill="#ff8c00"/>
<ellipse cx="611.3" cy="284.4" rx="3.8" ry="9.6" fill="#fff200"/>
<ellipse cx="612.5" cy="287.3" rx="1.5" ry="3.8" fill="#19e019"/>
</g>
<g filter="url(#blur2)">
<path d="M237.7 223.9 L242.1 220.2 L250.6 219.8 L249.7 228.2 L246.8 241.4 L244.3 245.8 L240.6 241.4 Z" fill="#ee10a8"/>
<path d="M238.9 223.9 L241.3 221.7 L242.4 228.2 L240.9 238.5 Z" fill="#9a32d2" fill-opacity="0.80"/>
</g>
<path d="M606.9 217.3 L609.9 215.2 L614.2 214.5 L620.1 214.9 L625.9 215.4 L631.8 214.9 L637.6 215.7 L643.5 214.9 L647.9 213.6 L647.9 219.2 L643.5 220.5 L637.6 221.1 L631.8 220.2 L625.9 220.8 L620.1 220.5 L614.2 220.1 L609.9 220.5 L606.9 221.8 L605.2 219.8 Z" fill="#19e019"/>
<ellipse cx="620.1" cy="218.3" rx="1.8" ry="0.9" fill="#19c8ff"/>
<ellipse cx="636.2" cy="218.6" rx="2.0" ry="1.0" fill="#19c8ff"/>
<path d="M342.7 216.5 L343.4 216.5 L345.7 228.2 L348.1 241.4 L345.1 241.4 L344.0 228.2 Z" fill="#fff200" fill-opacity="0.70"/>
<path d="M343.8 228.2 L347.2 228.2 L348.7 241.4 L344.9 241.4 Z" fill="#19e019"/>
<path d="M343.8 235.8 L349.2 235.8 L349.2 251.9 L348.5 269.5 L347.0 266.5 L345.1 247.5 Z" fill="#19c8ff"/>
<path d="M347.0 264.4 L348.7 267.3 L349.8 273.9 L348.8 288.5 L347.3 278.2 Z" fill="#19e019"/>
<path d="M349.2 224.2 L351.0 224.2 L350.8 259.2 L349.8 273.9 L349.2 251.9 Z" fill="#fff200"/>
<path d="M350.8 221.2 L352.0 221.2 L351.7 251.9 L350.8 259.2 Z" fill="#ff3a0a"/>
<path d="M350.7 221.7 L353.9 219.5 L357.4 220.2 L358.9 241.4 L358.3 282.3 L350.7 282.3 L349.7 241.4 Z" fill="#ee10a8"/>
<path d="M351.6 226.8 L353.9 223.9 L356.5 224.6 L357.7 238.5 L357.3 282.3 L351.6 282.3 L350.7 242.9 Z" fill="#9a32d2"/>
<path d="M173.0 223.4 L171.5 231.5 L172.5 244.6 L173.7 267.3 L175.0 259.2 L175.9 244.6 L174.7 231.5 Z" fill="#fff200"/>
<path d="M172.2 241.4 L175.3 241.4 L175.0 260.0 L173.4 260.0 L172.8 246.1 Z" fill="#19e019"/>
<path d="M172.7 245.8 L175.0 245.8 L174.7 255.1 L173.2 255.1 Z" fill="#19c8ff"/>
<path d="M473.2 218.3 L474.6 214.8 L476.4 212.7 L477.0 223.9 L475.2 227.1 L473.5 223.9 Z" fill="#5de000"/>
<path d="M483.1 212.7 L485.2 216.3 L486.1 220.2 L483.7 222.7 Z" fill="#5de000"/>
<path d="M476.4 215.1 L477.0 212.5 L483.1 212.5 L483.9 216.5 L483.6 223.9 L479.6 226.8 L476.8 223.9 Z" fill="#fff200"/>
<path d="M587.9 231.2 L591.9 228.2 L596.5 231.2 L596.0 248.7 L593.9 279.4 L591.9 279.4 L589.7 248.7 Z" fill="#ff8400"/>
<path d="M589.7 229.7 L594.1 229.0 L593.6 242.9 L591.9 248.7 L590.7 241.4 Z" fill="#ffb000"/>
<path d="M628.9 228.2 L633.2 228.2 L634.0 241.4 L632.5 253.1 L630.6 244.3 Z" fill="#ff8400"/>
<path d="M544.8 216.8 L550.2 212.0 L556.1 216.0 L554.2 222.1 L549.8 223.3 L545.8 221.8 Z" fill="#fff200"/>
<path d="M542.2 218.3 L545.1 214.4 L546.3 218.3 L545.4 223.9 L543.3 224.2 Z" fill="#19e019"/>
<path d="M554.7 214.8 L557.1 215.8 L558.2 219.8 L556.5 218.6 Z" fill="#19e019"/>
<ellipse cx="450.1" cy="218.7" rx="6.1" ry="1.3" fill="#0a70ff" fill-opacity="0.85"/>
<ellipse cx="466.2" cy="220.1" rx="7.6" ry="1.9" fill="#0a70ff" fill-opacity="0.80"/>
<ellipse cx="504.9" cy="221.5" rx="3.8" ry="1.0" fill="#0a70ff" fill-opacity="0.80"/>
<ellipse cx="419.4" cy="211.4" rx="5.8" ry="1.2" fill="#0a70ff" fill-opacity="0.70"/>
<ellipse cx="382.9" cy="211.4" rx="7.3" ry="1.0" fill="#0a70ff" fill-opacity="0.60"/>
<ellipse cx="360.9" cy="207.8" rx="5.1" ry="0.9" fill="#0a70ff" fill-opacity="0.40"/>
<ellipse cx="512.9" cy="223.9" rx="4.4" ry="1.3" fill="#0a70ff" fill-opacity="0.35"/>
</g></g>
<path d="M188.4 201.6 V279.4 H194.7 V201.6" fill="none" stroke="#111" stroke-width="1.1"/>
<path d="M432.4 214.8 V292.6 H438.0 V214.8" fill="none" stroke="#111" stroke-width="1.1"/>
<path d="M581.6 216.2 V294.0 H587.7 V216.2" fill="none" stroke="#111" stroke-width="1.1"/>
<text x="193.0" y="191.3" font-size="8.6" fill="#111" stroke="#111" stroke-width="0.3" text-anchor="middle" textLength="19.6" lengthAdjust="spacingAndGlyphs" transform="rotate(-90 193.0 188.2)">KW-1</text>
<text x="436.6" y="203.2" font-size="8.6" fill="#111" stroke="#111" stroke-width="0.3" text-anchor="middle" textLength="25.0" lengthAdjust="spacingAndGlyphs" transform="rotate(-90 436.6 200.1)">KW-13</text>
<text x="582.8" y="205.7" font-size="8.6" fill="#111" stroke="#111" stroke-width="0.3" text-anchor="middle" textLength="20.6" lengthAdjust="spacingAndGlyphs" transform="rotate(-90 582.8 202.6)">KW-7</text>
<path d="M323.5 91 V300" stroke="#1a1a1a" stroke-width="1" stroke-dasharray="1 1" fill="none" shape-rendering="crispEdges"/>
<path d="M462 91 V300" stroke="#222" stroke-width="0.9" stroke-dasharray="1 1" fill="none"/>
<path d="M61.2 173.5 V301 M60.5 300.3 H652" stroke="#111" stroke-width="1.5" fill="none"/>
<path d="M651.3 173.3 V301" stroke="#4a4a4a" stroke-width="1.5" fill="none"/>
<path d="M62 182.5 H64.9 M651.5 182.5 H654.5" stroke="#222" stroke-width="0.8"/>
<text x="56" y="185.4" font-size="8" fill="#111" text-anchor="end" textLength="11.2" lengthAdjust="spacingAndGlyphs">850</text>
<path d="M62 201.5 H64.9 M651.5 201.5 H654.5" stroke="#222" stroke-width="0.8"/>
<text x="56" y="204.4" font-size="8" fill="#111" text-anchor="end" textLength="11.2" lengthAdjust="spacingAndGlyphs">800</text>
<path d="M62 220.5 H64.9 M651.5 220.5 H654.5" stroke="#222" stroke-width="0.8"/>
<text x="56" y="223.4" font-size="8" fill="#111" text-anchor="end" textLength="11.2" lengthAdjust="spacingAndGlyphs">750</text>
<path d="M62 239.5 H64.9 M651.5 239.5 H654.5" stroke="#222" stroke-width="0.8"/>
<text x="56" y="242.4" font-size="8" fill="#111" text-anchor="end" textLength="11.2" lengthAdjust="spacingAndGlyphs">700</text>
<path d="M62 258.5 H64.9 M651.5 258.5 H654.5" stroke="#222" stroke-width="0.8"/>
<text x="56" y="261.4" font-size="8" fill="#111" text-anchor="end" textLength="11.2" lengthAdjust="spacingAndGlyphs">650</text>
<path d="M62 277.5 H64.9 M651.5 277.5 H654.5" stroke="#222" stroke-width="0.8"/>
<text x="56" y="280.4" font-size="8" fill="#111" text-anchor="end" textLength="11.2" lengthAdjust="spacingAndGlyphs">600</text>
<path d="M62 296.5 H64.9 M651.5 296.5 H654.5" stroke="#222" stroke-width="0.8"/>
<text x="56" y="299.4" font-size="8" fill="#111" text-anchor="end" textLength="11.2" lengthAdjust="spacingAndGlyphs">550</text>
<path d="M59.6 298.4 H61 M59.6 294.6 H61 M59.6 292.7 H61 M59.6 290.8 H61 M59.6 288.9 H61 M59.6 287.0 H61 M59.6 285.1 H61 M59.6 283.2 H61 M59.6 281.3 H61 M59.6 279.4 H61 M59.6 275.6 H61 M59.6 273.7 H61 M59.6 271.8 H61 M59.6 269.9 H61 M59.6 268.0 H61 M59.6 266.1 H61 M59.6 264.2 H61 M59.6 262.3 H61 M59.6 260.4 H61 M59.6 256.6 H61 M59.6 254.7 H61 M59.6 252.8 H61 M59.6 250.9 H61 M59.6 249.0 H61 M59.6 247.1 H61 M59.6 245.2 H61 M59.6 243.3 H61 M59.6 241.4 H61 M59.6 237.6 H61 M59.6 235.7 H61 M59.6 233.8 H61 M59.6 231.9 H61 M59.6 230.0 H61 M59.6 228.1 H61 M59.6 226.2 H61 M59.6 224.3 H61 M59.6 222.4 H61 M59.6 218.6 H61 M59.6 216.7 H61 M59.6 214.8 H61 M59.6 212.9 H61 M59.6 211.0 H61 M59.6 209.1 H61 M59.6 207.2 H61 M59.6 205.3 H61 M59.6 203.4 H61 M59.6 199.6 H61 M59.6 197.7 H61 M59.6 195.8 H61 M59.6 193.9 H61 M59.6 192.0 H61 M59.6 190.1 H61 M59.6 188.2 H61 M59.6 186.3 H61 M59.6 184.4 H61 M59.6 180.6 H61 M59.6 178.7 H61 M59.6 176.8 H61 M59.6 174.9 H61" stroke="#111" stroke-width="0.5"/>
<path d="M65.0 301 V304.2 M67.3 301 V302.6 M69.7 301 V302.6 M72.0 301 V302.6 M74.4 301 V302.6 M76.7 301 V302.6 M79.1 301 V302.6 M81.4 301 V302.6 M83.8 301 V302.6 M86.1 301 V302.6 M88.5 301 V304.2 M90.8 301 V302.6 M93.2 301 V302.6 M95.5 301 V302.6 M97.8 301 V302.6 M100.2 301 V302.6 M102.5 301 V302.6 M104.9 301 V302.6 M107.2 301 V302.6 M109.6 301 V302.6 M111.9 301 V304.2 M114.3 301 V302.6 M116.6 301 V302.6 M119.0 301 V302.6 M121.3 301 V302.6 M123.7 301 V302.6 M126.0 301 V302.6 M128.3 301 V302.6 M130.7 301 V302.6 M133.0 301 V302.6 M135.4 301 V304.2 M137.7 301 V302.6 M140.1 301 V302.6 M142.4 301 V302.6 M144.8 301 V302.6 M147.1 301 V302.6 M149.5 301 V302.6 M151.8 301 V302.6 M154.1 301 V302.6 M156.5 301 V302.6 M158.8 301 V304.2 M161.2 301 V302.6 M163.5 301 V302.6 M165.9 301 V302.6 M168.2 301 V302.6 M170.6 301 V302.6 M172.9 301 V302.6 M175.3 301 V302.6 M177.6 301 V302.6 M180.0 301 V302.6 M182.3 301 V304.2 M184.6 301 V302.6 M187.0 301 V302.6 M189.3 301 V302.6 M191.7 301 V302.6 M194.0 301 V302.6 M196.4 301 V302.6 M198.7 301 V302.6 M201.1 301 V302.6 M203.4 301 V302.6 M205.8 301 V304.2 M208.1 301 V302.6 M210.5 301 V302.6 M212.8 301 V302.6 M215.1 301 V302.6 M217.5 301 V302.6 M219.8 301 V302.6 M222.2 301 V302.6 M224.5 301 V302.6 M226.9 301 V302.6 M229.2 301 V304.2 M231.6 301 V302.6 M233.9 301 V302.6 M236.3 301 V302.6 M238.6 301 V302.6 M240.9 301 V302.6 M243.3 301 V302.6 M245.6 301 V302.6 M248.0 301 V302.6 M250.3 301 V302.6 M252.7 301 V304.2 M255.0 301 V302.6 M257.4 301 V302.6 M259.7 301 V302.6 M262.1 301 V302.6 M264.4 301 V302.6 M266.8 301 V302.6 M269.1 301 V302.6 M271.4 301 V302.6 M273.8 301 V302.6 M276.1 301 V304.2 M278.5 301 V302.6 M280.8 301 V302.6 M283.2 301 V302.6 M285.5 301 V302.6 M287.9 301 V302.6 M290.2 301 V302.6 M292.6 301 V302.6 M294.9 301 V302.6 M297.3 301 V302.6 M299.6 301 V304.2 M301.9 301 V302.6 M304.3 301 V302.6 M306.6 301 V302.6 M309.0 301 V302.6 M311.3 301 V302.6 M313.7 301 V302.6 M316.0 301 V302.6 M318.4 301 V302.6 M320.7 301 V302.6 M323.1 301 V304.2 M325.4 301 V302.6 M327.8 301 V302.6 M330.1 301 V302.6 M332.4 301 V302.6 M334.8 301 V302.6 M337.1 301 V302.6 M339.5 301 V302.6 M341.8 301 V302.6 M344.2 301 V302.6 M346.5 301 V304.2 M348.9 301 V302.6 M351.2 301 V302.6 M353.6 301 V302.6 M355.9 301 V302.6 M358.2 301 V302.6 M360.6 301 V302.6 M362.9 301 V302.6 M365.3 301 V302.6 M367.6 301 V302.6 M370.0 301 V304.2 M372.3 301 V302.6 M374.7 301 V302.6 M377.0 301 V302.6 M379.4 301 V302.6 M381.7 301 V302.6 M384.1 301 V302.6 M386.4 301 V302.6 M388.7 301 V302.6 M391.1 301 V302.6 M393.4 301 V304.2 M395.8 301 V302.6 M398.1 301 V302.6 M400.5 301 V302.6 M402.8 301 V302.6 M405.2 301 V302.6 M407.5 301 V302.6 M409.9 301 V302.6 M412.2 301 V302.6 M414.6 301 V302.6 M416.9 301 V304.2 M419.2 301 V302.6 M421.6 301 V302.6 M423.9 301 V302.6 M426.3 301 V302.6 M428.6 301 V302.6 M431.0 301 V302.6 M433.3 301 V302.6 M435.7 301 V302.6 M438.0 301 V302.6 M440.4 301 V304.2 M442.7 301 V302.6 M445.1 301 V302.6 M447.4 301 V302.6 M449.7 301 V302.6 M452.1 301 V302.6 M454.4 301 V302.6 M456.8 301 V302.6 M459.1 301 V302.6 M461.5 301 V302.6 M463.8 301 V304.2 M466.2 301 V302.6 M468.5 301 V302.6 M470.9 301 V302.6 M473.2 301 V302.6 M475.6 301 V302.6 M477.9 301 V302.6 M480.2 301 V302.6 M482.6 301 V302.6 M484.9 301 V302.6 M487.3 301 V304.2 M489.6 301 V302.6 M492.0 301 V302.6 M494.3 301 V302.6 M496.7 301 V302.6 M499.0 301 V302.6 M501.4 301 V302.6 M503.7 301 V302.6 M506.0 301 V302.6 M508.4 301 V302.6 M510.7 301 V304.2 M513.1 301 V302.6 M515.4 301 V302.6 M517.8 301 V302.6 M520.1 301 V302.6 M522.5 301 V302.6 M524.8 301 V302.6 M527.2 301 V302.6 M529.5 301 V302.6 M531.9 301 V302.6 M534.2 301 V304.2 M536.5 301 V302.6 M538.9 301 V302.6 M541.2 301 V302.6 M543.6 301 V302.6 M545.9 301 V302.6 M548.3 301 V302.6 M550.6 301 V302.6 M553.0 301 V302.6 M555.3 301 V302.6 M557.7 301 V304.2 M560.0 301 V302.6 M562.4 301 V302.6 M564.7 301 V302.6 M567.0 301 V302.6 M569.4 301 V302.6 M571.7 301 V302.6 M574.1 301 V302.6 M576.4 301 V302.6 M578.8 301 V302.6 M581.1 301 V304.2 M583.5 301 V302.6 M585.8 301 V302.6 M588.2 301 V302.6 M590.5 301 V302.6 M592.9 301 V302.6 M595.2 301 V302.6 M597.5 301 V302.6 M599.9 301 V302.6 M602.2 301 V302.6 M604.6 301 V304.2 M606.9 301 V302.6 M609.3 301 V302.6 M611.6 301 V302.6 M614.0 301 V302.6 M616.3 301 V302.6 M618.7 301 V302.6 M621.0 301 V302.6 M623.3 301 V302.6 M625.7 301 V302.6 M628.0 301 V304.2 M630.4 301 V302.6 M632.7 301 V302.6 M635.1 301 V302.6 M637.4 301 V302.6 M639.8 301 V302.6 M642.1 301 V302.6 M644.5 301 V302.6 M646.8 301 V302.6 M649.2 301 V302.6" stroke="#111" stroke-width="0.5"/>
<text x="65.2" y="312.6" font-size="8" fill="#111" text-anchor="middle" textLength="4.2" lengthAdjust="spacingAndGlyphs">0</text>
<text x="88.7" y="312.6" font-size="8" fill="#111" text-anchor="middle" textLength="15.1" lengthAdjust="spacingAndGlyphs">1000</text>
<text x="112.1" y="312.6" font-size="8" fill="#111" text-anchor="middle" textLength="15.1" lengthAdjust="spacingAndGlyphs">2000</text>
<text x="135.6" y="312.6" font-size="8" fill="#111" text-anchor="middle" textLength="15.1" lengthAdjust="spacingAndGlyphs">3000</text>
<text x="159.0" y="312.6" font-size="8" fill="#111" text-anchor="middle" textLength="15.1" lengthAdjust="spacingAndGlyphs">4000</text>
<text x="182.5" y="312.6" font-size="8" fill="#111" text-anchor="middle" textLength="15.1" lengthAdjust="spacingAndGlyphs">5000</text>
<text x="206.0" y="312.6" font-size="8" fill="#111" text-anchor="middle" textLength="15.1" lengthAdjust="spacingAndGlyphs">6000</text>
<text x="229.4" y="312.6" font-size="8" fill="#111" text-anchor="middle" textLength="15.1" lengthAdjust="spacingAndGlyphs">7000</text>
<text x="252.9" y="312.6" font-size="8" fill="#111" text-anchor="middle" textLength="15.1" lengthAdjust="spacingAndGlyphs">8000</text>
<text x="276.3" y="312.6" font-size="8" fill="#111" text-anchor="middle" textLength="15.1" lengthAdjust="spacingAndGlyphs">9000</text>
<text x="299.8" y="312.6" font-size="8" fill="#111" text-anchor="middle" textLength="17.6" lengthAdjust="spacingAndGlyphs">10000</text>
<text x="323.3" y="312.6" font-size="8" fill="#111" text-anchor="middle" textLength="17.6" lengthAdjust="spacingAndGlyphs">11000</text>
<text x="346.7" y="312.6" font-size="8" fill="#111" text-anchor="middle" textLength="17.6" lengthAdjust="spacingAndGlyphs">12000</text>
<text x="370.2" y="312.6" font-size="8" fill="#111" text-anchor="middle" textLength="17.6" lengthAdjust="spacingAndGlyphs">13000</text>
<text x="393.6" y="312.6" font-size="8" fill="#111" text-anchor="middle" textLength="17.6" lengthAdjust="spacingAndGlyphs">14000</text>
<text x="417.1" y="312.6" font-size="8" fill="#111" text-anchor="middle" textLength="17.6" lengthAdjust="spacingAndGlyphs">15000</text>
<text x="440.6" y="312.6" font-size="8" fill="#111" text-anchor="middle" textLength="17.6" lengthAdjust="spacingAndGlyphs">16000</text>
<text x="464.0" y="312.6" font-size="8" fill="#111" text-anchor="middle" textLength="17.6" lengthAdjust="spacingAndGlyphs">17000</text>
<text x="487.5" y="312.6" font-size="8" fill="#111" text-anchor="middle" textLength="17.6" lengthAdjust="spacingAndGlyphs">18000</text>
<text x="510.9" y="312.6" font-size="8" fill="#111" text-anchor="middle" textLength="17.6" lengthAdjust="spacingAndGlyphs">19000</text>
<text x="534.4" y="312.6" font-size="8" fill="#111" text-anchor="middle" textLength="17.6" lengthAdjust="spacingAndGlyphs">20000</text>
<text x="557.9" y="312.6" font-size="8" fill="#111" text-anchor="middle" textLength="17.6" lengthAdjust="spacingAndGlyphs">21000</text>
<text x="581.3" y="312.6" font-size="8" fill="#111" text-anchor="middle" textLength="17.6" lengthAdjust="spacingAndGlyphs">22000</text>
<text x="604.8" y="312.6" font-size="8" fill="#111" text-anchor="middle" textLength="17.6" lengthAdjust="spacingAndGlyphs">23000</text>
<text x="628.2" y="312.6" font-size="8" fill="#111" text-anchor="middle" textLength="17.6" lengthAdjust="spacingAndGlyphs">24000</text>
<text x="355.7" y="322" font-size="8" fill="#111" stroke="#111" stroke-width="0.2" text-anchor="middle" textLength="38.2" lengthAdjust="spacing">Distance [m]</text>
<text x="37.2" y="235.5" font-size="8.4" fill="#111" stroke="#111" stroke-width="0.2" text-anchor="middle" textLength="40.5" lengthAdjust="spacing" transform="rotate(-90 37.2 235.5)" dy="2.8">Elevation [m]</text>
<text x="10.7" y="238" font-size="11.5" fill="#222">(b)</text>
<text x="59.2" y="167" font-size="13.5" fill="#111" stroke="#111" stroke-width="0.35" textLength="6.6" lengthAdjust="spacingAndGlyphs">P</text>
<text x="153" y="124.8" font-size="10.5" fill="#333">Gneisses</text>
<text x="377.6" y="124.8" font-size="10.5" fill="#333">Schist</text>
<text x="540.6" y="124.8" font-size="10.5" fill="#333">Gneisses</text>
<path d="M129.0 180.6 V187.4" stroke="#5b9bd5" stroke-width="0.7" stroke-dasharray="1.6 0.9" fill="none"/>
<path d="M126.9 186.0 h4.2 l-2.1 3.4z" fill="#2e75b6"/>
<path d="M147.3 182.2 V190.1" stroke="#5b9bd5" stroke-width="0.7" stroke-dasharray="1.6 0.9" fill="none"/>
<path d="M145.2 188.7 h4.2 l-2.1 3.4z" fill="#2e75b6"/>
<path d="M175.3 167.4 V192.1" stroke="#5b9bd5" stroke-width="0.7" stroke-dasharray="1.6 0.9" fill="none"/>
<path d="M173.2 190.7 h4.2 l-2.1 3.4z" fill="#2e75b6"/>
<path d="M193.7 167.8 V181.0" stroke="#5b9bd5" stroke-width="0.7" stroke-dasharray="1.6 0.9" fill="none"/>
<path d="M230.5 178.4 V200.2" stroke="#5b9bd5" stroke-width="0.7" stroke-dasharray="1.6 0.9" fill="none"/>
<path d="M228.4 198.8 h4.2 l-2.1 3.4z" fill="#2e75b6"/>
<path d="M238.2 194.3 V203.4" stroke="#5b9bd5" stroke-width="0.7" stroke-dasharray="1.6 0.9" fill="none"/>
<path d="M236.1 202.0 h4.2 l-2.1 3.4z" fill="#2e75b6"/>
<path d="M279.1 193.0 V206.6" stroke="#5b9bd5" stroke-width="0.7" stroke-dasharray="1.6 0.9" fill="none"/>
<path d="M277.0 205.2 h4.2 l-2.1 3.4z" fill="#2e75b6"/>
<path d="M309.2 195.2 V208.7" stroke="#5b9bd5" stroke-width="0.7" stroke-dasharray="1.6 0.9" fill="none"/>
<path d="M307.1 207.3 h4.2 l-2.1 3.4z" fill="#2e75b6"/>
<path d="M333.9 142.7 V194.8" stroke="#5b9bd5" stroke-width="0.7" stroke-dasharray="1.6 0.9" fill="none"/>
<path d="M331.8 193.4 h4.2 l-2.1 3.4z" fill="#2e75b6"/>
<path d="M343.7 136.8 V192.9" stroke="#5b9bd5" stroke-width="0.7" stroke-dasharray="1.6 0.9" fill="none"/>
<path d="M341.6 191.5 h4.2 l-2.1 3.4z" fill="#2e75b6"/>
<path d="M338.8 150.4 V188.2" stroke="#5b9bd5" stroke-width="0.7" stroke-dasharray="1.6 0.9" fill="none"/>
<path d="M336.7 186.8 h4.2 l-2.1 3.4z" fill="#2e75b6"/>
<path d="M351.1 166.0 V200.5" stroke="#5b9bd5" stroke-width="0.7" stroke-dasharray="1.6 0.9" fill="none"/>
<path d="M349.0 199.1 h4.2 l-2.1 3.4z" fill="#2e75b6"/>
<path d="M381.3 165.0 V205.6" stroke="#5b9bd5" stroke-width="0.7" stroke-dasharray="1.6 0.9" fill="none"/>
<path d="M379.2 204.2 h4.2 l-2.1 3.4z" fill="#2e75b6"/>
<path d="M372.8 176.2 V207.2" stroke="#5b9bd5" stroke-width="0.7" stroke-dasharray="1.6 0.9" fill="none"/>
<path d="M370.7 205.8 h4.2 l-2.1 3.4z" fill="#2e75b6"/>
<path d="M366.2 185.6 V201.5" stroke="#5b9bd5" stroke-width="0.7" stroke-dasharray="1.6 0.9" fill="none"/>
<path d="M364.1 200.1 h4.2 l-2.1 3.4z" fill="#2e75b6"/>
<path d="M409.6 174.0 V207.6" stroke="#5b9bd5" stroke-width="0.7" stroke-dasharray="1.6 0.9" fill="none"/>
<path d="M407.5 206.2 h4.2 l-2.1 3.4z" fill="#2e75b6"/>
<path d="M400.1 190.0 V205.2" stroke="#5b9bd5" stroke-width="0.7" stroke-dasharray="1.6 0.9" fill="none"/>
<path d="M398.0 203.8 h4.2 l-2.1 3.4z" fill="#2e75b6"/>
<path d="M433.8 168.7 V212.4" stroke="#5b9bd5" stroke-width="0.7" stroke-dasharray="1.6 0.9" fill="none"/>
<path d="M431.7 211.0 h4.2 l-2.1 3.4z" fill="#2e75b6"/>
<path d="M444.7 161.1 V214.4" stroke="#5b9bd5" stroke-width="0.7" stroke-dasharray="1.6 0.9" fill="none"/>
<path d="M442.6 213.0 h4.2 l-2.1 3.4z" fill="#2e75b6"/>
<path d="M442.0 178.5 V214.4" stroke="#5b9bd5" stroke-width="0.7" stroke-dasharray="1.6 0.9" fill="none"/>
<path d="M439.9 213.0 h4.2 l-2.1 3.4z" fill="#2e75b6"/>
<path d="M445.1 191.5 V214.4" stroke="#5b9bd5" stroke-width="0.7" stroke-dasharray="1.6 0.9" fill="none"/>
<path d="M443.0 213.0 h4.2 l-2.1 3.4z" fill="#2e75b6"/>
<path d="M476.9 188.6 V208.3" stroke="#5b9bd5" stroke-width="0.7" stroke-dasharray="1.6 0.9" fill="none"/>
<path d="M474.8 206.9 h4.2 l-2.1 3.4z" fill="#2e75b6"/>
<path d="M491.4 188.6 V214.8" stroke="#5b9bd5" stroke-width="0.7" stroke-dasharray="1.6 0.9" fill="none"/>
<path d="M489.3 213.4 h4.2 l-2.1 3.4z" fill="#2e75b6"/>
<path d="M492.4 167.9 V176.0" stroke="#5b9bd5" stroke-width="0.7" stroke-dasharray="1.6 0.9" fill="none"/>
<path d="M505.4 168.7 V217.9" stroke="#5b9bd5" stroke-width="0.7" stroke-dasharray="1.6 0.9" fill="none"/>
<path d="M503.3 216.5 h4.2 l-2.1 3.4z" fill="#2e75b6"/>
<path d="M514.0 168.7 V218.5" stroke="#5b9bd5" stroke-width="0.7" stroke-dasharray="1.6 0.9" fill="none"/>
<path d="M511.9 217.1 h4.2 l-2.1 3.4z" fill="#2e75b6"/>
<path d="M565.4 169.2 V215.2" stroke="#5b9bd5" stroke-width="0.7" stroke-dasharray="1.6 0.9" fill="none"/>
<path d="M563.3 213.8 h4.2 l-2.1 3.4z" fill="#2e75b6"/>
<path d="M589.8 167.8 V213.8" stroke="#5b9bd5" stroke-width="0.7" stroke-dasharray="1.6 0.9" fill="none"/>
<path d="M587.7 212.4 h4.2 l-2.1 3.4z" fill="#2e75b6"/>
<path d="M596.3 182.2 V214.4" stroke="#5b9bd5" stroke-width="0.7" stroke-dasharray="1.6 0.9" fill="none"/>
<path d="M594.2 213.0 h4.2 l-2.1 3.4z" fill="#2e75b6"/>
<path d="M643.6 181.4 V214.2" stroke="#5b9bd5" stroke-width="0.7" stroke-dasharray="1.6 0.9" fill="none"/>
<path d="M641.5 212.8 h4.2 l-2.1 3.4z" fill="#2e75b6"/>
<circle cx="129.2" cy="157.7" r="6.9" fill="#a9d18e" stroke="#86bf62" stroke-width="1"/>
<text x="129.2" y="160.7" font-size="11.5" fill="#111" text-anchor="middle">m</text>
<circle cx="129.0" cy="174.6" r="6.7" fill="#ed7d31" stroke="#7f8fb0" stroke-width="0.9"/>
<text x="129.0" y="178.6" font-size="11.1" fill="#fff" text-anchor="middle">M</text>
<circle cx="147.3" cy="176.2" r="6.7" fill="#ed7d31" stroke="#7f8fb0" stroke-width="0.9"/>
<text x="147.3" y="180.2" font-size="11.1" fill="#fff" text-anchor="middle">M</text>
<circle cx="175.3" cy="161.4" r="6.9" fill="#4472c4" stroke="#3a63ad" stroke-width="0.6"/>
<text x="175.3" y="165.2" font-size="10.5" fill="#fff" text-anchor="middle" textLength="5.5" lengthAdjust="spacingAndGlyphs">S</text>
<circle cx="193.7" cy="161.8" r="6.9" fill="#4472c4" stroke="#3a63ad" stroke-width="0.6"/>
<text x="193.7" y="165.6" font-size="10.5" fill="#fff" text-anchor="middle" textLength="5.5" lengthAdjust="spacingAndGlyphs">S</text>
<circle cx="230.5" cy="172.4" r="6.9" fill="#4472c4" stroke="#3a63ad" stroke-width="0.6"/>
<text x="230.5" y="176.2" font-size="10.5" fill="#fff" text-anchor="middle" textLength="5.5" lengthAdjust="spacingAndGlyphs">S</text>
<circle cx="238.2" cy="188.3" r="6.7" fill="#ed7d31" stroke="#7f8fb0" stroke-width="0.9"/>
<text x="238.2" y="192.3" font-size="11.1" fill="#fff" text-anchor="middle">M</text>
<circle cx="279.1" cy="187.0" r="6.9" fill="#4472c4" stroke="#3a63ad" stroke-width="0.6"/>
<text x="279.1" y="190.8" font-size="10.5" fill="#fff" text-anchor="middle" textLength="5.5" lengthAdjust="spacingAndGlyphs">S</text>
<circle cx="309.2" cy="189.2" r="6.9" fill="#4472c4" stroke="#3a63ad" stroke-width="0.6"/>
<text x="309.2" y="193.0" font-size="10.5" fill="#fff" text-anchor="middle" textLength="5.5" lengthAdjust="spacingAndGlyphs">S</text>
<circle cx="333.9" cy="136.7" r="6.9" fill="#a9d18e" stroke="#86bf62" stroke-width="1"/>
<text x="333.9" y="139.7" font-size="11.5" fill="#111" text-anchor="middle">m</text>
<circle cx="343.7" cy="130.8" r="6.9" fill="#a9d18e" stroke="#86bf62" stroke-width="1"/>
<text x="343.7" y="133.8" font-size="11.5" fill="#111" text-anchor="middle">m</text>
<circle cx="338.8" cy="144.4" r="6.9" fill="#a9d18e" stroke="#86bf62" stroke-width="1"/>
<text x="338.8" y="147.4" font-size="11.5" fill="#111" text-anchor="middle">m</text>
<circle cx="351.1" cy="160.0" r="6.9" fill="#a9d18e" stroke="#86bf62" stroke-width="1"/>
<text x="351.1" y="163.0" font-size="11.5" fill="#111" text-anchor="middle">m</text>
<circle cx="343.7" cy="179.2" r="6.7" fill="#ed7d31" stroke="#7f8fb0" stroke-width="0.9"/>
<text x="343.7" y="183.2" font-size="11.1" fill="#fff" text-anchor="middle">M</text>
<circle cx="381.3" cy="159.0" r="6.9" fill="#4472c4" stroke="#3a63ad" stroke-width="0.6"/>
<text x="381.3" y="162.8" font-size="10.5" fill="#fff" text-anchor="middle" textLength="5.5" lengthAdjust="spacingAndGlyphs">S</text>
<circle cx="372.8" cy="170.2" r="6.9" fill="#a9d18e" stroke="#86bf62" stroke-width="1"/>
<text x="372.8" y="173.2" font-size="11.5" fill="#111" text-anchor="middle">m</text>
<circle cx="367.6" cy="179.6" r="6.9" fill="#a9d18e" stroke="#86bf62" stroke-width="1"/>
<text x="367.6" y="182.6" font-size="11.5" fill="#111" text-anchor="middle">m</text>
<circle cx="410.5" cy="168.0" r="6.9" fill="#a9d18e" stroke="#86bf62" stroke-width="1"/>
<text x="410.5" y="171.0" font-size="11.5" fill="#111" text-anchor="middle">m</text>
<circle cx="400.1" cy="184.0" r="6.7" fill="#ed7d31" stroke="#7f8fb0" stroke-width="0.9"/>
<text x="400.1" y="188.0" font-size="11.1" fill="#fff" text-anchor="middle">M</text>
<circle cx="445.7" cy="140.2" r="6.9" fill="#4472c4" stroke="#3a63ad" stroke-width="0.6"/>
<text x="445.7" y="144.0" font-size="10.5" fill="#fff" text-anchor="middle" textLength="5.5" lengthAdjust="spacingAndGlyphs">S</text>
<circle cx="433.8" cy="162.7" r="6.9" fill="#a9d18e" stroke="#86bf62" stroke-width="1"/>
<text x="433.8" y="165.7" font-size="11.5" fill="#111" text-anchor="middle">m</text>
<circle cx="444.7" cy="155.1" r="6.9" fill="#a9d18e" stroke="#86bf62" stroke-width="1"/>
<text x="444.7" y="158.1" font-size="11.5" fill="#111" text-anchor="middle">m</text>
<circle cx="442.0" cy="172.5" r="6.9" fill="#a9d18e" stroke="#86bf62" stroke-width="1"/>
<text x="442.0" y="175.5" font-size="11.5" fill="#111" text-anchor="middle">m</text>
<circle cx="445.1" cy="185.5" r="6.7" fill="#ed7d31" stroke="#7f8fb0" stroke-width="0.9"/>
<text x="445.1" y="189.5" font-size="11.1" fill="#fff" text-anchor="middle">M</text>
<circle cx="476.9" cy="182.6" r="6.7" fill="#ed7d31" stroke="#7f8fb0" stroke-width="0.9"/>
<text x="476.9" y="186.6" font-size="11.1" fill="#fff" text-anchor="middle">M</text>
<circle cx="491.4" cy="182.6" r="6.7" fill="#ed7d31" stroke="#7f8fb0" stroke-width="0.9"/>
<text x="491.4" y="186.6" font-size="11.1" fill="#fff" text-anchor="middle">M</text>
<circle cx="492.4" cy="161.9" r="6.9" fill="#4472c4" stroke="#3a63ad" stroke-width="0.6"/>
<text x="492.4" y="165.7" font-size="10.5" fill="#fff" text-anchor="middle" textLength="5.5" lengthAdjust="spacingAndGlyphs">S</text>
<circle cx="506.0" cy="162.7" r="6.9" fill="#4472c4" stroke="#3a63ad" stroke-width="0.6"/>
<text x="506.0" y="166.5" font-size="10.5" fill="#fff" text-anchor="middle" textLength="5.5" lengthAdjust="spacingAndGlyphs">S</text>
<circle cx="514.8" cy="162.7" r="6.9" fill="#4472c4" stroke="#3a63ad" stroke-width="0.6"/>
<text x="514.8" y="166.5" font-size="10.5" fill="#fff" text-anchor="middle" textLength="5.5" lengthAdjust="spacingAndGlyphs">S</text>
<circle cx="565.4" cy="163.2" r="6.9" fill="#4472c4" stroke="#3a63ad" stroke-width="0.6"/>
<text x="565.4" y="167.0" font-size="10.5" fill="#fff" text-anchor="middle" textLength="5.5" lengthAdjust="spacingAndGlyphs">S</text>
<circle cx="589.8" cy="161.8" r="6.9" fill="#4472c4" stroke="#3a63ad" stroke-width="0.6"/>
<text x="589.8" y="165.6" font-size="10.5" fill="#fff" text-anchor="middle" textLength="5.5" lengthAdjust="spacingAndGlyphs">S</text>
<circle cx="596.3" cy="176.2" r="6.7" fill="#ed7d31" stroke="#7f8fb0" stroke-width="0.9"/>
<text x="596.3" y="180.2" font-size="11.1" fill="#fff" text-anchor="middle">M</text>
<circle cx="643.6" cy="175.4" r="6.7" fill="#ed7d31" stroke="#7f8fb0" stroke-width="0.9"/>
<text x="643.6" y="179.4" font-size="11.1" fill="#fff" text-anchor="middle">M</text>
<defs><linearGradient id="cbar" x1="0" x2="1" y1="0" y2="0"><stop offset="0" stop-color="#00007a"/><stop offset="0.07" stop-color="#0000e8"/><stop offset="0.17" stop-color="#0078ff"/><stop offset="0.27" stop-color="#00e4ff"/><stop offset="0.36" stop-color="#10e000"/><stop offset="0.47" stop-color="#f4f400"/><stop offset="0.58" stop-color="#ff8c00"/><stop offset="0.66" stop-color="#ff0a0a"/><stop offset="0.76" stop-color="#f000b8"/><stop offset="0.87" stop-color="#9b2fd6"/><stop offset="1" stop-color="#f0a0f8"/></linearGradient></defs>
<rect x="59.6" y="326.5" width="120.6" height="5.4" fill="url(#cbar)" stroke="#223" stroke-width="0.5"/>
<text x="60.8" y="341.1" font-size="6.2" fill="#222" text-anchor="middle" textLength="6.6" lengthAdjust="spacing">10</text>
<text x="100.9" y="341.1" font-size="6.2" fill="#222" text-anchor="middle" textLength="10.3" lengthAdjust="spacing">100</text>
<text x="143.6" y="341.1" font-size="6.2" fill="#222" text-anchor="middle" textLength="14.0" lengthAdjust="spacing">1000</text>
<text x="181.9" y="341.1" font-size="6.2" fill="#222" text-anchor="middle" textLength="17.8" lengthAdjust="spacing">10000</text>
<text x="122.8" y="348.3" font-size="6" fill="#222" text-anchor="middle" textLength="52.5" lengthAdjust="spacing">Resistivity [Ohm.m]</text>
<circle cx="212.3" cy="339.0" r="6.6" fill="#4472c4" stroke="#3a63ad" stroke-width="0.6"/>
<text x="212.3" y="342.6" font-size="10.0" fill="#fff" text-anchor="middle" textLength="5.2" lengthAdjust="spacingAndGlyphs">S</text>
<text x="223" y="343.5" font-size="11.5" fill="#222" textLength="27.2" lengthAdjust="spacingAndGlyphs">Satlin</text>
<circle cx="407.0" cy="341.0" r="6.2" fill="#ed7d31" stroke="#7f8fb0" stroke-width="0.9"/>
<text x="407.0" y="344.6" font-size="10.1" fill="#fff" text-anchor="middle">M</text>
<text x="418.5" y="344.6" font-size="11.5" fill="#222" textLength="34" lengthAdjust="spacingAndGlyphs">Maglin</text>
<circle cx="536.7" cy="339.9" r="6.4" fill="#a9d18e" stroke="#86bf62" stroke-width="1"/>
<text x="536.7" y="342.8" font-size="11.0" fill="#111" text-anchor="middle">m</text>
<text x="549.2" y="343.8" font-size="11.5" fill="#222" textLength="31.5" lengthAdjust="spacingAndGlyphs">Minlin</text>
</g>
<g id="panelC">
<text x="10.2" y="462.3" font-size="12.5" fill="#222">(c)</text>
<path d="M77.2 460.6 H173.9 M77.2 477.2 H173.9 M77.2 493.7 H173.9 M77.2 510.2 H173.9 M77.2 526.7 H173.9 M77.2 543.3 H173.9 M125.6 444.1 V559.8" stroke="#7a7a7a" stroke-width="0.7" stroke-dasharray="0.8 1.5" fill="none"/>
<path d="M173.6 444.1 V559.8" stroke="#777" stroke-width="1"/>
<path d="M77.2 444.1 H173.9" stroke="#9c9c9c" stroke-width="1.4"/>
<path d="M77.2 443.4 V559.8 H174.1" stroke="#5a5a5a" stroke-width="1.9" fill="none" stroke-linejoin="miter"/>
<text x="74.6" y="445.7" font-size="4.6" fill="#222" text-anchor="end">1e-05</text>
<text x="74.6" y="462.2" font-size="4.6" fill="#222" text-anchor="end">1e-06</text>
<text x="74.6" y="478.8" font-size="4.6" fill="#222" text-anchor="end">1e-07</text>
<text x="74.6" y="495.3" font-size="4.6" fill="#222" text-anchor="end">1e-08</text>
<text x="74.6" y="511.8" font-size="4.6" fill="#222" text-anchor="end">1e-09</text>
<text x="74.6" y="528.3" font-size="4.6" fill="#222" text-anchor="end">1e-10</text>
<text x="74.6" y="544.9" font-size="4.6" fill="#222" text-anchor="end">1e-11</text>
<text x="74.6" y="561.4" font-size="4.6" fill="#222" text-anchor="end">1e-12</text>
<text x="77.2" y="567.2" font-size="4.6" fill="#222" text-anchor="middle">1e-05</text>
<text x="125.6" y="567.2" font-size="4.6" fill="#222" text-anchor="middle">1e-04</text>
<text x="173.9" y="567.2" font-size="4.6" fill="#222" text-anchor="middle">1e-03</text>
<text x="125.6" y="572.8" font-size="4.6" fill="#222" text-anchor="middle">Time [s]</text>
<text x="58.9" y="503.4" font-size="4.4" fill="#222" text-anchor="middle" transform="rotate(-90 58.9 501.9)">dB/dt [V/m^2]</text>
<text x="113.4" y="439.7" font-size="4.8" fill="#222" text-anchor="middle">KW-1</text>
<text x="87.5" y="425.1" font-size="8" fill="#333" textLength="16.3" lengthAdjust="spacingAndGlyphs">KW1</text>
<path d="M86.2 453.6 L91.4 457.1 L96.3 461.2 L101.2 466.4 L106.4 471.9 L111.3 477.6 L116.2 483.6 L121.4 490.4 L125.5 494.5" stroke="#ff3030" stroke-width="0.8" fill="none"/>
<path d="M85.3 452.7h1.8v1.8h-1.8z M90.5 456.2h1.8v1.8h-1.8z M95.4 460.3h1.8v1.8h-1.8z M100.3 465.5h1.8v1.8h-1.8z M105.5 471.0h1.8v1.8h-1.8z M110.4 476.7h1.8v1.8h-1.8z M115.3 482.7h1.8v1.8h-1.8z M120.5 489.5h1.8v1.8h-1.8z M124.6 493.6h1.8v1.8h-1.8z" fill="#ff3030"/>
<rect x="125.2" y="497.2" width="1.6" height="1.6" fill="#ff3030"/>
<rect x="133.3" y="358.0" width="94.9" height="122.6" fill="#fff"/>
<path d="M133.3 480.2 H228.2" stroke="#c8c8c8" stroke-width="0.8"/>
<path d="M151.5 374.6 H223.3 M151.5 384.4 H223.3 M151.5 394.1 H223.3 M151.5 403.8 H223.3 M151.5 413.5 H223.3 M151.5 423.3 H223.3 M151.5 433.0 H223.3 M151.5 442.7 H223.3 M151.5 452.5 H223.3 M172.2 364.9 V462.2 M193.0 364.9 V462.2 M213.8 364.9 V462.2" stroke="#7a7a7a" stroke-width="0.7" stroke-dasharray="0.8 1.5" fill="none"/>
<path d="M151.5 364.9 H223.3 V462.2" fill="none" stroke="#707070" stroke-width="1.1"/>
<path d="M151.5 364.4 V462.2 H223.8" fill="none" stroke="#333" stroke-width="1.5"/>
<text x="149.1" y="366.5" font-size="4.6" fill="#222" text-anchor="end">0</text>
<text x="149.1" y="376.2" font-size="4.6" fill="#222" text-anchor="end">20</text>
<text x="149.1" y="386.0" font-size="4.6" fill="#222" text-anchor="end">40</text>
<text x="149.1" y="395.7" font-size="4.6" fill="#222" text-anchor="end">60</text>
<text x="149.1" y="405.4" font-size="4.6" fill="#222" text-anchor="end">80</text>
<text x="149.1" y="415.1" font-size="4.6" fill="#222" text-anchor="end">100</text>
<text x="149.1" y="424.9" font-size="4.6" fill="#222" text-anchor="end">120</text>
<text x="149.1" y="434.6" font-size="4.6" fill="#222" text-anchor="end">140</text>
<text x="149.1" y="444.3" font-size="4.6" fill="#222" text-anchor="end">160</text>
<text x="149.1" y="454.1" font-size="4.6" fill="#222" text-anchor="end">180</text>
<text x="149.1" y="463.8" font-size="4.6" fill="#222" text-anchor="end">200</text>
<text x="151.8" y="469.4" font-size="4.6" fill="#222" text-anchor="middle">10</text>
<text x="172.6" y="469.4" font-size="4.6" fill="#222" text-anchor="middle">100</text>
<text x="193.3" y="469.4" font-size="4.6" fill="#222" text-anchor="middle">1000</text>
<text x="214.1" y="469.4" font-size="4.6" fill="#222" text-anchor="middle">10000</text>
<text x="187.0" y="474.9" font-size="4.6" fill="#222" text-anchor="middle">Resistivity [Ohmm]</text>
<text x="137.5" y="415.1" font-size="4.6" fill="#222" text-anchor="middle" transform="rotate(-90 137.5 413.5)">Depth [m]</text>
<path d="M151.5 462.2 H181.4" stroke="#ff2020" stroke-width="1.3" fill="none"/>
<path d="M163.7 364.9 L158.1 366.0 L159.3 367.2 L172.5 368.7 L179.1 370.9 L185.8 373.8 L191.3 377.1 L195.7 380.4 L199.0 383.7 L201.2 388.1 L201.9 394.3 L204.1 395.2 L204.1 397.4 L202.8 399.2 L202.8 408.0 L201.2 409.1 L201.2 413.6 L200.1 414.7 L200.1 419.1 L197.9 419.5 L197.9 426.2 L195.3 426.8 L195.3 432.8 L192.4 433.5 L192.4 441.9 L188.4 442.3 L188.4 451.6 L181.4 451.8 L181.4 461.7" stroke="#ff2020" stroke-width="1.2" fill="none" stroke-linejoin="round"/>
<rect x="170.5" y="380.3" width="15" height="7.6" fill="#fff"/>
<text x="172" y="386.7" font-size="6.6" font-weight="bold" fill="#111" textLength="12.2" lengthAdjust="spacingAndGlyphs">DOI</text>
<path d="M186.9 384.4 H198.5" stroke="#111" stroke-width="0.8"/>
<path d="M200.3 382.3 l0.6 1.5 1.6 0.1 -1.2 1 0.4 1.6 -1.4 -0.9 -1.4 0.9 0.4 -1.6 -1.2 -1 1.6 -0.1z" fill="#111"/>
<path d="M196.3 382.9 L199.3 384.4 L196.3 385.9z" fill="#111"/>
<path d="M286.7 462.1 H380.7 M286.7 481.5 H380.7 M286.7 500.9 H380.7 M286.7 520.2 H380.7 M286.7 539.6 H380.7 M333.7 442.7 V559.0" stroke="#7a7a7a" stroke-width="0.7" stroke-dasharray="0.8 1.5" fill="none"/>
<path d="M380.4 442.7 V559.0" stroke="#777" stroke-width="1"/>
<path d="M286.7 442.7 H380.7" stroke="#9c9c9c" stroke-width="1.4"/>
<path d="M286.7 442.0 V559.0 H380.9" stroke="#5a5a5a" stroke-width="1.9" fill="none" stroke-linejoin="miter"/>
<text x="284.1" y="444.3" font-size="4.6" fill="#222" text-anchor="end">1e-05</text>
<text x="284.1" y="463.7" font-size="4.6" fill="#222" text-anchor="end">1e-06</text>
<text x="284.1" y="483.1" font-size="4.6" fill="#222" text-anchor="end">1e-07</text>
<text x="284.1" y="502.5" font-size="4.6" fill="#222" text-anchor="end">1e-08</text>
<text x="284.1" y="521.8" font-size="4.6" fill="#222" text-anchor="end">1e-09</text>
<text x="284.1" y="541.2" font-size="4.6" fill="#222" text-anchor="end">1e-10</text>
<text x="284.1" y="560.6" font-size="4.6" fill="#222" text-anchor="end">1e-11</text>
<text x="286.7" y="566.4" font-size="4.6" fill="#222" text-anchor="middle">1e-05</text>
<text x="333.7" y="566.4" font-size="4.6" fill="#222" text-anchor="middle">1e-04</text>
<text x="380.7" y="566.4" font-size="4.6" fill="#222" text-anchor="middle">1e-03</text>
<text x="333.7" y="572.0" font-size="4.6" fill="#222" text-anchor="middle">Time [s]</text>
<text x="268.4" y="502.4" font-size="4.4" fill="#222" text-anchor="middle" transform="rotate(-90 268.4 500.9)">dB/dt [V/m^2]</text>
<text x="324.4" y="438.3" font-size="4.8" fill="#222" text-anchor="middle">KW-13</text>
<text x="299.9" y="423.7" font-size="8" fill="#333" textLength="22.1" lengthAdjust="spacingAndGlyphs">KW13</text>
<path d="M295.4 451.7 L300.9 455.5 L305.8 459.9 L310.9 464.5 L315.8 468.6 L320.7 473.2 L325.6 477.6 L330.3 482.8 L335.2 488.2 L339.8 493.6 L344.4 499.1 L349.3 505.4 L354.0 511.4" stroke="#ff3030" stroke-width="0.8" fill="none"/>
<path d="M294.5 450.8h1.8v1.8h-1.8z M300.0 454.6h1.8v1.8h-1.8z M304.9 459.0h1.8v1.8h-1.8z M310.0 463.6h1.8v1.8h-1.8z M314.9 467.7h1.8v1.8h-1.8z M319.8 472.3h1.8v1.8h-1.8z M324.7 476.7h1.8v1.8h-1.8z M329.4 481.9h1.8v1.8h-1.8z M334.3 487.3h1.8v1.8h-1.8z M338.9 492.7h1.8v1.8h-1.8z M343.5 498.2h1.8v1.8h-1.8z M348.4 504.5h1.8v1.8h-1.8z M353.1 510.5h1.8v1.8h-1.8z" fill="#ff3030"/>
<path d="M331.9 476.8 L334.1 480.3 L337.1 483.6 L340.4 488.5 L344.4 494.5 L349.3 501.3 L353.4 508.1 L357.5 513.5 L361.6 520.3 L365.7 526.6 L370.3 533.1" stroke="#22a33a" stroke-width="0.8" fill="none"/>
<path d="M331.0 475.9h1.8v1.8h-1.8z M333.2 479.4h1.8v1.8h-1.8z M336.2 482.7h1.8v1.8h-1.8z M339.5 487.6h1.8v1.8h-1.8z M343.5 493.6h1.8v1.8h-1.8z M348.4 500.4h1.8v1.8h-1.8z M352.5 507.2h1.8v1.8h-1.8z M356.6 512.6h1.8v1.8h-1.8z M360.7 519.4h1.8v1.8h-1.8z M364.8 525.7h1.8v1.8h-1.8z M369.4 532.2h1.8v1.8h-1.8z" fill="#22a33a"/>
<rect x="345.0" y="358.0" width="95.5" height="120.2" fill="#fff"/>
<path d="M363.3 374.0 H435.6 M363.3 383.7 H435.6 M363.3 393.5 H435.6 M363.3 403.2 H435.6 M363.3 412.9 H435.6 M363.3 422.6 H435.6 M363.3 432.3 H435.6 M363.3 442.1 H435.6 M363.3 451.8 H435.6 M384.1 364.3 V461.5 M404.8 364.3 V461.5 M425.6 364.3 V461.5" stroke="#7a7a7a" stroke-width="0.7" stroke-dasharray="0.8 1.5" fill="none"/>
<path d="M363.3 364.3 H435.6 V461.5" fill="none" stroke="#707070" stroke-width="1.1"/>
<path d="M363.3 363.8 V461.5 H436.1" fill="none" stroke="#333" stroke-width="1.5"/>
<text x="360.9" y="365.9" font-size="4.6" fill="#222" text-anchor="end">0</text>
<text x="360.9" y="375.6" font-size="4.6" fill="#222" text-anchor="end">20</text>
<text x="360.9" y="385.3" font-size="4.6" fill="#222" text-anchor="end">40</text>
<text x="360.9" y="395.1" font-size="4.6" fill="#222" text-anchor="end">60</text>
<text x="360.9" y="404.8" font-size="4.6" fill="#222" text-anchor="end">80</text>
<text x="360.9" y="414.5" font-size="4.6" fill="#222" text-anchor="end">100</text>
<text x="360.9" y="424.2" font-size="4.6" fill="#222" text-anchor="end">120</text>
<text x="360.9" y="433.9" font-size="4.6" fill="#222" text-anchor="end">140</text>
<text x="360.9" y="443.7" font-size="4.6" fill="#222" text-anchor="end">160</text>
<text x="360.9" y="453.4" font-size="4.6" fill="#222" text-anchor="end">180</text>
<text x="360.9" y="463.1" font-size="4.6" fill="#222" text-anchor="end">200</text>
<text x="363.6" y="468.7" font-size="4.6" fill="#222" text-anchor="middle">10</text>
<text x="384.4" y="468.7" font-size="4.6" fill="#222" text-anchor="middle">100</text>
<text x="405.1" y="468.7" font-size="4.6" fill="#222" text-anchor="middle">1000</text>
<text x="425.9" y="468.7" font-size="4.6" fill="#222" text-anchor="middle">10000</text>
<text x="398.8" y="474.2" font-size="4.6" fill="#222" text-anchor="middle">Resistivity [Ohmm]</text>
<text x="349.3" y="414.5" font-size="4.6" fill="#222" text-anchor="middle" transform="rotate(-90 349.3 412.9)">Depth [m]</text>
<path d="M407.9 461.5 H414.0" stroke="#ff2020" stroke-width="0.9" fill="none"/>
<path d="M385.8 364.3 L382.5 365.6 L375.9 367.2 L370.4 369.4 L363.7 370.0 L371.5 370.5 L375.9 372.2 L381.4 374.9 L386.9 377.8 L391.4 380.9 L394.7 383.7 L397.5 387.0 L399.8 390.4 L401.3 393.7 L402.8 398.1 L404.0 403.6 L405.1 412.5 L405.7 421.3 L406.2 432.3 L406.8 443.4 L407.5 454.4 L407.9 461.5" stroke="#ff2020" stroke-width="1.2" fill="none" stroke-linejoin="round"/>
<path d="M501.9 462.1 H598.8 M501.9 481.5 H598.8 M501.9 500.9 H598.8 M501.9 520.2 H598.8 M501.9 539.6 H598.8 M550.3 442.7 V559.0" stroke="#7a7a7a" stroke-width="0.7" stroke-dasharray="0.8 1.5" fill="none"/>
<path d="M598.5 442.7 V559.0" stroke="#777" stroke-width="1"/>
<path d="M501.9 442.7 H598.8" stroke="#9c9c9c" stroke-width="1.4"/>
<path d="M501.9 442.0 V559.0 H599.0" stroke="#5a5a5a" stroke-width="1.9" fill="none" stroke-linejoin="miter"/>
<text x="499.3" y="444.3" font-size="4.6" fill="#222" text-anchor="end">1e-05</text>
<text x="499.3" y="463.7" font-size="4.6" fill="#222" text-anchor="end">1e-06</text>
<text x="499.3" y="483.1" font-size="4.6" fill="#222" text-anchor="end">1e-07</text>
<text x="499.3" y="502.5" font-size="4.6" fill="#222" text-anchor="end">1e-08</text>
<text x="499.3" y="521.8" font-size="4.6" fill="#222" text-anchor="end">1e-09</text>
<text x="499.3" y="541.2" font-size="4.6" fill="#222" text-anchor="end">1e-10</text>
<text x="499.3" y="560.6" font-size="4.6" fill="#222" text-anchor="end">1e-11</text>
<text x="501.9" y="566.4" font-size="4.6" fill="#222" text-anchor="middle">1e-05</text>
<text x="550.3" y="566.4" font-size="4.6" fill="#222" text-anchor="middle">1e-04</text>
<text x="598.8" y="566.4" font-size="4.6" fill="#222" text-anchor="middle">1e-03</text>
<text x="550.3" y="572.0" font-size="4.6" fill="#222" text-anchor="middle">Time [s]</text>
<text x="483.6" y="502.4" font-size="4.4" fill="#222" text-anchor="middle" transform="rotate(-90 483.6 500.9)">dB/dt [V/m^2]</text>
<text x="539.6" y="438.3" font-size="4.8" fill="#222" text-anchor="middle">KW-13</text>
<text x="517.5" y="422.9" font-size="8" fill="#333" textLength="17.0" lengthAdjust="spacingAndGlyphs">KW7</text>
<path d="M510.9 470.5 L516.9 477.6 L521.8 484.1 L526.7 490.4 L532.1 495.3 L537.3 500.7 L542.2 505.4 L547.1 510.3" stroke="#ff3030" stroke-width="0.8" fill="none"/>
<path d="M510.0 469.6h1.8v1.8h-1.8z M516.0 476.7h1.8v1.8h-1.8z M520.9 483.2h1.8v1.8h-1.8z M525.8 489.5h1.8v1.8h-1.8z M531.2 494.4h1.8v1.8h-1.8z M536.4 499.8h1.8v1.8h-1.8z M541.3 504.5h1.8v1.8h-1.8z M546.2 509.4h1.8v1.8h-1.8z" fill="#ff3030"/>
<path d="M548.5 504.8 L551.2 508.1 L553.6 512.2 L556.6 515.7 L559.9 519.8 L563.4 524.4 L567.5 529.1 L570.8 534.0" stroke="#22a33a" stroke-width="0.8" fill="none"/>
<path d="M547.6 503.9h1.8v1.8h-1.8z M550.3 507.2h1.8v1.8h-1.8z M552.7 511.3h1.8v1.8h-1.8z M555.7 514.8h1.8v1.8h-1.8z M559.0 518.9h1.8v1.8h-1.8z M562.5 523.5h1.8v1.8h-1.8z M566.6 528.2h1.8v1.8h-1.8z M569.9 533.1h1.8v1.8h-1.8z" fill="#22a33a"/>
<path d="M546.3 511.2 V513.2 H551.2 V516.4" stroke="#ff3030" stroke-width="0.8" fill="none"/>
<rect x="562.7" y="358.0" width="95.3" height="118.6" fill="#fff"/>
<path d="M581.1 374.6 H652.9 M581.1 384.2 H652.9 M581.1 393.9 H652.9 M581.1 403.5 H652.9 M581.1 413.2 H652.9 M581.1 422.9 H652.9 M581.1 432.5 H652.9 M581.1 442.2 H652.9 M581.1 451.8 H652.9 M601.9 364.9 V461.5 M622.6 364.9 V461.5 M643.4 364.9 V461.5" stroke="#7a7a7a" stroke-width="0.7" stroke-dasharray="0.8 1.5" fill="none"/>
<path d="M581.1 364.9 H652.9 V461.5" fill="none" stroke="#707070" stroke-width="1.1"/>
<path d="M581.1 364.4 V461.5 H653.4" fill="none" stroke="#333" stroke-width="1.5"/>
<text x="578.7" y="366.5" font-size="4.6" fill="#222" text-anchor="end">0</text>
<text x="578.7" y="376.2" font-size="4.6" fill="#222" text-anchor="end">20</text>
<text x="578.7" y="385.8" font-size="4.6" fill="#222" text-anchor="end">40</text>
<text x="578.7" y="395.5" font-size="4.6" fill="#222" text-anchor="end">60</text>
<text x="578.7" y="405.1" font-size="4.6" fill="#222" text-anchor="end">80</text>
<text x="578.7" y="414.8" font-size="4.6" fill="#222" text-anchor="end">100</text>
<text x="578.7" y="424.5" font-size="4.6" fill="#222" text-anchor="end">120</text>
<text x="578.7" y="434.1" font-size="4.6" fill="#222" text-anchor="end">140</text>
<text x="578.7" y="443.8" font-size="4.6" fill="#222" text-anchor="end">160</text>
<text x="578.7" y="453.4" font-size="4.6" fill="#222" text-anchor="end">180</text>
<text x="578.7" y="463.1" font-size="4.6" fill="#222" text-anchor="end">200</text>
<text x="581.4" y="468.7" font-size="4.6" fill="#222" text-anchor="middle">10</text>
<text x="602.1" y="468.7" font-size="4.6" fill="#222" text-anchor="middle">100</text>
<text x="622.9" y="468.7" font-size="4.6" fill="#222" text-anchor="middle">1000</text>
<text x="643.6" y="468.7" font-size="4.6" fill="#222" text-anchor="middle">10000</text>
<text x="616.6" y="474.2" font-size="4.6" fill="#222" text-anchor="middle">Resistivity [Ohmm]</text>
<text x="567.1" y="414.8" font-size="4.6" fill="#222" text-anchor="middle" transform="rotate(-90 567.1 413.2)">Depth [m]</text>
<path d="M620.2 461.5 H640.0" stroke="#ff2020" stroke-width="0.7" fill="none"/>
<path d="M613.6 364.9 L604.7 366.0 L602.1 367.8 L604.1 370.0 L609.1 372.7 L614.7 375.3 L619.1 378.2 L622.4 381.1 L625.1 384.8 L626.4 389.3 L627.0 394.8 L627.0 402.5 L626.2 403.2 L626.2 408.0 L625.3 408.7 L625.3 412.9 L624.0 413.6 L624.0 418.6 L620.9 419.1 L620.9 425.7 L616.9 426.2 L616.9 432.8 L612.9 433.5 L612.9 441.6 L611.8 442.3 L611.8 450.7 L620.2 451.1 L620.2 461.5" stroke="#ff2020" stroke-width="1.2" fill="none" stroke-linejoin="round"/>
</g>
</svg></body></html>
